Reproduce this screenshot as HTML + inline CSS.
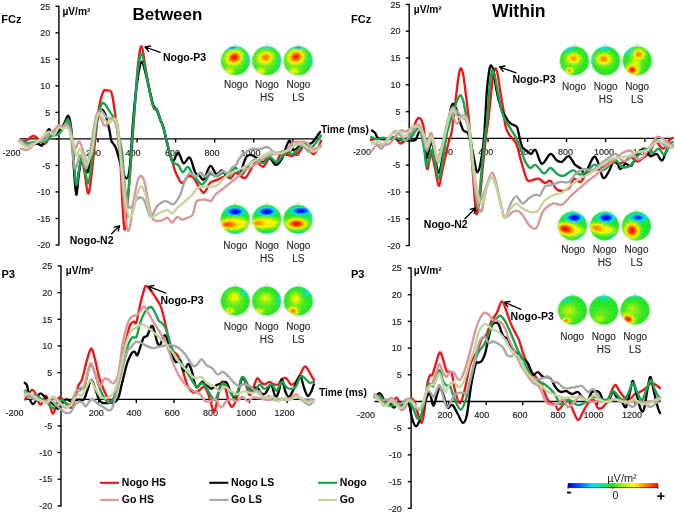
<!DOCTYPE html>
<html><head><meta charset="utf-8"><title>ERP</title>
<style>
html,body{margin:0;padding:0;background:#fff;}
body{width:675px;height:515px;overflow:hidden;font-family:"Liberation Sans",sans-serif;}
svg{display:block;font-family:"Liberation Sans",sans-serif;will-change:transform;filter:blur(0.3px);-webkit-font-smoothing:antialiased;}
.tk{font-size:9px;fill:#1c1c1c;stroke:#1c1c1c;stroke-width:0.15px;}
.tl{font-size:10px;fill:#262626;stroke:#262626;stroke-width:0.12px;}
.ttl{font-size:17px;font-weight:bold;fill:#000;}
.b11{font-size:11px;font-weight:bold;fill:#000;}
.b10{font-size:10.2px;font-weight:bold;fill:#000;}
.b105{font-size:10.5px;font-weight:bold;fill:#000;}
.r11{font-size:11px;fill:#222;}
.r105{font-size:10.5px;fill:#222;}
</style></head><body>
<svg width="675" height="515" viewBox="0 0 675 515">
<defs><filter id="bl" x="-20%" y="-20%" width="140%" height="140%"><feGaussianBlur stdDeviation="0.7"/></filter>
<clipPath id="c1"><circle cx="235.5" cy="60.7" r="14.6"/></clipPath>
<radialGradient id="g1"><stop offset="0.00" stop-color="rgb(250,250,0)" stop-opacity="0.39"/><stop offset="0.08" stop-color="rgb(250,250,0)" stop-opacity="0.38"/><stop offset="0.17" stop-color="rgb(250,250,0)" stop-opacity="0.35"/><stop offset="0.25" stop-color="rgb(250,250,0)" stop-opacity="0.31"/><stop offset="0.33" stop-color="rgb(250,250,0)" stop-opacity="0.25"/><stop offset="0.42" stop-color="rgb(250,250,0)" stop-opacity="0.20"/><stop offset="0.50" stop-color="rgb(250,250,0)" stop-opacity="0.15"/><stop offset="0.58" stop-color="rgb(250,250,0)" stop-opacity="0.10"/><stop offset="0.67" stop-color="rgb(250,250,0)" stop-opacity="0.07"/><stop offset="0.75" stop-color="rgb(250,250,0)" stop-opacity="0.04"/><stop offset="0.83" stop-color="rgb(250,250,0)" stop-opacity="0.02"/><stop offset="0.92" stop-color="rgb(250,250,0)" stop-opacity="0.01"/><stop offset="1.00" stop-color="rgb(250,250,0)" stop-opacity="0.00"/></radialGradient>
<radialGradient id="g2"><stop offset="0.00" stop-color="rgb(0,108,255)" stop-opacity="1.00"/><stop offset="0.08" stop-color="rgb(0,116,255)" stop-opacity="1.00"/><stop offset="0.17" stop-color="rgb(0,137,255)" stop-opacity="1.00"/><stop offset="0.25" stop-color="rgb(0,169,255)" stop-opacity="1.00"/><stop offset="0.33" stop-color="rgb(0,209,255)" stop-opacity="1.00"/><stop offset="0.42" stop-color="rgb(0,225,255)" stop-opacity="0.85"/><stop offset="0.50" stop-color="rgb(0,225,255)" stop-opacity="0.63"/><stop offset="0.58" stop-color="rgb(0,225,255)" stop-opacity="0.44"/><stop offset="0.67" stop-color="rgb(0,225,255)" stop-opacity="0.29"/><stop offset="0.75" stop-color="rgb(0,225,255)" stop-opacity="0.18"/><stop offset="0.83" stop-color="rgb(0,225,255)" stop-opacity="0.11"/><stop offset="0.92" stop-color="rgb(0,225,255)" stop-opacity="0.06"/><stop offset="1.00" stop-color="rgb(0,225,255)" stop-opacity="0.00"/></radialGradient>
<radialGradient id="g3"><stop offset="0.00" stop-color="rgb(242,18,0)" stop-opacity="1.00"/><stop offset="0.08" stop-color="rgb(244,26,0)" stop-opacity="1.00"/><stop offset="0.17" stop-color="rgb(250,50,0)" stop-opacity="1.00"/><stop offset="0.25" stop-color="rgb(255,92,0)" stop-opacity="1.00"/><stop offset="0.33" stop-color="rgb(255,151,0)" stop-opacity="1.00"/><stop offset="0.42" stop-color="rgb(253,200,0)" stop-opacity="1.00"/><stop offset="0.50" stop-color="rgb(250,248,0)" stop-opacity="1.00"/><stop offset="0.58" stop-color="rgb(250,250,0)" stop-opacity="0.71"/><stop offset="0.67" stop-color="rgb(250,250,0)" stop-opacity="0.47"/><stop offset="0.75" stop-color="rgb(250,250,0)" stop-opacity="0.29"/><stop offset="0.83" stop-color="rgb(250,250,0)" stop-opacity="0.17"/><stop offset="0.92" stop-color="rgb(250,250,0)" stop-opacity="0.10"/><stop offset="1.00" stop-color="rgb(250,250,0)" stop-opacity="0.00"/></radialGradient>
<radialGradient id="g4"><stop offset="0.00" stop-color="rgb(251,230,0)" stop-opacity="1.00"/><stop offset="0.08" stop-color="rgb(251,234,0)" stop-opacity="1.00"/><stop offset="0.17" stop-color="rgb(250,246,0)" stop-opacity="1.00"/><stop offset="0.25" stop-color="rgb(250,250,0)" stop-opacity="0.89"/><stop offset="0.33" stop-color="rgb(250,250,0)" stop-opacity="0.74"/><stop offset="0.42" stop-color="rgb(250,250,0)" stop-opacity="0.57"/><stop offset="0.50" stop-color="rgb(250,250,0)" stop-opacity="0.42"/><stop offset="0.58" stop-color="rgb(250,250,0)" stop-opacity="0.30"/><stop offset="0.67" stop-color="rgb(250,250,0)" stop-opacity="0.20"/><stop offset="0.75" stop-color="rgb(250,250,0)" stop-opacity="0.12"/><stop offset="0.83" stop-color="rgb(250,250,0)" stop-opacity="0.07"/><stop offset="0.92" stop-color="rgb(250,250,0)" stop-opacity="0.04"/><stop offset="1.00" stop-color="rgb(250,250,0)" stop-opacity="0.00"/></radialGradient>
<radialGradient id="g5"><stop offset="0.00" stop-color="rgb(0,225,255)" stop-opacity="0.41"/><stop offset="0.08" stop-color="rgb(0,225,255)" stop-opacity="0.40"/><stop offset="0.17" stop-color="rgb(0,225,255)" stop-opacity="0.36"/><stop offset="0.25" stop-color="rgb(0,225,255)" stop-opacity="0.32"/><stop offset="0.33" stop-color="rgb(0,225,255)" stop-opacity="0.26"/><stop offset="0.42" stop-color="rgb(0,225,255)" stop-opacity="0.20"/><stop offset="0.50" stop-color="rgb(0,225,255)" stop-opacity="0.15"/><stop offset="0.58" stop-color="rgb(0,225,255)" stop-opacity="0.10"/><stop offset="0.67" stop-color="rgb(0,225,255)" stop-opacity="0.07"/><stop offset="0.75" stop-color="rgb(0,225,255)" stop-opacity="0.04"/><stop offset="0.83" stop-color="rgb(0,225,255)" stop-opacity="0.03"/><stop offset="0.92" stop-color="rgb(0,225,255)" stop-opacity="0.01"/><stop offset="1.00" stop-color="rgb(0,225,255)" stop-opacity="0.00"/></radialGradient>
<clipPath id="c2"><circle cx="266.8" cy="60.7" r="14.6"/></clipPath>
<radialGradient id="g6"><stop offset="0.00" stop-color="rgb(250,250,0)" stop-opacity="0.39"/><stop offset="0.08" stop-color="rgb(250,250,0)" stop-opacity="0.38"/><stop offset="0.17" stop-color="rgb(250,250,0)" stop-opacity="0.35"/><stop offset="0.25" stop-color="rgb(250,250,0)" stop-opacity="0.31"/><stop offset="0.33" stop-color="rgb(250,250,0)" stop-opacity="0.25"/><stop offset="0.42" stop-color="rgb(250,250,0)" stop-opacity="0.20"/><stop offset="0.50" stop-color="rgb(250,250,0)" stop-opacity="0.15"/><stop offset="0.58" stop-color="rgb(250,250,0)" stop-opacity="0.10"/><stop offset="0.67" stop-color="rgb(250,250,0)" stop-opacity="0.07"/><stop offset="0.75" stop-color="rgb(250,250,0)" stop-opacity="0.04"/><stop offset="0.83" stop-color="rgb(250,250,0)" stop-opacity="0.02"/><stop offset="0.92" stop-color="rgb(250,250,0)" stop-opacity="0.01"/><stop offset="1.00" stop-color="rgb(250,250,0)" stop-opacity="0.00"/></radialGradient>
<radialGradient id="g7"><stop offset="0.00" stop-color="rgb(0,225,255)" stop-opacity="1.00"/><stop offset="0.08" stop-color="rgb(0,225,255)" stop-opacity="0.97"/><stop offset="0.17" stop-color="rgb(0,225,255)" stop-opacity="0.90"/><stop offset="0.25" stop-color="rgb(0,225,255)" stop-opacity="0.78"/><stop offset="0.33" stop-color="rgb(0,225,255)" stop-opacity="0.64"/><stop offset="0.42" stop-color="rgb(0,225,255)" stop-opacity="0.50"/><stop offset="0.50" stop-color="rgb(0,225,255)" stop-opacity="0.37"/><stop offset="0.58" stop-color="rgb(0,225,255)" stop-opacity="0.26"/><stop offset="0.67" stop-color="rgb(0,225,255)" stop-opacity="0.17"/><stop offset="0.75" stop-color="rgb(0,225,255)" stop-opacity="0.11"/><stop offset="0.83" stop-color="rgb(0,225,255)" stop-opacity="0.06"/><stop offset="0.92" stop-color="rgb(0,225,255)" stop-opacity="0.04"/><stop offset="1.00" stop-color="rgb(0,225,255)" stop-opacity="0.00"/></radialGradient>
<radialGradient id="g8"><stop offset="0.00" stop-color="rgb(255,118,0)" stop-opacity="1.00"/><stop offset="0.08" stop-color="rgb(255,127,0)" stop-opacity="1.00"/><stop offset="0.17" stop-color="rgb(255,151,0)" stop-opacity="1.00"/><stop offset="0.25" stop-color="rgb(254,179,0)" stop-opacity="1.00"/><stop offset="0.33" stop-color="rgb(252,214,0)" stop-opacity="1.00"/><stop offset="0.42" stop-color="rgb(250,250,0)" stop-opacity="0.99"/><stop offset="0.50" stop-color="rgb(250,250,0)" stop-opacity="0.73"/><stop offset="0.58" stop-color="rgb(250,250,0)" stop-opacity="0.51"/><stop offset="0.67" stop-color="rgb(250,250,0)" stop-opacity="0.34"/><stop offset="0.75" stop-color="rgb(250,250,0)" stop-opacity="0.21"/><stop offset="0.83" stop-color="rgb(250,250,0)" stop-opacity="0.12"/><stop offset="0.92" stop-color="rgb(250,250,0)" stop-opacity="0.07"/><stop offset="1.00" stop-color="rgb(250,250,0)" stop-opacity="0.00"/></radialGradient>
<radialGradient id="g9"><stop offset="0.00" stop-color="rgb(251,230,0)" stop-opacity="1.00"/><stop offset="0.08" stop-color="rgb(251,234,0)" stop-opacity="1.00"/><stop offset="0.17" stop-color="rgb(250,246,0)" stop-opacity="1.00"/><stop offset="0.25" stop-color="rgb(250,250,0)" stop-opacity="0.89"/><stop offset="0.33" stop-color="rgb(250,250,0)" stop-opacity="0.74"/><stop offset="0.42" stop-color="rgb(250,250,0)" stop-opacity="0.57"/><stop offset="0.50" stop-color="rgb(250,250,0)" stop-opacity="0.42"/><stop offset="0.58" stop-color="rgb(250,250,0)" stop-opacity="0.30"/><stop offset="0.67" stop-color="rgb(250,250,0)" stop-opacity="0.20"/><stop offset="0.75" stop-color="rgb(250,250,0)" stop-opacity="0.12"/><stop offset="0.83" stop-color="rgb(250,250,0)" stop-opacity="0.07"/><stop offset="0.92" stop-color="rgb(250,250,0)" stop-opacity="0.04"/><stop offset="1.00" stop-color="rgb(250,250,0)" stop-opacity="0.00"/></radialGradient>
<radialGradient id="g10"><stop offset="0.00" stop-color="rgb(0,225,255)" stop-opacity="0.41"/><stop offset="0.08" stop-color="rgb(0,225,255)" stop-opacity="0.40"/><stop offset="0.17" stop-color="rgb(0,225,255)" stop-opacity="0.36"/><stop offset="0.25" stop-color="rgb(0,225,255)" stop-opacity="0.32"/><stop offset="0.33" stop-color="rgb(0,225,255)" stop-opacity="0.26"/><stop offset="0.42" stop-color="rgb(0,225,255)" stop-opacity="0.20"/><stop offset="0.50" stop-color="rgb(0,225,255)" stop-opacity="0.15"/><stop offset="0.58" stop-color="rgb(0,225,255)" stop-opacity="0.10"/><stop offset="0.67" stop-color="rgb(0,225,255)" stop-opacity="0.07"/><stop offset="0.75" stop-color="rgb(0,225,255)" stop-opacity="0.04"/><stop offset="0.83" stop-color="rgb(0,225,255)" stop-opacity="0.03"/><stop offset="0.92" stop-color="rgb(0,225,255)" stop-opacity="0.01"/><stop offset="1.00" stop-color="rgb(0,225,255)" stop-opacity="0.00"/></radialGradient>
<clipPath id="c3"><circle cx="298.2" cy="60.7" r="14.6"/></clipPath>
<radialGradient id="g11"><stop offset="0.00" stop-color="rgb(250,250,0)" stop-opacity="0.39"/><stop offset="0.08" stop-color="rgb(250,250,0)" stop-opacity="0.38"/><stop offset="0.17" stop-color="rgb(250,250,0)" stop-opacity="0.35"/><stop offset="0.25" stop-color="rgb(250,250,0)" stop-opacity="0.31"/><stop offset="0.33" stop-color="rgb(250,250,0)" stop-opacity="0.25"/><stop offset="0.42" stop-color="rgb(250,250,0)" stop-opacity="0.20"/><stop offset="0.50" stop-color="rgb(250,250,0)" stop-opacity="0.15"/><stop offset="0.58" stop-color="rgb(250,250,0)" stop-opacity="0.10"/><stop offset="0.67" stop-color="rgb(250,250,0)" stop-opacity="0.07"/><stop offset="0.75" stop-color="rgb(250,250,0)" stop-opacity="0.04"/><stop offset="0.83" stop-color="rgb(250,250,0)" stop-opacity="0.02"/><stop offset="0.92" stop-color="rgb(250,250,0)" stop-opacity="0.01"/><stop offset="1.00" stop-color="rgb(250,250,0)" stop-opacity="0.00"/></radialGradient>
<radialGradient id="g12"><stop offset="0.00" stop-color="rgb(0,108,255)" stop-opacity="1.00"/><stop offset="0.08" stop-color="rgb(0,116,255)" stop-opacity="1.00"/><stop offset="0.17" stop-color="rgb(0,137,255)" stop-opacity="1.00"/><stop offset="0.25" stop-color="rgb(0,169,255)" stop-opacity="1.00"/><stop offset="0.33" stop-color="rgb(0,209,255)" stop-opacity="1.00"/><stop offset="0.42" stop-color="rgb(0,225,255)" stop-opacity="0.85"/><stop offset="0.50" stop-color="rgb(0,225,255)" stop-opacity="0.63"/><stop offset="0.58" stop-color="rgb(0,225,255)" stop-opacity="0.44"/><stop offset="0.67" stop-color="rgb(0,225,255)" stop-opacity="0.29"/><stop offset="0.75" stop-color="rgb(0,225,255)" stop-opacity="0.18"/><stop offset="0.83" stop-color="rgb(0,225,255)" stop-opacity="0.11"/><stop offset="0.92" stop-color="rgb(0,225,255)" stop-opacity="0.06"/><stop offset="1.00" stop-color="rgb(0,225,255)" stop-opacity="0.00"/></radialGradient>
<radialGradient id="g13"><stop offset="0.00" stop-color="rgb(245,30,0)" stop-opacity="1.00"/><stop offset="0.08" stop-color="rgb(247,38,0)" stop-opacity="1.00"/><stop offset="0.17" stop-color="rgb(253,61,0)" stop-opacity="1.00"/><stop offset="0.25" stop-color="rgb(255,105,0)" stop-opacity="1.00"/><stop offset="0.33" stop-color="rgb(255,160,0)" stop-opacity="1.00"/><stop offset="0.42" stop-color="rgb(252,207,0)" stop-opacity="1.00"/><stop offset="0.50" stop-color="rgb(250,250,0)" stop-opacity="0.98"/><stop offset="0.58" stop-color="rgb(250,250,0)" stop-opacity="0.68"/><stop offset="0.67" stop-color="rgb(250,250,0)" stop-opacity="0.45"/><stop offset="0.75" stop-color="rgb(250,250,0)" stop-opacity="0.28"/><stop offset="0.83" stop-color="rgb(250,250,0)" stop-opacity="0.17"/><stop offset="0.92" stop-color="rgb(250,250,0)" stop-opacity="0.09"/><stop offset="1.00" stop-color="rgb(250,250,0)" stop-opacity="0.00"/></radialGradient>
<radialGradient id="g14"><stop offset="0.00" stop-color="rgb(251,230,0)" stop-opacity="1.00"/><stop offset="0.08" stop-color="rgb(251,234,0)" stop-opacity="1.00"/><stop offset="0.17" stop-color="rgb(250,246,0)" stop-opacity="1.00"/><stop offset="0.25" stop-color="rgb(250,250,0)" stop-opacity="0.89"/><stop offset="0.33" stop-color="rgb(250,250,0)" stop-opacity="0.74"/><stop offset="0.42" stop-color="rgb(250,250,0)" stop-opacity="0.57"/><stop offset="0.50" stop-color="rgb(250,250,0)" stop-opacity="0.42"/><stop offset="0.58" stop-color="rgb(250,250,0)" stop-opacity="0.30"/><stop offset="0.67" stop-color="rgb(250,250,0)" stop-opacity="0.20"/><stop offset="0.75" stop-color="rgb(250,250,0)" stop-opacity="0.12"/><stop offset="0.83" stop-color="rgb(250,250,0)" stop-opacity="0.07"/><stop offset="0.92" stop-color="rgb(250,250,0)" stop-opacity="0.04"/><stop offset="1.00" stop-color="rgb(250,250,0)" stop-opacity="0.00"/></radialGradient>
<radialGradient id="g15"><stop offset="0.00" stop-color="rgb(0,225,255)" stop-opacity="0.41"/><stop offset="0.08" stop-color="rgb(0,225,255)" stop-opacity="0.40"/><stop offset="0.17" stop-color="rgb(0,225,255)" stop-opacity="0.36"/><stop offset="0.25" stop-color="rgb(0,225,255)" stop-opacity="0.32"/><stop offset="0.33" stop-color="rgb(0,225,255)" stop-opacity="0.26"/><stop offset="0.42" stop-color="rgb(0,225,255)" stop-opacity="0.20"/><stop offset="0.50" stop-color="rgb(0,225,255)" stop-opacity="0.15"/><stop offset="0.58" stop-color="rgb(0,225,255)" stop-opacity="0.10"/><stop offset="0.67" stop-color="rgb(0,225,255)" stop-opacity="0.07"/><stop offset="0.75" stop-color="rgb(0,225,255)" stop-opacity="0.04"/><stop offset="0.83" stop-color="rgb(0,225,255)" stop-opacity="0.03"/><stop offset="0.92" stop-color="rgb(0,225,255)" stop-opacity="0.01"/><stop offset="1.00" stop-color="rgb(0,225,255)" stop-opacity="0.00"/></radialGradient>
<clipPath id="c4"><circle cx="235.2" cy="219.4" r="14.6"/></clipPath>
<radialGradient id="g16"><stop offset="0.00" stop-color="rgb(0,5,228)" stop-opacity="1.00"/><stop offset="0.08" stop-color="rgb(0,8,230)" stop-opacity="1.00"/><stop offset="0.17" stop-color="rgb(0,18,236)" stop-opacity="1.00"/><stop offset="0.25" stop-color="rgb(0,33,245)" stop-opacity="1.00"/><stop offset="0.33" stop-color="rgb(0,56,255)" stop-opacity="1.00"/><stop offset="0.42" stop-color="rgb(0,126,255)" stop-opacity="1.00"/><stop offset="0.50" stop-color="rgb(0,195,255)" stop-opacity="1.00"/><stop offset="0.58" stop-color="rgb(0,225,255)" stop-opacity="0.82"/><stop offset="0.67" stop-color="rgb(0,225,255)" stop-opacity="0.54"/><stop offset="0.75" stop-color="rgb(0,225,255)" stop-opacity="0.34"/><stop offset="0.83" stop-color="rgb(0,225,255)" stop-opacity="0.20"/><stop offset="0.92" stop-color="rgb(0,225,255)" stop-opacity="0.11"/><stop offset="1.00" stop-color="rgb(0,225,255)" stop-opacity="0.00"/></radialGradient>
<radialGradient id="g17"><stop offset="0.00" stop-color="rgb(255,150,0)" stop-opacity="1.00"/><stop offset="0.08" stop-color="rgb(255,156,0)" stop-opacity="1.00"/><stop offset="0.17" stop-color="rgb(254,173,0)" stop-opacity="1.00"/><stop offset="0.25" stop-color="rgb(253,199,0)" stop-opacity="1.00"/><stop offset="0.33" stop-color="rgb(251,231,0)" stop-opacity="1.00"/><stop offset="0.42" stop-color="rgb(250,250,0)" stop-opacity="0.89"/><stop offset="0.50" stop-color="rgb(250,250,0)" stop-opacity="0.66"/><stop offset="0.58" stop-color="rgb(250,250,0)" stop-opacity="0.46"/><stop offset="0.67" stop-color="rgb(250,250,0)" stop-opacity="0.30"/><stop offset="0.75" stop-color="rgb(250,250,0)" stop-opacity="0.19"/><stop offset="0.83" stop-color="rgb(250,250,0)" stop-opacity="0.11"/><stop offset="0.92" stop-color="rgb(250,250,0)" stop-opacity="0.06"/><stop offset="1.00" stop-color="rgb(250,250,0)" stop-opacity="0.00"/></radialGradient>
<radialGradient id="g18" fx="0.3" fy="0.55"><stop offset="0.00" stop-color="rgb(254,66,0)" stop-opacity="1.00"/><stop offset="0.08" stop-color="rgb(255,74,0)" stop-opacity="1.00"/><stop offset="0.17" stop-color="rgb(255,102,0)" stop-opacity="1.00"/><stop offset="0.25" stop-color="rgb(255,145,0)" stop-opacity="1.00"/><stop offset="0.33" stop-color="rgb(253,185,0)" stop-opacity="1.00"/><stop offset="0.42" stop-color="rgb(251,228,0)" stop-opacity="1.00"/><stop offset="0.50" stop-color="rgb(250,250,0)" stop-opacity="0.86"/><stop offset="0.58" stop-color="rgb(250,250,0)" stop-opacity="0.60"/><stop offset="0.67" stop-color="rgb(250,250,0)" stop-opacity="0.40"/><stop offset="0.75" stop-color="rgb(250,250,0)" stop-opacity="0.25"/><stop offset="0.83" stop-color="rgb(250,250,0)" stop-opacity="0.15"/><stop offset="0.92" stop-color="rgb(250,250,0)" stop-opacity="0.08"/><stop offset="1.00" stop-color="rgb(250,250,0)" stop-opacity="0.00"/></radialGradient>
<radialGradient id="g19"><stop offset="0.00" stop-color="rgb(0,225,255)" stop-opacity="0.69"/><stop offset="0.08" stop-color="rgb(0,225,255)" stop-opacity="0.67"/><stop offset="0.17" stop-color="rgb(0,225,255)" stop-opacity="0.62"/><stop offset="0.25" stop-color="rgb(0,225,255)" stop-opacity="0.54"/><stop offset="0.33" stop-color="rgb(0,225,255)" stop-opacity="0.44"/><stop offset="0.42" stop-color="rgb(0,225,255)" stop-opacity="0.34"/><stop offset="0.50" stop-color="rgb(0,225,255)" stop-opacity="0.25"/><stop offset="0.58" stop-color="rgb(0,225,255)" stop-opacity="0.18"/><stop offset="0.67" stop-color="rgb(0,225,255)" stop-opacity="0.12"/><stop offset="0.75" stop-color="rgb(0,225,255)" stop-opacity="0.07"/><stop offset="0.83" stop-color="rgb(0,225,255)" stop-opacity="0.04"/><stop offset="0.92" stop-color="rgb(0,225,255)" stop-opacity="0.02"/><stop offset="1.00" stop-color="rgb(0,225,255)" stop-opacity="0.00"/></radialGradient>
<clipPath id="c5"><circle cx="266.8" cy="219.4" r="14.6"/></clipPath>
<radialGradient id="g20"><stop offset="0.00" stop-color="rgb(0,5,228)" stop-opacity="1.00"/><stop offset="0.08" stop-color="rgb(0,8,230)" stop-opacity="1.00"/><stop offset="0.17" stop-color="rgb(0,18,236)" stop-opacity="1.00"/><stop offset="0.25" stop-color="rgb(0,33,245)" stop-opacity="1.00"/><stop offset="0.33" stop-color="rgb(0,56,255)" stop-opacity="1.00"/><stop offset="0.42" stop-color="rgb(0,126,255)" stop-opacity="1.00"/><stop offset="0.50" stop-color="rgb(0,195,255)" stop-opacity="1.00"/><stop offset="0.58" stop-color="rgb(0,225,255)" stop-opacity="0.82"/><stop offset="0.67" stop-color="rgb(0,225,255)" stop-opacity="0.54"/><stop offset="0.75" stop-color="rgb(0,225,255)" stop-opacity="0.34"/><stop offset="0.83" stop-color="rgb(0,225,255)" stop-opacity="0.20"/><stop offset="0.92" stop-color="rgb(0,225,255)" stop-opacity="0.11"/><stop offset="1.00" stop-color="rgb(0,225,255)" stop-opacity="0.00"/></radialGradient>
<radialGradient id="g21"><stop offset="0.00" stop-color="rgb(253,198,0)" stop-opacity="1.00"/><stop offset="0.08" stop-color="rgb(252,203,0)" stop-opacity="1.00"/><stop offset="0.17" stop-color="rgb(252,217,0)" stop-opacity="1.00"/><stop offset="0.25" stop-color="rgb(251,238,0)" stop-opacity="1.00"/><stop offset="0.33" stop-color="rgb(250,250,0)" stop-opacity="0.89"/><stop offset="0.42" stop-color="rgb(250,250,0)" stop-opacity="0.70"/><stop offset="0.50" stop-color="rgb(250,250,0)" stop-opacity="0.51"/><stop offset="0.58" stop-color="rgb(250,250,0)" stop-opacity="0.36"/><stop offset="0.67" stop-color="rgb(250,250,0)" stop-opacity="0.24"/><stop offset="0.75" stop-color="rgb(250,250,0)" stop-opacity="0.15"/><stop offset="0.83" stop-color="rgb(250,250,0)" stop-opacity="0.09"/><stop offset="0.92" stop-color="rgb(250,250,0)" stop-opacity="0.05"/><stop offset="1.00" stop-color="rgb(250,250,0)" stop-opacity="0.00"/></radialGradient>
<radialGradient id="g22" fx="0.25" fy="0.5"><stop offset="0.00" stop-color="rgb(255,139,0)" stop-opacity="1.00"/><stop offset="0.08" stop-color="rgb(255,147,0)" stop-opacity="1.00"/><stop offset="0.17" stop-color="rgb(254,165,0)" stop-opacity="1.00"/><stop offset="0.25" stop-color="rgb(253,192,0)" stop-opacity="1.00"/><stop offset="0.33" stop-color="rgb(251,225,0)" stop-opacity="1.00"/><stop offset="0.42" stop-color="rgb(250,250,0)" stop-opacity="0.92"/><stop offset="0.50" stop-color="rgb(250,250,0)" stop-opacity="0.68"/><stop offset="0.58" stop-color="rgb(250,250,0)" stop-opacity="0.48"/><stop offset="0.67" stop-color="rgb(250,250,0)" stop-opacity="0.31"/><stop offset="0.75" stop-color="rgb(250,250,0)" stop-opacity="0.20"/><stop offset="0.83" stop-color="rgb(250,250,0)" stop-opacity="0.12"/><stop offset="0.92" stop-color="rgb(250,250,0)" stop-opacity="0.06"/><stop offset="1.00" stop-color="rgb(250,250,0)" stop-opacity="0.00"/></radialGradient>
<radialGradient id="g23"><stop offset="0.00" stop-color="rgb(0,225,255)" stop-opacity="0.69"/><stop offset="0.08" stop-color="rgb(0,225,255)" stop-opacity="0.67"/><stop offset="0.17" stop-color="rgb(0,225,255)" stop-opacity="0.62"/><stop offset="0.25" stop-color="rgb(0,225,255)" stop-opacity="0.54"/><stop offset="0.33" stop-color="rgb(0,225,255)" stop-opacity="0.44"/><stop offset="0.42" stop-color="rgb(0,225,255)" stop-opacity="0.34"/><stop offset="0.50" stop-color="rgb(0,225,255)" stop-opacity="0.25"/><stop offset="0.58" stop-color="rgb(0,225,255)" stop-opacity="0.18"/><stop offset="0.67" stop-color="rgb(0,225,255)" stop-opacity="0.12"/><stop offset="0.75" stop-color="rgb(0,225,255)" stop-opacity="0.07"/><stop offset="0.83" stop-color="rgb(0,225,255)" stop-opacity="0.04"/><stop offset="0.92" stop-color="rgb(0,225,255)" stop-opacity="0.02"/><stop offset="1.00" stop-color="rgb(0,225,255)" stop-opacity="0.00"/></radialGradient>
<clipPath id="c6"><circle cx="298.0" cy="219.4" r="14.6"/></clipPath>
<radialGradient id="g24"><stop offset="0.00" stop-color="rgb(0,20,237)" stop-opacity="1.00"/><stop offset="0.08" stop-color="rgb(0,23,239)" stop-opacity="1.00"/><stop offset="0.17" stop-color="rgb(0,32,244)" stop-opacity="1.00"/><stop offset="0.25" stop-color="rgb(0,46,252)" stop-opacity="1.00"/><stop offset="0.33" stop-color="rgb(0,93,255)" stop-opacity="1.00"/><stop offset="0.42" stop-color="rgb(0,157,255)" stop-opacity="1.00"/><stop offset="0.50" stop-color="rgb(0,220,255)" stop-opacity="1.00"/><stop offset="0.58" stop-color="rgb(0,225,255)" stop-opacity="0.72"/><stop offset="0.67" stop-color="rgb(0,225,255)" stop-opacity="0.47"/><stop offset="0.75" stop-color="rgb(0,225,255)" stop-opacity="0.30"/><stop offset="0.83" stop-color="rgb(0,225,255)" stop-opacity="0.18"/><stop offset="0.92" stop-color="rgb(0,225,255)" stop-opacity="0.10"/><stop offset="1.00" stop-color="rgb(0,225,255)" stop-opacity="0.00"/></radialGradient>
<radialGradient id="g25"><stop offset="0.00" stop-color="rgb(0,225,255)" stop-opacity="0.69"/><stop offset="0.08" stop-color="rgb(0,225,255)" stop-opacity="0.67"/><stop offset="0.17" stop-color="rgb(0,225,255)" stop-opacity="0.62"/><stop offset="0.25" stop-color="rgb(0,225,255)" stop-opacity="0.54"/><stop offset="0.33" stop-color="rgb(0,225,255)" stop-opacity="0.44"/><stop offset="0.42" stop-color="rgb(0,225,255)" stop-opacity="0.34"/><stop offset="0.50" stop-color="rgb(0,225,255)" stop-opacity="0.25"/><stop offset="0.58" stop-color="rgb(0,225,255)" stop-opacity="0.18"/><stop offset="0.67" stop-color="rgb(0,225,255)" stop-opacity="0.12"/><stop offset="0.75" stop-color="rgb(0,225,255)" stop-opacity="0.07"/><stop offset="0.83" stop-color="rgb(0,225,255)" stop-opacity="0.04"/><stop offset="0.92" stop-color="rgb(0,225,255)" stop-opacity="0.02"/><stop offset="1.00" stop-color="rgb(0,225,255)" stop-opacity="0.00"/></radialGradient>
<radialGradient id="g26"><stop offset="0.00" stop-color="rgb(240,10,0)" stop-opacity="1.00"/><stop offset="0.08" stop-color="rgb(242,18,0)" stop-opacity="1.00"/><stop offset="0.17" stop-color="rgb(248,43,0)" stop-opacity="1.00"/><stop offset="0.25" stop-color="rgb(255,83,0)" stop-opacity="1.00"/><stop offset="0.33" stop-color="rgb(255,144,0)" stop-opacity="1.00"/><stop offset="0.42" stop-color="rgb(253,195,0)" stop-opacity="1.00"/><stop offset="0.50" stop-color="rgb(250,244,0)" stop-opacity="1.00"/><stop offset="0.58" stop-color="rgb(250,250,0)" stop-opacity="0.73"/><stop offset="0.67" stop-color="rgb(250,250,0)" stop-opacity="0.48"/><stop offset="0.75" stop-color="rgb(250,250,0)" stop-opacity="0.30"/><stop offset="0.83" stop-color="rgb(250,250,0)" stop-opacity="0.18"/><stop offset="0.92" stop-color="rgb(250,250,0)" stop-opacity="0.10"/><stop offset="1.00" stop-color="rgb(250,250,0)" stop-opacity="0.00"/></radialGradient>
<radialGradient id="g27"><stop offset="0.00" stop-color="rgb(0,225,255)" stop-opacity="0.69"/><stop offset="0.08" stop-color="rgb(0,225,255)" stop-opacity="0.67"/><stop offset="0.17" stop-color="rgb(0,225,255)" stop-opacity="0.62"/><stop offset="0.25" stop-color="rgb(0,225,255)" stop-opacity="0.54"/><stop offset="0.33" stop-color="rgb(0,225,255)" stop-opacity="0.44"/><stop offset="0.42" stop-color="rgb(0,225,255)" stop-opacity="0.34"/><stop offset="0.50" stop-color="rgb(0,225,255)" stop-opacity="0.25"/><stop offset="0.58" stop-color="rgb(0,225,255)" stop-opacity="0.18"/><stop offset="0.67" stop-color="rgb(0,225,255)" stop-opacity="0.12"/><stop offset="0.75" stop-color="rgb(0,225,255)" stop-opacity="0.07"/><stop offset="0.83" stop-color="rgb(0,225,255)" stop-opacity="0.04"/><stop offset="0.92" stop-color="rgb(0,225,255)" stop-opacity="0.02"/><stop offset="1.00" stop-color="rgb(0,225,255)" stop-opacity="0.00"/></radialGradient>
<clipPath id="c7"><circle cx="574.4" cy="60.8" r="14.6"/></clipPath>
<radialGradient id="g28"><stop offset="0.00" stop-color="rgb(250,250,0)" stop-opacity="0.35"/><stop offset="0.08" stop-color="rgb(250,250,0)" stop-opacity="0.34"/><stop offset="0.17" stop-color="rgb(250,250,0)" stop-opacity="0.31"/><stop offset="0.25" stop-color="rgb(250,250,0)" stop-opacity="0.27"/><stop offset="0.33" stop-color="rgb(250,250,0)" stop-opacity="0.22"/><stop offset="0.42" stop-color="rgb(250,250,0)" stop-opacity="0.17"/><stop offset="0.50" stop-color="rgb(250,250,0)" stop-opacity="0.13"/><stop offset="0.58" stop-color="rgb(250,250,0)" stop-opacity="0.09"/><stop offset="0.67" stop-color="rgb(250,250,0)" stop-opacity="0.06"/><stop offset="0.75" stop-color="rgb(250,250,0)" stop-opacity="0.04"/><stop offset="0.83" stop-color="rgb(250,250,0)" stop-opacity="0.02"/><stop offset="0.92" stop-color="rgb(250,250,0)" stop-opacity="0.01"/><stop offset="1.00" stop-color="rgb(250,250,0)" stop-opacity="0.00"/></radialGradient>
<radialGradient id="g29"><stop offset="0.00" stop-color="rgb(0,225,255)" stop-opacity="0.84"/><stop offset="0.08" stop-color="rgb(0,225,255)" stop-opacity="0.82"/><stop offset="0.17" stop-color="rgb(0,225,255)" stop-opacity="0.75"/><stop offset="0.25" stop-color="rgb(0,225,255)" stop-opacity="0.66"/><stop offset="0.33" stop-color="rgb(0,225,255)" stop-opacity="0.54"/><stop offset="0.42" stop-color="rgb(0,225,255)" stop-opacity="0.42"/><stop offset="0.50" stop-color="rgb(0,225,255)" stop-opacity="0.31"/><stop offset="0.58" stop-color="rgb(0,225,255)" stop-opacity="0.22"/><stop offset="0.67" stop-color="rgb(0,225,255)" stop-opacity="0.14"/><stop offset="0.75" stop-color="rgb(0,225,255)" stop-opacity="0.09"/><stop offset="0.83" stop-color="rgb(0,225,255)" stop-opacity="0.05"/><stop offset="0.92" stop-color="rgb(0,225,255)" stop-opacity="0.03"/><stop offset="1.00" stop-color="rgb(0,225,255)" stop-opacity="0.00"/></radialGradient>
<radialGradient id="g30"><stop offset="0.00" stop-color="rgb(255,150,0)" stop-opacity="1.00"/><stop offset="0.08" stop-color="rgb(255,156,0)" stop-opacity="1.00"/><stop offset="0.17" stop-color="rgb(254,173,0)" stop-opacity="1.00"/><stop offset="0.25" stop-color="rgb(253,199,0)" stop-opacity="1.00"/><stop offset="0.33" stop-color="rgb(251,231,0)" stop-opacity="1.00"/><stop offset="0.42" stop-color="rgb(250,250,0)" stop-opacity="0.89"/><stop offset="0.50" stop-color="rgb(250,250,0)" stop-opacity="0.66"/><stop offset="0.58" stop-color="rgb(250,250,0)" stop-opacity="0.46"/><stop offset="0.67" stop-color="rgb(250,250,0)" stop-opacity="0.30"/><stop offset="0.75" stop-color="rgb(250,250,0)" stop-opacity="0.19"/><stop offset="0.83" stop-color="rgb(250,250,0)" stop-opacity="0.11"/><stop offset="0.92" stop-color="rgb(250,250,0)" stop-opacity="0.06"/><stop offset="1.00" stop-color="rgb(250,250,0)" stop-opacity="0.00"/></radialGradient>
<radialGradient id="g31"><stop offset="0.00" stop-color="rgb(255,150,0)" stop-opacity="1.00"/><stop offset="0.08" stop-color="rgb(255,156,0)" stop-opacity="1.00"/><stop offset="0.17" stop-color="rgb(254,173,0)" stop-opacity="1.00"/><stop offset="0.25" stop-color="rgb(253,199,0)" stop-opacity="1.00"/><stop offset="0.33" stop-color="rgb(251,231,0)" stop-opacity="1.00"/><stop offset="0.42" stop-color="rgb(250,250,0)" stop-opacity="0.89"/><stop offset="0.50" stop-color="rgb(250,250,0)" stop-opacity="0.66"/><stop offset="0.58" stop-color="rgb(250,250,0)" stop-opacity="0.46"/><stop offset="0.67" stop-color="rgb(250,250,0)" stop-opacity="0.30"/><stop offset="0.75" stop-color="rgb(250,250,0)" stop-opacity="0.19"/><stop offset="0.83" stop-color="rgb(250,250,0)" stop-opacity="0.11"/><stop offset="0.92" stop-color="rgb(250,250,0)" stop-opacity="0.06"/><stop offset="1.00" stop-color="rgb(250,250,0)" stop-opacity="0.00"/></radialGradient>
<clipPath id="c8"><circle cx="605.7" cy="60.8" r="14.6"/></clipPath>
<radialGradient id="g32"><stop offset="0.00" stop-color="rgb(250,250,0)" stop-opacity="0.35"/><stop offset="0.08" stop-color="rgb(250,250,0)" stop-opacity="0.34"/><stop offset="0.17" stop-color="rgb(250,250,0)" stop-opacity="0.31"/><stop offset="0.25" stop-color="rgb(250,250,0)" stop-opacity="0.27"/><stop offset="0.33" stop-color="rgb(250,250,0)" stop-opacity="0.22"/><stop offset="0.42" stop-color="rgb(250,250,0)" stop-opacity="0.17"/><stop offset="0.50" stop-color="rgb(250,250,0)" stop-opacity="0.13"/><stop offset="0.58" stop-color="rgb(250,250,0)" stop-opacity="0.09"/><stop offset="0.67" stop-color="rgb(250,250,0)" stop-opacity="0.06"/><stop offset="0.75" stop-color="rgb(250,250,0)" stop-opacity="0.04"/><stop offset="0.83" stop-color="rgb(250,250,0)" stop-opacity="0.02"/><stop offset="0.92" stop-color="rgb(250,250,0)" stop-opacity="0.01"/><stop offset="1.00" stop-color="rgb(250,250,0)" stop-opacity="0.00"/></radialGradient>
<radialGradient id="g33"><stop offset="0.00" stop-color="rgb(0,225,255)" stop-opacity="1.00"/><stop offset="0.08" stop-color="rgb(0,225,255)" stop-opacity="0.97"/><stop offset="0.17" stop-color="rgb(0,225,255)" stop-opacity="0.90"/><stop offset="0.25" stop-color="rgb(0,225,255)" stop-opacity="0.78"/><stop offset="0.33" stop-color="rgb(0,225,255)" stop-opacity="0.64"/><stop offset="0.42" stop-color="rgb(0,225,255)" stop-opacity="0.50"/><stop offset="0.50" stop-color="rgb(0,225,255)" stop-opacity="0.37"/><stop offset="0.58" stop-color="rgb(0,225,255)" stop-opacity="0.26"/><stop offset="0.67" stop-color="rgb(0,225,255)" stop-opacity="0.17"/><stop offset="0.75" stop-color="rgb(0,225,255)" stop-opacity="0.11"/><stop offset="0.83" stop-color="rgb(0,225,255)" stop-opacity="0.06"/><stop offset="0.92" stop-color="rgb(0,225,255)" stop-opacity="0.04"/><stop offset="1.00" stop-color="rgb(0,225,255)" stop-opacity="0.00"/></radialGradient>
<radialGradient id="g34"><stop offset="0.00" stop-color="rgb(0,225,255)" stop-opacity="0.54"/><stop offset="0.08" stop-color="rgb(0,225,255)" stop-opacity="0.53"/><stop offset="0.17" stop-color="rgb(0,225,255)" stop-opacity="0.49"/><stop offset="0.25" stop-color="rgb(0,225,255)" stop-opacity="0.42"/><stop offset="0.33" stop-color="rgb(0,225,255)" stop-opacity="0.35"/><stop offset="0.42" stop-color="rgb(0,225,255)" stop-opacity="0.27"/><stop offset="0.50" stop-color="rgb(0,225,255)" stop-opacity="0.20"/><stop offset="0.58" stop-color="rgb(0,225,255)" stop-opacity="0.14"/><stop offset="0.67" stop-color="rgb(0,225,255)" stop-opacity="0.09"/><stop offset="0.75" stop-color="rgb(0,225,255)" stop-opacity="0.06"/><stop offset="0.83" stop-color="rgb(0,225,255)" stop-opacity="0.03"/><stop offset="0.92" stop-color="rgb(0,225,255)" stop-opacity="0.02"/><stop offset="1.00" stop-color="rgb(0,225,255)" stop-opacity="0.00"/></radialGradient>
<radialGradient id="g35"><stop offset="0.00" stop-color="rgb(255,123,0)" stop-opacity="1.00"/><stop offset="0.08" stop-color="rgb(255,132,0)" stop-opacity="1.00"/><stop offset="0.17" stop-color="rgb(255,154,0)" stop-opacity="1.00"/><stop offset="0.25" stop-color="rgb(253,182,0)" stop-opacity="1.00"/><stop offset="0.33" stop-color="rgb(252,217,0)" stop-opacity="1.00"/><stop offset="0.42" stop-color="rgb(250,250,0)" stop-opacity="0.97"/><stop offset="0.50" stop-color="rgb(250,250,0)" stop-opacity="0.72"/><stop offset="0.58" stop-color="rgb(250,250,0)" stop-opacity="0.50"/><stop offset="0.67" stop-color="rgb(250,250,0)" stop-opacity="0.33"/><stop offset="0.75" stop-color="rgb(250,250,0)" stop-opacity="0.21"/><stop offset="0.83" stop-color="rgb(250,250,0)" stop-opacity="0.12"/><stop offset="0.92" stop-color="rgb(250,250,0)" stop-opacity="0.07"/><stop offset="1.00" stop-color="rgb(250,250,0)" stop-opacity="0.00"/></radialGradient>
<clipPath id="c9"><circle cx="637.2" cy="60.8" r="14.6"/></clipPath>
<radialGradient id="g36"><stop offset="0.00" stop-color="rgb(250,250,0)" stop-opacity="0.39"/><stop offset="0.08" stop-color="rgb(250,250,0)" stop-opacity="0.38"/><stop offset="0.17" stop-color="rgb(250,250,0)" stop-opacity="0.35"/><stop offset="0.25" stop-color="rgb(250,250,0)" stop-opacity="0.31"/><stop offset="0.33" stop-color="rgb(250,250,0)" stop-opacity="0.25"/><stop offset="0.42" stop-color="rgb(250,250,0)" stop-opacity="0.20"/><stop offset="0.50" stop-color="rgb(250,250,0)" stop-opacity="0.15"/><stop offset="0.58" stop-color="rgb(250,250,0)" stop-opacity="0.10"/><stop offset="0.67" stop-color="rgb(250,250,0)" stop-opacity="0.07"/><stop offset="0.75" stop-color="rgb(250,250,0)" stop-opacity="0.04"/><stop offset="0.83" stop-color="rgb(250,250,0)" stop-opacity="0.02"/><stop offset="0.92" stop-color="rgb(250,250,0)" stop-opacity="0.01"/><stop offset="1.00" stop-color="rgb(250,250,0)" stop-opacity="0.00"/></radialGradient>
<radialGradient id="g37"><stop offset="0.00" stop-color="rgb(0,225,255)" stop-opacity="0.84"/><stop offset="0.08" stop-color="rgb(0,225,255)" stop-opacity="0.82"/><stop offset="0.17" stop-color="rgb(0,225,255)" stop-opacity="0.75"/><stop offset="0.25" stop-color="rgb(0,225,255)" stop-opacity="0.66"/><stop offset="0.33" stop-color="rgb(0,225,255)" stop-opacity="0.54"/><stop offset="0.42" stop-color="rgb(0,225,255)" stop-opacity="0.42"/><stop offset="0.50" stop-color="rgb(0,225,255)" stop-opacity="0.31"/><stop offset="0.58" stop-color="rgb(0,225,255)" stop-opacity="0.22"/><stop offset="0.67" stop-color="rgb(0,225,255)" stop-opacity="0.14"/><stop offset="0.75" stop-color="rgb(0,225,255)" stop-opacity="0.09"/><stop offset="0.83" stop-color="rgb(0,225,255)" stop-opacity="0.05"/><stop offset="0.92" stop-color="rgb(0,225,255)" stop-opacity="0.03"/><stop offset="1.00" stop-color="rgb(0,225,255)" stop-opacity="0.00"/></radialGradient>
<radialGradient id="g38"><stop offset="0.00" stop-color="rgb(255,118,0)" stop-opacity="1.00"/><stop offset="0.08" stop-color="rgb(255,127,0)" stop-opacity="1.00"/><stop offset="0.17" stop-color="rgb(255,151,0)" stop-opacity="1.00"/><stop offset="0.25" stop-color="rgb(254,179,0)" stop-opacity="1.00"/><stop offset="0.33" stop-color="rgb(252,214,0)" stop-opacity="1.00"/><stop offset="0.42" stop-color="rgb(250,250,0)" stop-opacity="0.99"/><stop offset="0.50" stop-color="rgb(250,250,0)" stop-opacity="0.73"/><stop offset="0.58" stop-color="rgb(250,250,0)" stop-opacity="0.51"/><stop offset="0.67" stop-color="rgb(250,250,0)" stop-opacity="0.34"/><stop offset="0.75" stop-color="rgb(250,250,0)" stop-opacity="0.21"/><stop offset="0.83" stop-color="rgb(250,250,0)" stop-opacity="0.12"/><stop offset="0.92" stop-color="rgb(250,250,0)" stop-opacity="0.07"/><stop offset="1.00" stop-color="rgb(250,250,0)" stop-opacity="0.00"/></radialGradient>
<radialGradient id="g39"><stop offset="0.00" stop-color="rgb(250,250,0)" stop-opacity="0.86"/><stop offset="0.08" stop-color="rgb(250,250,0)" stop-opacity="0.83"/><stop offset="0.17" stop-color="rgb(250,250,0)" stop-opacity="0.77"/><stop offset="0.25" stop-color="rgb(250,250,0)" stop-opacity="0.67"/><stop offset="0.33" stop-color="rgb(250,250,0)" stop-opacity="0.55"/><stop offset="0.42" stop-color="rgb(250,250,0)" stop-opacity="0.43"/><stop offset="0.50" stop-color="rgb(250,250,0)" stop-opacity="0.32"/><stop offset="0.58" stop-color="rgb(250,250,0)" stop-opacity="0.22"/><stop offset="0.67" stop-color="rgb(250,250,0)" stop-opacity="0.15"/><stop offset="0.75" stop-color="rgb(250,250,0)" stop-opacity="0.09"/><stop offset="0.83" stop-color="rgb(250,250,0)" stop-opacity="0.05"/><stop offset="0.92" stop-color="rgb(250,250,0)" stop-opacity="0.03"/><stop offset="1.00" stop-color="rgb(250,250,0)" stop-opacity="0.00"/></radialGradient>
<radialGradient id="g40"><stop offset="0.00" stop-color="rgb(243,22,0)" stop-opacity="1.00"/><stop offset="0.08" stop-color="rgb(245,30,0)" stop-opacity="1.00"/><stop offset="0.17" stop-color="rgb(251,54,0)" stop-opacity="1.00"/><stop offset="0.25" stop-color="rgb(255,96,0)" stop-opacity="1.00"/><stop offset="0.33" stop-color="rgb(255,154,0)" stop-opacity="1.00"/><stop offset="0.42" stop-color="rgb(252,202,0)" stop-opacity="1.00"/><stop offset="0.50" stop-color="rgb(250,250,0)" stop-opacity="1.00"/><stop offset="0.58" stop-color="rgb(250,250,0)" stop-opacity="0.70"/><stop offset="0.67" stop-color="rgb(250,250,0)" stop-opacity="0.46"/><stop offset="0.75" stop-color="rgb(250,250,0)" stop-opacity="0.29"/><stop offset="0.83" stop-color="rgb(250,250,0)" stop-opacity="0.17"/><stop offset="0.92" stop-color="rgb(250,250,0)" stop-opacity="0.10"/><stop offset="1.00" stop-color="rgb(250,250,0)" stop-opacity="0.00"/></radialGradient>
<clipPath id="c10"><circle cx="572.5" cy="226.0" r="14.6"/></clipPath>
<radialGradient id="g41"><stop offset="0.00" stop-color="rgb(0,8,230)" stop-opacity="1.00"/><stop offset="0.08" stop-color="rgb(0,12,232)" stop-opacity="1.00"/><stop offset="0.17" stop-color="rgb(0,21,238)" stop-opacity="1.00"/><stop offset="0.25" stop-color="rgb(0,36,247)" stop-opacity="1.00"/><stop offset="0.33" stop-color="rgb(0,64,255)" stop-opacity="1.00"/><stop offset="0.42" stop-color="rgb(0,133,255)" stop-opacity="1.00"/><stop offset="0.50" stop-color="rgb(0,201,255)" stop-opacity="1.00"/><stop offset="0.58" stop-color="rgb(0,225,255)" stop-opacity="0.79"/><stop offset="0.67" stop-color="rgb(0,225,255)" stop-opacity="0.52"/><stop offset="0.75" stop-color="rgb(0,225,255)" stop-opacity="0.33"/><stop offset="0.83" stop-color="rgb(0,225,255)" stop-opacity="0.19"/><stop offset="0.92" stop-color="rgb(0,225,255)" stop-opacity="0.11"/><stop offset="1.00" stop-color="rgb(0,225,255)" stop-opacity="0.00"/></radialGradient>
<radialGradient id="g42"><stop offset="0.00" stop-color="rgb(252,206,0)" stop-opacity="1.00"/><stop offset="0.08" stop-color="rgb(252,211,0)" stop-opacity="1.00"/><stop offset="0.17" stop-color="rgb(251,224,0)" stop-opacity="1.00"/><stop offset="0.25" stop-color="rgb(250,245,0)" stop-opacity="1.00"/><stop offset="0.33" stop-color="rgb(250,250,0)" stop-opacity="0.85"/><stop offset="0.42" stop-color="rgb(250,250,0)" stop-opacity="0.67"/><stop offset="0.50" stop-color="rgb(250,250,0)" stop-opacity="0.49"/><stop offset="0.58" stop-color="rgb(250,250,0)" stop-opacity="0.34"/><stop offset="0.67" stop-color="rgb(250,250,0)" stop-opacity="0.23"/><stop offset="0.75" stop-color="rgb(250,250,0)" stop-opacity="0.14"/><stop offset="0.83" stop-color="rgb(250,250,0)" stop-opacity="0.08"/><stop offset="0.92" stop-color="rgb(250,250,0)" stop-opacity="0.05"/><stop offset="1.00" stop-color="rgb(250,250,0)" stop-opacity="0.00"/></radialGradient>
<radialGradient id="g43" fx="0.32" fy="0.5"><stop offset="0.00" stop-color="rgb(240,10,0)" stop-opacity="1.00"/><stop offset="0.08" stop-color="rgb(242,18,0)" stop-opacity="1.00"/><stop offset="0.17" stop-color="rgb(248,43,0)" stop-opacity="1.00"/><stop offset="0.25" stop-color="rgb(255,83,0)" stop-opacity="1.00"/><stop offset="0.33" stop-color="rgb(255,144,0)" stop-opacity="1.00"/><stop offset="0.42" stop-color="rgb(253,195,0)" stop-opacity="1.00"/><stop offset="0.50" stop-color="rgb(250,244,0)" stop-opacity="1.00"/><stop offset="0.58" stop-color="rgb(250,250,0)" stop-opacity="0.73"/><stop offset="0.67" stop-color="rgb(250,250,0)" stop-opacity="0.48"/><stop offset="0.75" stop-color="rgb(250,250,0)" stop-opacity="0.30"/><stop offset="0.83" stop-color="rgb(250,250,0)" stop-opacity="0.18"/><stop offset="0.92" stop-color="rgb(250,250,0)" stop-opacity="0.10"/><stop offset="1.00" stop-color="rgb(250,250,0)" stop-opacity="0.00"/></radialGradient>
<radialGradient id="g44"><stop offset="0.00" stop-color="rgb(0,225,255)" stop-opacity="0.54"/><stop offset="0.08" stop-color="rgb(0,225,255)" stop-opacity="0.53"/><stop offset="0.17" stop-color="rgb(0,225,255)" stop-opacity="0.49"/><stop offset="0.25" stop-color="rgb(0,225,255)" stop-opacity="0.42"/><stop offset="0.33" stop-color="rgb(0,225,255)" stop-opacity="0.35"/><stop offset="0.42" stop-color="rgb(0,225,255)" stop-opacity="0.27"/><stop offset="0.50" stop-color="rgb(0,225,255)" stop-opacity="0.20"/><stop offset="0.58" stop-color="rgb(0,225,255)" stop-opacity="0.14"/><stop offset="0.67" stop-color="rgb(0,225,255)" stop-opacity="0.09"/><stop offset="0.75" stop-color="rgb(0,225,255)" stop-opacity="0.06"/><stop offset="0.83" stop-color="rgb(0,225,255)" stop-opacity="0.03"/><stop offset="0.92" stop-color="rgb(0,225,255)" stop-opacity="0.02"/><stop offset="1.00" stop-color="rgb(0,225,255)" stop-opacity="0.00"/></radialGradient>
<clipPath id="c11"><circle cx="604.6" cy="226.0" r="14.6"/></clipPath>
<radialGradient id="g45"><stop offset="0.00" stop-color="rgb(0,8,230)" stop-opacity="1.00"/><stop offset="0.08" stop-color="rgb(0,12,232)" stop-opacity="1.00"/><stop offset="0.17" stop-color="rgb(0,21,238)" stop-opacity="1.00"/><stop offset="0.25" stop-color="rgb(0,36,247)" stop-opacity="1.00"/><stop offset="0.33" stop-color="rgb(0,64,255)" stop-opacity="1.00"/><stop offset="0.42" stop-color="rgb(0,133,255)" stop-opacity="1.00"/><stop offset="0.50" stop-color="rgb(0,201,255)" stop-opacity="1.00"/><stop offset="0.58" stop-color="rgb(0,225,255)" stop-opacity="0.79"/><stop offset="0.67" stop-color="rgb(0,225,255)" stop-opacity="0.52"/><stop offset="0.75" stop-color="rgb(0,225,255)" stop-opacity="0.33"/><stop offset="0.83" stop-color="rgb(0,225,255)" stop-opacity="0.19"/><stop offset="0.92" stop-color="rgb(0,225,255)" stop-opacity="0.11"/><stop offset="1.00" stop-color="rgb(0,225,255)" stop-opacity="0.00"/></radialGradient>
<radialGradient id="g46"><stop offset="0.00" stop-color="rgb(251,222,0)" stop-opacity="1.00"/><stop offset="0.08" stop-color="rgb(251,226,0)" stop-opacity="1.00"/><stop offset="0.17" stop-color="rgb(251,239,0)" stop-opacity="1.00"/><stop offset="0.25" stop-color="rgb(250,250,0)" stop-opacity="0.94"/><stop offset="0.33" stop-color="rgb(250,250,0)" stop-opacity="0.78"/><stop offset="0.42" stop-color="rgb(250,250,0)" stop-opacity="0.60"/><stop offset="0.50" stop-color="rgb(250,250,0)" stop-opacity="0.45"/><stop offset="0.58" stop-color="rgb(250,250,0)" stop-opacity="0.31"/><stop offset="0.67" stop-color="rgb(250,250,0)" stop-opacity="0.21"/><stop offset="0.75" stop-color="rgb(250,250,0)" stop-opacity="0.13"/><stop offset="0.83" stop-color="rgb(250,250,0)" stop-opacity="0.08"/><stop offset="0.92" stop-color="rgb(250,250,0)" stop-opacity="0.04"/><stop offset="1.00" stop-color="rgb(250,250,0)" stop-opacity="0.00"/></radialGradient>
<radialGradient id="g47" fx="0.3" fy="0.5"><stop offset="0.00" stop-color="rgb(255,129,0)" stop-opacity="1.00"/><stop offset="0.08" stop-color="rgb(255,137,0)" stop-opacity="1.00"/><stop offset="0.17" stop-color="rgb(255,158,0)" stop-opacity="1.00"/><stop offset="0.25" stop-color="rgb(253,186,0)" stop-opacity="1.00"/><stop offset="0.33" stop-color="rgb(252,219,0)" stop-opacity="1.00"/><stop offset="0.42" stop-color="rgb(250,250,0)" stop-opacity="0.96"/><stop offset="0.50" stop-color="rgb(250,250,0)" stop-opacity="0.71"/><stop offset="0.58" stop-color="rgb(250,250,0)" stop-opacity="0.49"/><stop offset="0.67" stop-color="rgb(250,250,0)" stop-opacity="0.33"/><stop offset="0.75" stop-color="rgb(250,250,0)" stop-opacity="0.20"/><stop offset="0.83" stop-color="rgb(250,250,0)" stop-opacity="0.12"/><stop offset="0.92" stop-color="rgb(250,250,0)" stop-opacity="0.07"/><stop offset="1.00" stop-color="rgb(250,250,0)" stop-opacity="0.00"/></radialGradient>
<radialGradient id="g48"><stop offset="0.00" stop-color="rgb(0,225,255)" stop-opacity="0.54"/><stop offset="0.08" stop-color="rgb(0,225,255)" stop-opacity="0.53"/><stop offset="0.17" stop-color="rgb(0,225,255)" stop-opacity="0.49"/><stop offset="0.25" stop-color="rgb(0,225,255)" stop-opacity="0.42"/><stop offset="0.33" stop-color="rgb(0,225,255)" stop-opacity="0.35"/><stop offset="0.42" stop-color="rgb(0,225,255)" stop-opacity="0.27"/><stop offset="0.50" stop-color="rgb(0,225,255)" stop-opacity="0.20"/><stop offset="0.58" stop-color="rgb(0,225,255)" stop-opacity="0.14"/><stop offset="0.67" stop-color="rgb(0,225,255)" stop-opacity="0.09"/><stop offset="0.75" stop-color="rgb(0,225,255)" stop-opacity="0.06"/><stop offset="0.83" stop-color="rgb(0,225,255)" stop-opacity="0.03"/><stop offset="0.92" stop-color="rgb(0,225,255)" stop-opacity="0.02"/><stop offset="1.00" stop-color="rgb(0,225,255)" stop-opacity="0.00"/></radialGradient>
<clipPath id="c12"><circle cx="636.5" cy="226.0" r="14.6"/></clipPath>
<radialGradient id="g49"><stop offset="0.00" stop-color="rgb(0,47,253)" stop-opacity="1.00"/><stop offset="0.08" stop-color="rgb(0,49,255)" stop-opacity="1.00"/><stop offset="0.17" stop-color="rgb(0,73,255)" stop-opacity="1.00"/><stop offset="0.25" stop-color="rgb(0,111,255)" stop-opacity="1.00"/><stop offset="0.33" stop-color="rgb(0,159,255)" stop-opacity="1.00"/><stop offset="0.42" stop-color="rgb(0,212,255)" stop-opacity="1.00"/><stop offset="0.50" stop-color="rgb(0,225,255)" stop-opacity="0.79"/><stop offset="0.58" stop-color="rgb(0,225,255)" stop-opacity="0.55"/><stop offset="0.67" stop-color="rgb(0,225,255)" stop-opacity="0.37"/><stop offset="0.75" stop-color="rgb(0,225,255)" stop-opacity="0.23"/><stop offset="0.83" stop-color="rgb(0,225,255)" stop-opacity="0.14"/><stop offset="0.92" stop-color="rgb(0,225,255)" stop-opacity="0.08"/><stop offset="1.00" stop-color="rgb(0,225,255)" stop-opacity="0.00"/></radialGradient>
<radialGradient id="g50"><stop offset="0.00" stop-color="rgb(240,10,0)" stop-opacity="1.00"/><stop offset="0.08" stop-color="rgb(242,18,0)" stop-opacity="1.00"/><stop offset="0.17" stop-color="rgb(248,43,0)" stop-opacity="1.00"/><stop offset="0.25" stop-color="rgb(255,83,0)" stop-opacity="1.00"/><stop offset="0.33" stop-color="rgb(255,144,0)" stop-opacity="1.00"/><stop offset="0.42" stop-color="rgb(253,195,0)" stop-opacity="1.00"/><stop offset="0.50" stop-color="rgb(250,244,0)" stop-opacity="1.00"/><stop offset="0.58" stop-color="rgb(250,250,0)" stop-opacity="0.73"/><stop offset="0.67" stop-color="rgb(250,250,0)" stop-opacity="0.48"/><stop offset="0.75" stop-color="rgb(250,250,0)" stop-opacity="0.30"/><stop offset="0.83" stop-color="rgb(250,250,0)" stop-opacity="0.18"/><stop offset="0.92" stop-color="rgb(250,250,0)" stop-opacity="0.10"/><stop offset="1.00" stop-color="rgb(250,250,0)" stop-opacity="0.00"/></radialGradient>
<radialGradient id="g51"><stop offset="0.00" stop-color="rgb(0,225,255)" stop-opacity="0.28"/><stop offset="0.08" stop-color="rgb(0,225,255)" stop-opacity="0.27"/><stop offset="0.17" stop-color="rgb(0,225,255)" stop-opacity="0.25"/><stop offset="0.25" stop-color="rgb(0,225,255)" stop-opacity="0.22"/><stop offset="0.33" stop-color="rgb(0,225,255)" stop-opacity="0.18"/><stop offset="0.42" stop-color="rgb(0,225,255)" stop-opacity="0.14"/><stop offset="0.50" stop-color="rgb(0,225,255)" stop-opacity="0.10"/><stop offset="0.58" stop-color="rgb(0,225,255)" stop-opacity="0.07"/><stop offset="0.67" stop-color="rgb(0,225,255)" stop-opacity="0.05"/><stop offset="0.75" stop-color="rgb(0,225,255)" stop-opacity="0.03"/><stop offset="0.83" stop-color="rgb(0,225,255)" stop-opacity="0.02"/><stop offset="0.92" stop-color="rgb(0,225,255)" stop-opacity="0.01"/><stop offset="1.00" stop-color="rgb(0,225,255)" stop-opacity="0.00"/></radialGradient>
<clipPath id="c13"><circle cx="235.3" cy="301.0" r="14.6"/></clipPath>
<radialGradient id="g52"><stop offset="0.00" stop-color="rgb(250,250,0)" stop-opacity="0.35"/><stop offset="0.08" stop-color="rgb(250,250,0)" stop-opacity="0.34"/><stop offset="0.17" stop-color="rgb(250,250,0)" stop-opacity="0.31"/><stop offset="0.25" stop-color="rgb(250,250,0)" stop-opacity="0.27"/><stop offset="0.33" stop-color="rgb(250,250,0)" stop-opacity="0.22"/><stop offset="0.42" stop-color="rgb(250,250,0)" stop-opacity="0.17"/><stop offset="0.50" stop-color="rgb(250,250,0)" stop-opacity="0.13"/><stop offset="0.58" stop-color="rgb(250,250,0)" stop-opacity="0.09"/><stop offset="0.67" stop-color="rgb(250,250,0)" stop-opacity="0.06"/><stop offset="0.75" stop-color="rgb(250,250,0)" stop-opacity="0.04"/><stop offset="0.83" stop-color="rgb(250,250,0)" stop-opacity="0.02"/><stop offset="0.92" stop-color="rgb(250,250,0)" stop-opacity="0.01"/><stop offset="1.00" stop-color="rgb(250,250,0)" stop-opacity="0.00"/></radialGradient>
<radialGradient id="g53"><stop offset="0.00" stop-color="rgb(251,230,0)" stop-opacity="1.00"/><stop offset="0.08" stop-color="rgb(251,234,0)" stop-opacity="1.00"/><stop offset="0.17" stop-color="rgb(250,246,0)" stop-opacity="1.00"/><stop offset="0.25" stop-color="rgb(250,250,0)" stop-opacity="0.89"/><stop offset="0.33" stop-color="rgb(250,250,0)" stop-opacity="0.74"/><stop offset="0.42" stop-color="rgb(250,250,0)" stop-opacity="0.57"/><stop offset="0.50" stop-color="rgb(250,250,0)" stop-opacity="0.42"/><stop offset="0.58" stop-color="rgb(250,250,0)" stop-opacity="0.30"/><stop offset="0.67" stop-color="rgb(250,250,0)" stop-opacity="0.20"/><stop offset="0.75" stop-color="rgb(250,250,0)" stop-opacity="0.12"/><stop offset="0.83" stop-color="rgb(250,250,0)" stop-opacity="0.07"/><stop offset="0.92" stop-color="rgb(250,250,0)" stop-opacity="0.04"/><stop offset="1.00" stop-color="rgb(250,250,0)" stop-opacity="0.00"/></radialGradient>
<radialGradient id="g54"><stop offset="0.00" stop-color="rgb(253,190,0)" stop-opacity="1.00"/><stop offset="0.08" stop-color="rgb(253,195,0)" stop-opacity="1.00"/><stop offset="0.17" stop-color="rgb(252,210,0)" stop-opacity="1.00"/><stop offset="0.25" stop-color="rgb(251,232,0)" stop-opacity="1.00"/><stop offset="0.33" stop-color="rgb(250,250,0)" stop-opacity="0.93"/><stop offset="0.42" stop-color="rgb(250,250,0)" stop-opacity="0.73"/><stop offset="0.50" stop-color="rgb(250,250,0)" stop-opacity="0.54"/><stop offset="0.58" stop-color="rgb(250,250,0)" stop-opacity="0.38"/><stop offset="0.67" stop-color="rgb(250,250,0)" stop-opacity="0.25"/><stop offset="0.75" stop-color="rgb(250,250,0)" stop-opacity="0.15"/><stop offset="0.83" stop-color="rgb(250,250,0)" stop-opacity="0.09"/><stop offset="0.92" stop-color="rgb(250,250,0)" stop-opacity="0.05"/><stop offset="1.00" stop-color="rgb(250,250,0)" stop-opacity="0.00"/></radialGradient>
<radialGradient id="g55"><stop offset="0.00" stop-color="rgb(0,225,255)" stop-opacity="0.69"/><stop offset="0.08" stop-color="rgb(0,225,255)" stop-opacity="0.67"/><stop offset="0.17" stop-color="rgb(0,225,255)" stop-opacity="0.62"/><stop offset="0.25" stop-color="rgb(0,225,255)" stop-opacity="0.54"/><stop offset="0.33" stop-color="rgb(0,225,255)" stop-opacity="0.44"/><stop offset="0.42" stop-color="rgb(0,225,255)" stop-opacity="0.34"/><stop offset="0.50" stop-color="rgb(0,225,255)" stop-opacity="0.25"/><stop offset="0.58" stop-color="rgb(0,225,255)" stop-opacity="0.18"/><stop offset="0.67" stop-color="rgb(0,225,255)" stop-opacity="0.12"/><stop offset="0.75" stop-color="rgb(0,225,255)" stop-opacity="0.07"/><stop offset="0.83" stop-color="rgb(0,225,255)" stop-opacity="0.04"/><stop offset="0.92" stop-color="rgb(0,225,255)" stop-opacity="0.02"/><stop offset="1.00" stop-color="rgb(0,225,255)" stop-opacity="0.00"/></radialGradient>
<clipPath id="c14"><circle cx="266.7" cy="301.0" r="14.6"/></clipPath>
<radialGradient id="g56"><stop offset="0.00" stop-color="rgb(250,250,0)" stop-opacity="0.35"/><stop offset="0.08" stop-color="rgb(250,250,0)" stop-opacity="0.34"/><stop offset="0.17" stop-color="rgb(250,250,0)" stop-opacity="0.31"/><stop offset="0.25" stop-color="rgb(250,250,0)" stop-opacity="0.27"/><stop offset="0.33" stop-color="rgb(250,250,0)" stop-opacity="0.22"/><stop offset="0.42" stop-color="rgb(250,250,0)" stop-opacity="0.17"/><stop offset="0.50" stop-color="rgb(250,250,0)" stop-opacity="0.13"/><stop offset="0.58" stop-color="rgb(250,250,0)" stop-opacity="0.09"/><stop offset="0.67" stop-color="rgb(250,250,0)" stop-opacity="0.06"/><stop offset="0.75" stop-color="rgb(250,250,0)" stop-opacity="0.04"/><stop offset="0.83" stop-color="rgb(250,250,0)" stop-opacity="0.02"/><stop offset="0.92" stop-color="rgb(250,250,0)" stop-opacity="0.01"/><stop offset="1.00" stop-color="rgb(250,250,0)" stop-opacity="0.00"/></radialGradient>
<radialGradient id="g57"><stop offset="0.00" stop-color="rgb(250,250,0)" stop-opacity="0.86"/><stop offset="0.08" stop-color="rgb(250,250,0)" stop-opacity="0.83"/><stop offset="0.17" stop-color="rgb(250,250,0)" stop-opacity="0.77"/><stop offset="0.25" stop-color="rgb(250,250,0)" stop-opacity="0.67"/><stop offset="0.33" stop-color="rgb(250,250,0)" stop-opacity="0.55"/><stop offset="0.42" stop-color="rgb(250,250,0)" stop-opacity="0.43"/><stop offset="0.50" stop-color="rgb(250,250,0)" stop-opacity="0.32"/><stop offset="0.58" stop-color="rgb(250,250,0)" stop-opacity="0.22"/><stop offset="0.67" stop-color="rgb(250,250,0)" stop-opacity="0.15"/><stop offset="0.75" stop-color="rgb(250,250,0)" stop-opacity="0.09"/><stop offset="0.83" stop-color="rgb(250,250,0)" stop-opacity="0.05"/><stop offset="0.92" stop-color="rgb(250,250,0)" stop-opacity="0.03"/><stop offset="1.00" stop-color="rgb(250,250,0)" stop-opacity="0.00"/></radialGradient>
<radialGradient id="g58"><stop offset="0.00" stop-color="rgb(252,206,0)" stop-opacity="1.00"/><stop offset="0.08" stop-color="rgb(252,211,0)" stop-opacity="1.00"/><stop offset="0.17" stop-color="rgb(251,224,0)" stop-opacity="1.00"/><stop offset="0.25" stop-color="rgb(250,245,0)" stop-opacity="1.00"/><stop offset="0.33" stop-color="rgb(250,250,0)" stop-opacity="0.85"/><stop offset="0.42" stop-color="rgb(250,250,0)" stop-opacity="0.67"/><stop offset="0.50" stop-color="rgb(250,250,0)" stop-opacity="0.49"/><stop offset="0.58" stop-color="rgb(250,250,0)" stop-opacity="0.34"/><stop offset="0.67" stop-color="rgb(250,250,0)" stop-opacity="0.23"/><stop offset="0.75" stop-color="rgb(250,250,0)" stop-opacity="0.14"/><stop offset="0.83" stop-color="rgb(250,250,0)" stop-opacity="0.08"/><stop offset="0.92" stop-color="rgb(250,250,0)" stop-opacity="0.05"/><stop offset="1.00" stop-color="rgb(250,250,0)" stop-opacity="0.00"/></radialGradient>
<radialGradient id="g59"><stop offset="0.00" stop-color="rgb(0,225,255)" stop-opacity="0.69"/><stop offset="0.08" stop-color="rgb(0,225,255)" stop-opacity="0.67"/><stop offset="0.17" stop-color="rgb(0,225,255)" stop-opacity="0.62"/><stop offset="0.25" stop-color="rgb(0,225,255)" stop-opacity="0.54"/><stop offset="0.33" stop-color="rgb(0,225,255)" stop-opacity="0.44"/><stop offset="0.42" stop-color="rgb(0,225,255)" stop-opacity="0.34"/><stop offset="0.50" stop-color="rgb(0,225,255)" stop-opacity="0.25"/><stop offset="0.58" stop-color="rgb(0,225,255)" stop-opacity="0.18"/><stop offset="0.67" stop-color="rgb(0,225,255)" stop-opacity="0.12"/><stop offset="0.75" stop-color="rgb(0,225,255)" stop-opacity="0.07"/><stop offset="0.83" stop-color="rgb(0,225,255)" stop-opacity="0.04"/><stop offset="0.92" stop-color="rgb(0,225,255)" stop-opacity="0.02"/><stop offset="1.00" stop-color="rgb(0,225,255)" stop-opacity="0.00"/></radialGradient>
<clipPath id="c15"><circle cx="298.3" cy="301.0" r="14.6"/></clipPath>
<radialGradient id="g60"><stop offset="0.00" stop-color="rgb(250,250,0)" stop-opacity="0.35"/><stop offset="0.08" stop-color="rgb(250,250,0)" stop-opacity="0.34"/><stop offset="0.17" stop-color="rgb(250,250,0)" stop-opacity="0.31"/><stop offset="0.25" stop-color="rgb(250,250,0)" stop-opacity="0.27"/><stop offset="0.33" stop-color="rgb(250,250,0)" stop-opacity="0.22"/><stop offset="0.42" stop-color="rgb(250,250,0)" stop-opacity="0.17"/><stop offset="0.50" stop-color="rgb(250,250,0)" stop-opacity="0.13"/><stop offset="0.58" stop-color="rgb(250,250,0)" stop-opacity="0.09"/><stop offset="0.67" stop-color="rgb(250,250,0)" stop-opacity="0.06"/><stop offset="0.75" stop-color="rgb(250,250,0)" stop-opacity="0.04"/><stop offset="0.83" stop-color="rgb(250,250,0)" stop-opacity="0.02"/><stop offset="0.92" stop-color="rgb(250,250,0)" stop-opacity="0.01"/><stop offset="1.00" stop-color="rgb(250,250,0)" stop-opacity="0.00"/></radialGradient>
<radialGradient id="g61"><stop offset="0.00" stop-color="rgb(251,230,0)" stop-opacity="1.00"/><stop offset="0.08" stop-color="rgb(251,234,0)" stop-opacity="1.00"/><stop offset="0.17" stop-color="rgb(250,246,0)" stop-opacity="1.00"/><stop offset="0.25" stop-color="rgb(250,250,0)" stop-opacity="0.89"/><stop offset="0.33" stop-color="rgb(250,250,0)" stop-opacity="0.74"/><stop offset="0.42" stop-color="rgb(250,250,0)" stop-opacity="0.57"/><stop offset="0.50" stop-color="rgb(250,250,0)" stop-opacity="0.42"/><stop offset="0.58" stop-color="rgb(250,250,0)" stop-opacity="0.30"/><stop offset="0.67" stop-color="rgb(250,250,0)" stop-opacity="0.20"/><stop offset="0.75" stop-color="rgb(250,250,0)" stop-opacity="0.12"/><stop offset="0.83" stop-color="rgb(250,250,0)" stop-opacity="0.07"/><stop offset="0.92" stop-color="rgb(250,250,0)" stop-opacity="0.04"/><stop offset="1.00" stop-color="rgb(250,250,0)" stop-opacity="0.00"/></radialGradient>
<radialGradient id="g62"><stop offset="0.00" stop-color="rgb(255,107,0)" stop-opacity="1.00"/><stop offset="0.08" stop-color="rgb(255,116,0)" stop-opacity="1.00"/><stop offset="0.17" stop-color="rgb(255,141,0)" stop-opacity="1.00"/><stop offset="0.25" stop-color="rgb(254,172,0)" stop-opacity="1.00"/><stop offset="0.33" stop-color="rgb(252,208,0)" stop-opacity="1.00"/><stop offset="0.42" stop-color="rgb(250,247,0)" stop-opacity="1.00"/><stop offset="0.50" stop-color="rgb(250,250,0)" stop-opacity="0.76"/><stop offset="0.58" stop-color="rgb(250,250,0)" stop-opacity="0.53"/><stop offset="0.67" stop-color="rgb(250,250,0)" stop-opacity="0.35"/><stop offset="0.75" stop-color="rgb(250,250,0)" stop-opacity="0.22"/><stop offset="0.83" stop-color="rgb(250,250,0)" stop-opacity="0.13"/><stop offset="0.92" stop-color="rgb(250,250,0)" stop-opacity="0.07"/><stop offset="1.00" stop-color="rgb(250,250,0)" stop-opacity="0.00"/></radialGradient>
<radialGradient id="g63"><stop offset="0.00" stop-color="rgb(0,225,255)" stop-opacity="0.75"/><stop offset="0.08" stop-color="rgb(0,225,255)" stop-opacity="0.73"/><stop offset="0.17" stop-color="rgb(0,225,255)" stop-opacity="0.67"/><stop offset="0.25" stop-color="rgb(0,225,255)" stop-opacity="0.58"/><stop offset="0.33" stop-color="rgb(0,225,255)" stop-opacity="0.48"/><stop offset="0.42" stop-color="rgb(0,225,255)" stop-opacity="0.37"/><stop offset="0.50" stop-color="rgb(0,225,255)" stop-opacity="0.28"/><stop offset="0.58" stop-color="rgb(0,225,255)" stop-opacity="0.19"/><stop offset="0.67" stop-color="rgb(0,225,255)" stop-opacity="0.13"/><stop offset="0.75" stop-color="rgb(0,225,255)" stop-opacity="0.08"/><stop offset="0.83" stop-color="rgb(0,225,255)" stop-opacity="0.05"/><stop offset="0.92" stop-color="rgb(0,225,255)" stop-opacity="0.03"/><stop offset="1.00" stop-color="rgb(0,225,255)" stop-opacity="0.00"/></radialGradient>
<clipPath id="c16"><circle cx="572.5" cy="310.2" r="14.6"/></clipPath>
<radialGradient id="g64"><stop offset="0.00" stop-color="rgb(250,250,0)" stop-opacity="0.35"/><stop offset="0.08" stop-color="rgb(250,250,0)" stop-opacity="0.34"/><stop offset="0.17" stop-color="rgb(250,250,0)" stop-opacity="0.31"/><stop offset="0.25" stop-color="rgb(250,250,0)" stop-opacity="0.27"/><stop offset="0.33" stop-color="rgb(250,250,0)" stop-opacity="0.22"/><stop offset="0.42" stop-color="rgb(250,250,0)" stop-opacity="0.17"/><stop offset="0.50" stop-color="rgb(250,250,0)" stop-opacity="0.13"/><stop offset="0.58" stop-color="rgb(250,250,0)" stop-opacity="0.09"/><stop offset="0.67" stop-color="rgb(250,250,0)" stop-opacity="0.06"/><stop offset="0.75" stop-color="rgb(250,250,0)" stop-opacity="0.04"/><stop offset="0.83" stop-color="rgb(250,250,0)" stop-opacity="0.02"/><stop offset="0.92" stop-color="rgb(250,250,0)" stop-opacity="0.01"/><stop offset="1.00" stop-color="rgb(250,250,0)" stop-opacity="0.00"/></radialGradient>
<radialGradient id="g65"><stop offset="0.00" stop-color="rgb(250,250,0)" stop-opacity="0.59"/><stop offset="0.08" stop-color="rgb(250,250,0)" stop-opacity="0.57"/><stop offset="0.17" stop-color="rgb(250,250,0)" stop-opacity="0.53"/><stop offset="0.25" stop-color="rgb(250,250,0)" stop-opacity="0.46"/><stop offset="0.33" stop-color="rgb(250,250,0)" stop-opacity="0.38"/><stop offset="0.42" stop-color="rgb(250,250,0)" stop-opacity="0.30"/><stop offset="0.50" stop-color="rgb(250,250,0)" stop-opacity="0.22"/><stop offset="0.58" stop-color="rgb(250,250,0)" stop-opacity="0.15"/><stop offset="0.67" stop-color="rgb(250,250,0)" stop-opacity="0.10"/><stop offset="0.75" stop-color="rgb(250,250,0)" stop-opacity="0.06"/><stop offset="0.83" stop-color="rgb(250,250,0)" stop-opacity="0.04"/><stop offset="0.92" stop-color="rgb(250,250,0)" stop-opacity="0.02"/><stop offset="1.00" stop-color="rgb(250,250,0)" stop-opacity="0.00"/></radialGradient>
<radialGradient id="g66"><stop offset="0.00" stop-color="rgb(255,129,0)" stop-opacity="1.00"/><stop offset="0.08" stop-color="rgb(255,137,0)" stop-opacity="1.00"/><stop offset="0.17" stop-color="rgb(255,158,0)" stop-opacity="1.00"/><stop offset="0.25" stop-color="rgb(253,186,0)" stop-opacity="1.00"/><stop offset="0.33" stop-color="rgb(252,219,0)" stop-opacity="1.00"/><stop offset="0.42" stop-color="rgb(250,250,0)" stop-opacity="0.96"/><stop offset="0.50" stop-color="rgb(250,250,0)" stop-opacity="0.71"/><stop offset="0.58" stop-color="rgb(250,250,0)" stop-opacity="0.49"/><stop offset="0.67" stop-color="rgb(250,250,0)" stop-opacity="0.33"/><stop offset="0.75" stop-color="rgb(250,250,0)" stop-opacity="0.20"/><stop offset="0.83" stop-color="rgb(250,250,0)" stop-opacity="0.12"/><stop offset="0.92" stop-color="rgb(250,250,0)" stop-opacity="0.07"/><stop offset="1.00" stop-color="rgb(250,250,0)" stop-opacity="0.00"/></radialGradient>
<radialGradient id="g67"><stop offset="0.00" stop-color="rgb(0,225,255)" stop-opacity="0.69"/><stop offset="0.08" stop-color="rgb(0,225,255)" stop-opacity="0.67"/><stop offset="0.17" stop-color="rgb(0,225,255)" stop-opacity="0.62"/><stop offset="0.25" stop-color="rgb(0,225,255)" stop-opacity="0.54"/><stop offset="0.33" stop-color="rgb(0,225,255)" stop-opacity="0.44"/><stop offset="0.42" stop-color="rgb(0,225,255)" stop-opacity="0.34"/><stop offset="0.50" stop-color="rgb(0,225,255)" stop-opacity="0.25"/><stop offset="0.58" stop-color="rgb(0,225,255)" stop-opacity="0.18"/><stop offset="0.67" stop-color="rgb(0,225,255)" stop-opacity="0.12"/><stop offset="0.75" stop-color="rgb(0,225,255)" stop-opacity="0.07"/><stop offset="0.83" stop-color="rgb(0,225,255)" stop-opacity="0.04"/><stop offset="0.92" stop-color="rgb(0,225,255)" stop-opacity="0.02"/><stop offset="1.00" stop-color="rgb(0,225,255)" stop-opacity="0.00"/></radialGradient>
<clipPath id="c17"><circle cx="603.8" cy="310.2" r="14.6"/></clipPath>
<radialGradient id="g68"><stop offset="0.00" stop-color="rgb(250,250,0)" stop-opacity="0.30"/><stop offset="0.08" stop-color="rgb(250,250,0)" stop-opacity="0.30"/><stop offset="0.17" stop-color="rgb(250,250,0)" stop-opacity="0.27"/><stop offset="0.25" stop-color="rgb(250,250,0)" stop-opacity="0.24"/><stop offset="0.33" stop-color="rgb(250,250,0)" stop-opacity="0.20"/><stop offset="0.42" stop-color="rgb(250,250,0)" stop-opacity="0.15"/><stop offset="0.50" stop-color="rgb(250,250,0)" stop-opacity="0.11"/><stop offset="0.58" stop-color="rgb(250,250,0)" stop-opacity="0.08"/><stop offset="0.67" stop-color="rgb(250,250,0)" stop-opacity="0.05"/><stop offset="0.75" stop-color="rgb(250,250,0)" stop-opacity="0.03"/><stop offset="0.83" stop-color="rgb(250,250,0)" stop-opacity="0.02"/><stop offset="0.92" stop-color="rgb(250,250,0)" stop-opacity="0.01"/><stop offset="1.00" stop-color="rgb(250,250,0)" stop-opacity="0.00"/></radialGradient>
<radialGradient id="g69"><stop offset="0.00" stop-color="rgb(250,250,0)" stop-opacity="0.59"/><stop offset="0.08" stop-color="rgb(250,250,0)" stop-opacity="0.57"/><stop offset="0.17" stop-color="rgb(250,250,0)" stop-opacity="0.53"/><stop offset="0.25" stop-color="rgb(250,250,0)" stop-opacity="0.46"/><stop offset="0.33" stop-color="rgb(250,250,0)" stop-opacity="0.38"/><stop offset="0.42" stop-color="rgb(250,250,0)" stop-opacity="0.30"/><stop offset="0.50" stop-color="rgb(250,250,0)" stop-opacity="0.22"/><stop offset="0.58" stop-color="rgb(250,250,0)" stop-opacity="0.15"/><stop offset="0.67" stop-color="rgb(250,250,0)" stop-opacity="0.10"/><stop offset="0.75" stop-color="rgb(250,250,0)" stop-opacity="0.06"/><stop offset="0.83" stop-color="rgb(250,250,0)" stop-opacity="0.04"/><stop offset="0.92" stop-color="rgb(250,250,0)" stop-opacity="0.02"/><stop offset="1.00" stop-color="rgb(250,250,0)" stop-opacity="0.00"/></radialGradient>
<radialGradient id="g70"><stop offset="0.00" stop-color="rgb(0,225,255)" stop-opacity="0.69"/><stop offset="0.08" stop-color="rgb(0,225,255)" stop-opacity="0.67"/><stop offset="0.17" stop-color="rgb(0,225,255)" stop-opacity="0.62"/><stop offset="0.25" stop-color="rgb(0,225,255)" stop-opacity="0.54"/><stop offset="0.33" stop-color="rgb(0,225,255)" stop-opacity="0.44"/><stop offset="0.42" stop-color="rgb(0,225,255)" stop-opacity="0.34"/><stop offset="0.50" stop-color="rgb(0,225,255)" stop-opacity="0.25"/><stop offset="0.58" stop-color="rgb(0,225,255)" stop-opacity="0.18"/><stop offset="0.67" stop-color="rgb(0,225,255)" stop-opacity="0.12"/><stop offset="0.75" stop-color="rgb(0,225,255)" stop-opacity="0.07"/><stop offset="0.83" stop-color="rgb(0,225,255)" stop-opacity="0.04"/><stop offset="0.92" stop-color="rgb(0,225,255)" stop-opacity="0.02"/><stop offset="1.00" stop-color="rgb(0,225,255)" stop-opacity="0.00"/></radialGradient>
<clipPath id="c18"><circle cx="635.1" cy="310.2" r="14.6"/></clipPath>
<radialGradient id="g71"><stop offset="0.00" stop-color="rgb(250,250,0)" stop-opacity="0.35"/><stop offset="0.08" stop-color="rgb(250,250,0)" stop-opacity="0.34"/><stop offset="0.17" stop-color="rgb(250,250,0)" stop-opacity="0.31"/><stop offset="0.25" stop-color="rgb(250,250,0)" stop-opacity="0.27"/><stop offset="0.33" stop-color="rgb(250,250,0)" stop-opacity="0.22"/><stop offset="0.42" stop-color="rgb(250,250,0)" stop-opacity="0.17"/><stop offset="0.50" stop-color="rgb(250,250,0)" stop-opacity="0.13"/><stop offset="0.58" stop-color="rgb(250,250,0)" stop-opacity="0.09"/><stop offset="0.67" stop-color="rgb(250,250,0)" stop-opacity="0.06"/><stop offset="0.75" stop-color="rgb(250,250,0)" stop-opacity="0.04"/><stop offset="0.83" stop-color="rgb(250,250,0)" stop-opacity="0.02"/><stop offset="0.92" stop-color="rgb(250,250,0)" stop-opacity="0.01"/><stop offset="1.00" stop-color="rgb(250,250,0)" stop-opacity="0.00"/></radialGradient>
<radialGradient id="g72"><stop offset="0.00" stop-color="rgb(250,250,0)" stop-opacity="0.47"/><stop offset="0.08" stop-color="rgb(250,250,0)" stop-opacity="0.45"/><stop offset="0.17" stop-color="rgb(250,250,0)" stop-opacity="0.42"/><stop offset="0.25" stop-color="rgb(250,250,0)" stop-opacity="0.36"/><stop offset="0.33" stop-color="rgb(250,250,0)" stop-opacity="0.30"/><stop offset="0.42" stop-color="rgb(250,250,0)" stop-opacity="0.23"/><stop offset="0.50" stop-color="rgb(250,250,0)" stop-opacity="0.17"/><stop offset="0.58" stop-color="rgb(250,250,0)" stop-opacity="0.12"/><stop offset="0.67" stop-color="rgb(250,250,0)" stop-opacity="0.08"/><stop offset="0.75" stop-color="rgb(250,250,0)" stop-opacity="0.05"/><stop offset="0.83" stop-color="rgb(250,250,0)" stop-opacity="0.03"/><stop offset="0.92" stop-color="rgb(250,250,0)" stop-opacity="0.02"/><stop offset="1.00" stop-color="rgb(250,250,0)" stop-opacity="0.00"/></radialGradient>
<radialGradient id="g73"><stop offset="0.00" stop-color="rgb(244,26,0)" stop-opacity="1.00"/><stop offset="0.08" stop-color="rgb(246,34,0)" stop-opacity="1.00"/><stop offset="0.17" stop-color="rgb(252,57,0)" stop-opacity="1.00"/><stop offset="0.25" stop-color="rgb(255,101,0)" stop-opacity="1.00"/><stop offset="0.33" stop-color="rgb(255,157,0)" stop-opacity="1.00"/><stop offset="0.42" stop-color="rgb(252,204,0)" stop-opacity="1.00"/><stop offset="0.50" stop-color="rgb(250,250,0)" stop-opacity="0.99"/><stop offset="0.58" stop-color="rgb(250,250,0)" stop-opacity="0.69"/><stop offset="0.67" stop-color="rgb(250,250,0)" stop-opacity="0.46"/><stop offset="0.75" stop-color="rgb(250,250,0)" stop-opacity="0.29"/><stop offset="0.83" stop-color="rgb(250,250,0)" stop-opacity="0.17"/><stop offset="0.92" stop-color="rgb(250,250,0)" stop-opacity="0.09"/><stop offset="1.00" stop-color="rgb(250,250,0)" stop-opacity="0.00"/></radialGradient>
<radialGradient id="g74"><stop offset="0.00" stop-color="rgb(0,225,255)" stop-opacity="0.54"/><stop offset="0.08" stop-color="rgb(0,225,255)" stop-opacity="0.53"/><stop offset="0.17" stop-color="rgb(0,225,255)" stop-opacity="0.49"/><stop offset="0.25" stop-color="rgb(0,225,255)" stop-opacity="0.42"/><stop offset="0.33" stop-color="rgb(0,225,255)" stop-opacity="0.35"/><stop offset="0.42" stop-color="rgb(0,225,255)" stop-opacity="0.27"/><stop offset="0.50" stop-color="rgb(0,225,255)" stop-opacity="0.20"/><stop offset="0.58" stop-color="rgb(0,225,255)" stop-opacity="0.14"/><stop offset="0.67" stop-color="rgb(0,225,255)" stop-opacity="0.09"/><stop offset="0.75" stop-color="rgb(0,225,255)" stop-opacity="0.06"/><stop offset="0.83" stop-color="rgb(0,225,255)" stop-opacity="0.03"/><stop offset="0.92" stop-color="rgb(0,225,255)" stop-opacity="0.02"/><stop offset="1.00" stop-color="rgb(0,225,255)" stop-opacity="0.00"/></radialGradient>
<linearGradient id="cb"><stop offset="0" stop-color="#0000c8"/><stop offset="0.1" stop-color="#0040ff"/><stop offset="0.27" stop-color="#00e0ff"/><stop offset="0.42" stop-color="#20e060"/><stop offset="0.5" stop-color="#30e020"/><stop offset="0.62" stop-color="#b0f000"/><stop offset="0.72" stop-color="#ffff00"/><stop offset="0.85" stop-color="#ff9000"/><stop offset="1" stop-color="#f01000"/></linearGradient>
</defs>
<rect width="675" height="515" fill="#fff"/>
<g stroke="#000" stroke-width="1.4" fill="none"><path d="M58.9 5.8 V245.5"/><path d="M19.5 138.9 H320.5"/><path d="M58.9 6.3 h-3.4"/><path d="M58.9 32.8 h-3.4"/><path d="M58.9 59.3 h-3.4"/><path d="M58.9 85.9 h-3.4"/><path d="M58.9 112.4 h-3.4"/><path d="M58.9 138.9 h-3.4"/><path d="M58.9 165.4 h-3.4"/><path d="M58.9 191.9 h-3.4"/><path d="M58.9 218.5 h-3.4"/><path d="M58.9 245.0 h-3.4"/><path d="M98.0 138.9 v3.6"/><path d="M137.1 138.9 v3.6"/><path d="M175.6 138.9 v3.6"/><path d="M214.7 138.9 v3.6"/><path d="M253.8 138.9 v3.6"/><path d="M292.9 138.9 v3.6"/></g><text x="50.3" y="9.5" text-anchor="end" class="tk">25</text><text x="50.3" y="36.0" text-anchor="end" class="tk">20</text><text x="50.3" y="62.5" text-anchor="end" class="tk">15</text><text x="50.3" y="89.1" text-anchor="end" class="tk">10</text><text x="50.3" y="115.6" text-anchor="end" class="tk">5</text><text x="50.3" y="168.6" text-anchor="end" class="tk">-5</text><text x="50.3" y="195.1" text-anchor="end" class="tk">-10</text><text x="50.3" y="221.7" text-anchor="end" class="tk">-15</text><text x="50.3" y="248.2" text-anchor="end" class="tk">-20</text><text x="93.5" y="156.2" text-anchor="middle" class="tk">200</text><text x="133.0" y="156.2" text-anchor="middle" class="tk">400</text><text x="172.5" y="156.2" text-anchor="middle" class="tk">600</text><text x="212.0" y="156.2" text-anchor="middle" class="tk">800</text><text x="250.5" y="156.2" text-anchor="middle" class="tk">1000</text><text x="290.0" y="156.2" text-anchor="middle" class="tk">1200</text><text x="20.5" y="156.2" text-anchor="end" class="tk">-200</text>
<g stroke="#000" stroke-width="1.4" fill="none"><path d="M409.2 3.9 V246.1"/><path d="M370.5 138.4 H673.0"/><path d="M409.2 4.4 h-3.4"/><path d="M409.2 31.2 h-3.4"/><path d="M409.2 58.0 h-3.4"/><path d="M409.2 84.8 h-3.4"/><path d="M409.2 111.6 h-3.4"/><path d="M409.2 138.4 h-3.4"/><path d="M409.2 165.2 h-3.4"/><path d="M409.2 192.0 h-3.4"/><path d="M409.2 218.8 h-3.4"/><path d="M409.2 245.6 h-3.4"/><path d="M448.6 138.4 v3.6"/><path d="M488.1 138.4 v3.6"/><path d="M527.6 138.4 v3.6"/><path d="M566.5 138.4 v3.6"/><path d="M605.6 138.4 v3.6"/><path d="M644.9 138.4 v3.6"/></g><text x="400.4" y="7.6" text-anchor="end" class="tk">25</text><text x="400.4" y="34.4" text-anchor="end" class="tk">20</text><text x="400.4" y="61.2" text-anchor="end" class="tk">15</text><text x="400.4" y="88.0" text-anchor="end" class="tk">10</text><text x="400.4" y="114.8" text-anchor="end" class="tk">5</text><text x="400.4" y="168.4" text-anchor="end" class="tk">-5</text><text x="400.4" y="195.2" text-anchor="end" class="tk">-10</text><text x="400.4" y="222.0" text-anchor="end" class="tk">-15</text><text x="400.4" y="248.8" text-anchor="end" class="tk">-20</text><text x="445.5" y="155.2" text-anchor="middle" class="tk">200</text><text x="485.8" y="155.2" text-anchor="middle" class="tk">400</text><text x="525.8" y="155.2" text-anchor="middle" class="tk">600</text><text x="565.4" y="155.2" text-anchor="middle" class="tk">800</text><text x="604.1" y="155.2" text-anchor="middle" class="tk">1000</text><text x="642.8" y="155.2" text-anchor="middle" class="tk">1200</text><text x="370.9" y="155.2" text-anchor="end" class="tk">-200</text>
<g stroke="#000" stroke-width="1.4" fill="none"><path d="M61.0 265.5 V506.4"/><path d="M24.5 399.4 H314.2"/><path d="M61.0 266.0 h-3.4"/><path d="M61.0 292.6 h-3.4"/><path d="M61.0 319.3 h-3.4"/><path d="M61.0 345.9 h-3.4"/><path d="M61.0 372.6 h-3.4"/><path d="M61.0 399.2 h-3.4"/><path d="M61.0 425.9 h-3.4"/><path d="M61.0 452.5 h-3.4"/><path d="M61.0 479.2 h-3.4"/><path d="M61.0 505.9 h-3.4"/><path d="M98.7 399.4 v3.6"/><path d="M136.3 399.4 v3.6"/><path d="M174.0 399.4 v3.6"/><path d="M211.7 399.4 v3.6"/><path d="M249.5 399.4 v3.6"/><path d="M287.2 399.4 v3.6"/></g><text x="52.3" y="269.2" text-anchor="end" class="tk">25</text><text x="52.3" y="295.8" text-anchor="end" class="tk">20</text><text x="52.3" y="322.5" text-anchor="end" class="tk">15</text><text x="52.3" y="349.1" text-anchor="end" class="tk">10</text><text x="52.3" y="375.8" text-anchor="end" class="tk">5</text><text x="52.3" y="429.1" text-anchor="end" class="tk">-5</text><text x="52.3" y="455.7" text-anchor="end" class="tk">-10</text><text x="52.3" y="482.4" text-anchor="end" class="tk">-15</text><text x="52.3" y="509.1" text-anchor="end" class="tk">-20</text><text x="96.2" y="416.2" text-anchor="middle" class="tk">200</text><text x="134.0" y="416.2" text-anchor="middle" class="tk">400</text><text x="172.2" y="416.2" text-anchor="middle" class="tk">600</text><text x="210.4" y="416.2" text-anchor="middle" class="tk">800</text><text x="246.2" y="416.2" text-anchor="middle" class="tk">1000</text><text x="284.6" y="416.2" text-anchor="middle" class="tk">1200</text><text x="23.5" y="416.2" text-anchor="end" class="tk">-200</text>
<g stroke="#000" stroke-width="1.4" fill="none"><path d="M411.1 267.5 V508.8"/><path d="M374.5 401.5 H660.5"/><path d="M411.1 268.0 h-3.4"/><path d="M411.1 294.7 h-3.4"/><path d="M411.1 321.4 h-3.4"/><path d="M411.1 348.1 h-3.4"/><path d="M411.1 374.8 h-3.4"/><path d="M411.1 401.5 h-3.4"/><path d="M411.1 428.2 h-3.4"/><path d="M411.1 454.9 h-3.4"/><path d="M411.1 481.6 h-3.4"/><path d="M411.1 508.3 h-3.4"/><path d="M448.6 401.5 v3.6"/><path d="M486.2 401.5 v3.6"/><path d="M522.7 401.5 v3.6"/><path d="M560.0 401.5 v3.6"/><path d="M597.5 401.5 v3.6"/><path d="M635.0 401.5 v3.6"/></g><text x="401.7" y="271.2" text-anchor="end" class="tk">25</text><text x="401.7" y="297.9" text-anchor="end" class="tk">20</text><text x="401.7" y="324.6" text-anchor="end" class="tk">15</text><text x="401.7" y="351.3" text-anchor="end" class="tk">10</text><text x="401.7" y="378.0" text-anchor="end" class="tk">5</text><text x="401.7" y="431.4" text-anchor="end" class="tk">-5</text><text x="401.7" y="458.1" text-anchor="end" class="tk">-10</text><text x="401.7" y="484.8" text-anchor="end" class="tk">-15</text><text x="401.7" y="511.5" text-anchor="end" class="tk">-20</text><text x="444.9" y="418.3" text-anchor="middle" class="tk">200</text><text x="481.8" y="418.3" text-anchor="middle" class="tk">400</text><text x="520.0" y="418.3" text-anchor="middle" class="tk">600</text><text x="558.0" y="418.3" text-anchor="middle" class="tk">800</text><text x="593.6" y="418.3" text-anchor="middle" class="tk">1000</text><text x="632.0" y="418.3" text-anchor="middle" class="tk">1200</text><text x="375.0" y="418.3" text-anchor="end" class="tk">-200</text>
<path d="M19.8 141.6C20.5 141.5 22.6 141.6 24.0 141.2C25.4 140.8 26.5 140.3 28.0 139.4C29.5 138.5 31.2 136.0 32.8 135.8C34.4 135.6 36.1 137.2 37.5 138.2C38.9 139.1 39.8 140.5 41.0 141.5C42.2 142.5 43.5 144.3 44.6 144.1C45.7 143.9 46.7 141.9 47.6 140.5C48.5 139.1 48.6 137.6 50.0 135.8C51.4 134.1 54.3 131.6 56.2 130.0C58.1 128.4 59.7 127.7 61.6 126.5C63.5 125.3 66.1 121.8 67.8 122.9C69.5 124.0 70.5 126.0 71.5 133.0C72.5 140.0 73.2 156.0 74.0 165.0C74.8 174.0 75.5 185.8 76.3 187.0C77.1 188.2 78.1 176.5 79.0 172.0C79.9 167.5 80.6 160.0 81.5 160.0C82.4 160.0 83.4 166.4 84.5 172.0C85.6 177.6 87.0 193.1 88.2 193.6C89.4 194.1 90.3 184.1 91.5 175.0C92.7 165.9 94.0 150.2 95.3 139.0C96.5 127.8 97.7 115.9 99.0 108.0C100.3 100.1 102.0 94.4 103.3 91.5C104.6 88.6 105.7 90.5 107.0 90.5C108.3 90.5 110.0 89.9 111.0 91.5C112.0 93.1 112.1 94.3 113.1 100.0C114.0 105.7 115.5 115.6 116.7 125.6C117.9 135.6 119.2 146.9 120.2 160.0C121.2 173.1 121.8 192.8 122.5 204.4C123.2 216.0 123.8 227.8 124.5 229.3C125.2 230.8 125.6 224.9 126.7 213.3C127.8 201.8 129.8 177.2 131.1 160.0C132.4 142.8 133.3 125.8 134.5 110.0C135.7 94.2 136.8 75.6 138.0 65.0C139.2 54.4 140.3 45.6 141.6 46.2C142.9 46.8 144.2 60.6 145.6 68.4C147.0 76.2 148.7 86.8 150.0 93.3C151.3 99.8 152.4 104.6 153.6 107.6C154.8 110.6 156.0 109.2 157.1 111.1C158.2 113.0 159.0 116.3 160.0 119.0C161.0 121.7 162.2 123.6 163.3 127.1C164.4 130.6 165.4 135.3 166.5 140.0C167.6 144.7 168.9 151.1 170.0 155.0C171.1 158.9 172.0 160.4 172.9 163.3C173.8 166.2 174.1 168.9 175.6 172.2C177.1 175.5 179.7 182.2 181.8 182.9C183.9 183.6 186.1 177.4 188.0 176.5C189.9 175.6 191.5 175.9 193.3 177.6C195.1 179.2 196.9 183.9 198.7 186.4C200.5 188.9 202.1 193.3 204.0 192.7C205.9 192.1 208.1 185.0 210.2 182.9C212.3 180.8 213.9 181.3 216.4 180.2C218.9 179.1 222.9 176.8 225.3 176.5C227.7 176.2 229.3 178.8 231.0 178.2C232.7 177.6 233.4 172.9 235.7 172.9C238.0 172.9 242.2 178.5 244.6 178.2C247.0 177.9 248.0 173.8 249.9 171.1C251.8 168.4 253.9 162.9 256.1 162.2C258.3 161.5 261.0 167.3 263.2 166.7C265.4 166.1 267.3 159.1 269.4 158.7C271.5 158.2 273.6 165.2 275.7 164.0C277.8 162.8 279.4 152.9 281.9 151.6C284.4 150.3 287.8 156.0 290.8 156.0C293.8 156.0 297.3 153.5 299.7 151.6C302.1 149.7 302.6 144.0 305.0 144.4C307.4 144.8 311.2 154.8 313.9 154.2C316.6 153.6 319.8 143.1 321.0 140.9" fill="none" stroke="#f21416" stroke-width="2.35" stroke-linejoin="round" stroke-linecap="round"/>
<path d="M19.8 141.6C21.1 141.9 25.4 143.0 27.8 143.3C30.2 143.6 32.2 143.4 34.0 143.5C35.8 143.6 37.3 143.8 38.7 144.1C40.1 144.4 41.2 146.7 42.3 145.3C43.4 143.9 44.1 138.5 45.2 135.8C46.3 133.1 47.8 129.8 48.8 129.3C49.8 128.8 50.1 132.1 51.0 133.0C51.9 133.9 52.8 135.1 54.0 135.0C55.2 134.9 56.5 134.3 58.0 132.7C59.5 131.1 61.6 128.4 63.3 125.6C65.0 122.8 67.0 115.1 68.3 115.7C69.6 116.3 70.3 120.0 71.3 129.1C72.2 138.2 73.2 159.0 74.0 170.0C74.8 181.0 75.5 194.6 76.3 194.9C77.1 195.2 78.1 178.2 79.0 172.0C79.9 165.8 80.7 159.5 81.6 158.0C82.5 156.5 83.5 160.6 84.5 163.0C85.5 165.4 86.7 173.1 87.7 172.3C88.7 171.5 89.5 163.6 90.5 158.0C91.5 152.4 92.4 145.3 93.5 139.0C94.6 132.7 95.8 124.8 97.0 120.0C98.2 115.2 99.6 111.9 100.7 110.4C101.8 108.9 102.6 110.0 103.5 111.0C104.4 112.0 105.0 113.4 106.0 116.7C107.0 120.0 108.7 126.9 109.6 130.9C110.5 134.9 110.3 137.9 111.3 140.7C112.3 143.5 114.2 143.7 115.8 147.8C117.4 152.0 119.3 160.5 121.1 165.6C122.9 170.7 124.9 178.5 126.4 178.5C127.9 178.5 128.9 175.3 130.0 165.6C131.1 155.8 131.9 134.3 133.2 120.0C134.4 105.7 136.1 89.7 137.5 80.0C138.9 70.3 140.2 62.6 141.6 61.8C143.0 61.0 144.6 69.8 146.0 75.0C147.4 80.2 149.0 88.1 150.3 93.3C151.6 98.5 152.5 103.2 153.6 106.0C154.7 108.8 156.0 107.8 157.1 110.0C158.2 112.2 159.0 116.2 160.0 119.0C161.0 121.8 162.3 123.8 163.3 127.1C164.3 130.4 165.0 134.8 166.0 139.0C167.0 143.2 168.3 148.2 169.5 152.0C170.7 155.8 171.5 161.5 172.9 161.6C174.3 161.7 176.4 152.4 178.2 152.7C180.0 153.0 181.7 162.5 183.6 163.3C185.5 164.1 187.9 156.1 189.8 157.6C191.7 159.1 193.5 169.2 195.1 172.2C196.7 175.2 198.1 174.6 199.6 175.8C201.1 177.0 202.2 180.9 204.0 179.3C205.8 177.7 208.1 166.9 210.2 166.0C212.3 165.1 214.5 173.3 216.4 174.0C218.3 174.7 220.0 170.1 221.8 170.4C223.6 170.7 224.9 176.3 227.1 175.8C229.3 175.3 232.7 168.2 234.8 167.6C237.0 167.0 238.1 173.8 240.0 172.0C241.9 170.2 244.4 159.7 246.3 156.9C248.2 154.1 249.8 154.8 251.7 155.1C253.6 155.4 256.1 157.8 258.0 159.0C259.9 160.2 261.3 162.5 263.2 162.2C265.1 161.8 267.3 156.4 269.4 156.9C271.5 157.4 273.6 164.6 275.7 164.9C277.8 165.2 279.7 162.7 281.9 158.7C284.1 154.7 287.1 142.4 289.0 140.9C290.9 139.4 291.6 148.9 293.4 149.8C295.2 150.7 297.5 147.1 299.7 146.2C301.9 145.3 304.7 145.0 306.8 144.4C308.9 143.8 309.9 144.8 312.1 142.7C314.3 140.6 318.8 133.8 320.1 132.0" fill="none" stroke="#050505" stroke-width="2.35" stroke-linejoin="round" stroke-linecap="round"/>
<path d="M19.8 141.0C21.1 141.3 25.0 142.9 27.8 143.0C30.6 143.1 33.7 141.8 36.7 141.6C39.7 141.4 43.2 142.5 45.6 141.6C48.0 140.7 48.8 137.4 50.9 136.2C53.0 135.0 55.9 135.7 58.0 134.4C60.1 133.1 61.7 130.7 63.3 128.2C64.9 125.7 66.5 118.8 67.8 119.3C69.1 119.8 70.3 123.4 71.3 131.0C72.3 138.6 73.2 156.0 74.0 165.0C74.8 174.0 75.5 184.3 76.3 185.1C77.1 185.9 78.1 174.5 79.0 170.0C79.9 165.5 80.6 158.3 81.5 158.0C82.4 157.7 83.4 163.8 84.5 168.0C85.6 172.2 87.1 183.8 88.2 183.3C89.3 182.8 90.2 172.4 91.2 165.0C92.2 157.6 93.4 147.3 94.5 139.0C95.6 130.7 96.7 121.0 98.0 115.0C99.3 109.0 101.1 104.9 102.4 103.3C103.7 101.7 104.8 104.2 106.0 105.5C107.2 106.8 108.1 108.8 109.6 111.3C111.1 113.8 113.4 116.3 114.9 120.2C116.4 124.1 117.2 129.1 118.4 134.4C119.6 139.7 121.0 143.8 122.0 152.2C123.0 160.6 123.7 176.6 124.5 185.0C125.3 193.4 126.0 202.7 126.7 202.7C127.5 202.7 128.2 193.8 129.0 185.0C129.8 176.2 130.6 162.5 131.5 150.0C132.4 137.5 133.4 123.3 134.5 110.0C135.6 96.7 136.8 79.4 138.0 70.0C139.2 60.6 140.3 53.5 141.6 53.8C142.9 54.1 144.4 65.4 145.8 72.0C147.2 78.6 148.8 87.5 150.1 93.3C151.4 99.1 152.4 104.1 153.6 107.0C154.8 109.9 156.0 108.5 157.1 110.5C158.2 112.5 159.0 116.2 160.0 119.0C161.0 121.8 162.3 123.8 163.3 127.1C164.3 130.4 165.1 134.7 166.2 139.0C167.3 143.3 168.7 149.1 169.8 153.0C170.9 156.9 171.5 160.4 172.9 162.4C174.3 164.4 176.6 163.5 178.2 165.1C179.8 166.7 181.1 171.9 182.7 172.2C184.3 172.5 186.2 166.3 188.0 166.9C189.8 167.5 191.6 173.5 193.3 175.8C195.0 178.2 196.5 179.5 198.0 181.0C199.5 182.5 200.9 184.9 202.2 184.7C203.5 184.5 204.7 181.8 206.0 180.0C207.3 178.2 208.5 174.6 210.2 174.0C211.9 173.4 214.2 176.8 216.4 176.5C218.6 176.2 221.5 172.2 223.6 172.2C225.7 172.2 227.1 177.3 229.0 176.5C230.9 175.7 232.7 167.9 234.8 167.6C237.0 167.3 239.7 175.0 241.9 174.7C244.1 174.4 245.9 168.3 248.1 165.8C250.3 163.3 252.7 160.1 255.2 159.6C257.7 159.1 260.8 163.5 263.2 163.1C265.6 162.7 267.2 157.1 269.4 156.9C271.6 156.8 274.5 162.2 276.6 162.2C278.7 162.2 280.3 158.7 281.9 156.9C283.5 155.1 284.5 152.1 286.3 151.6C288.1 151.1 290.1 155.1 292.6 154.2C295.1 153.3 299.0 147.8 301.4 146.2C303.8 144.6 305.0 144.2 306.8 144.4C308.6 144.6 309.7 148.6 312.1 147.1C314.5 145.6 319.5 137.5 321.0 135.6" fill="none" stroke="#13a54c" stroke-width="2.35" stroke-linejoin="round" stroke-linecap="round"/>
<path d="M20.7 148.7C21.2 148.8 22.8 149.3 24.0 149.5C25.2 149.7 26.5 150.5 28.0 149.8C29.5 149.1 31.2 147.0 33.0 145.5C34.8 144.0 36.9 142.4 38.7 141.0C40.5 139.6 42.2 138.3 44.0 137.0C45.8 135.7 47.7 134.5 49.4 133.4C51.1 132.3 52.5 131.9 54.1 130.5C55.7 129.1 57.4 125.6 58.8 125.1C60.2 124.6 60.9 127.4 62.4 127.4C63.9 127.4 66.4 124.5 67.7 125.1C69.0 125.7 69.2 127.1 70.4 130.9C71.6 134.7 73.4 146.0 74.9 147.8C76.4 149.6 77.8 140.7 79.3 141.6C80.8 142.5 82.5 149.4 83.8 153.1C85.1 156.8 86.0 163.5 87.0 164.0C88.0 164.5 88.9 161.7 90.0 156.0C91.1 150.3 92.3 137.2 93.5 130.0C94.7 122.8 95.9 115.0 97.1 113.1C98.3 111.2 99.5 116.3 100.7 118.4C101.9 120.5 103.0 124.7 104.2 125.6C105.4 126.5 106.3 124.7 107.8 123.8C109.3 122.9 111.6 120.2 113.1 120.2C114.5 120.2 115.5 120.2 116.5 124.0C117.5 127.8 118.2 132.3 119.3 143.3C120.4 154.3 121.9 176.9 123.0 190.0C124.1 203.1 125.1 215.2 126.0 222.0C126.9 228.8 127.6 231.3 128.4 231.1C129.2 230.9 130.0 226.8 131.0 221.0C132.0 215.2 133.3 202.8 134.5 196.0C135.7 189.2 136.9 183.3 138.0 180.0C139.1 176.7 140.1 175.7 141.2 176.0C142.3 176.3 143.4 178.0 144.5 182.0C145.6 186.0 146.9 194.7 148.0 200.0C149.1 205.3 150.1 210.7 151.0 214.0C151.9 217.3 152.3 218.4 153.3 219.6C154.3 220.8 155.5 220.9 157.0 221.0C158.5 221.1 160.4 220.9 162.2 220.4C164.0 219.9 166.0 217.4 167.6 217.8C169.2 218.2 170.4 222.8 172.0 222.6C173.6 222.4 175.7 217.4 177.3 216.9C178.9 216.4 180.2 219.4 181.8 219.6C183.4 219.8 185.3 218.6 187.1 217.8C188.9 217.1 191.1 216.9 192.4 215.1C193.7 213.3 194.1 209.4 194.8 207.0C195.6 204.6 195.2 202.2 196.9 200.9C198.6 199.7 202.5 199.5 204.9 199.5C207.3 199.5 209.5 201.6 211.1 200.9C212.7 200.2 213.2 197.0 214.7 195.3C216.2 193.7 218.5 192.2 220.0 191.0C221.5 189.8 221.5 189.8 223.6 188.2C225.7 186.5 229.7 183.2 232.4 181.1C235.1 179.0 237.9 177.2 239.6 175.5C241.3 173.8 240.8 172.6 242.8 171.1C244.8 169.6 248.7 168.5 251.7 166.7C254.7 164.9 257.7 162.3 260.6 160.4C263.6 158.5 266.4 156.3 269.4 155.1C272.3 153.9 275.6 153.9 278.3 153.3C281.0 152.7 283.0 153.4 285.4 151.6C287.8 149.8 290.2 144.3 292.6 142.7C295.0 141.1 297.3 141.8 299.7 141.8C302.1 141.8 304.4 141.5 306.8 142.7C309.2 143.9 311.5 148.5 313.9 148.9C316.3 149.3 319.8 145.9 321.0 145.3" fill="none" stroke="#da9795" stroke-width="2.35" stroke-linejoin="round" stroke-linecap="round"/>
<path d="M19.8 140.0C21.0 140.8 24.6 144.5 27.0 145.0C29.4 145.5 31.7 143.7 34.0 143.0C36.3 142.3 39.0 141.7 41.0 141.0C43.0 140.3 44.5 140.2 46.0 139.0C47.5 137.8 48.5 135.3 50.0 134.0C51.5 132.7 53.5 132.2 55.0 131.0C56.5 129.8 57.6 127.8 59.0 127.0C60.4 126.2 62.0 126.5 63.3 126.0C64.6 125.5 65.8 122.7 67.0 124.0C68.2 125.3 69.2 126.6 70.5 134.0C71.8 141.4 73.3 164.7 74.9 168.2C76.5 171.7 78.3 154.9 80.2 154.9C82.1 154.9 84.7 169.0 86.4 168.2C88.1 167.4 89.1 157.2 90.5 150.0C91.9 142.8 93.5 131.6 95.0 125.0C96.5 118.4 98.0 111.8 99.8 110.4C101.6 109.0 104.3 115.4 106.0 116.7C107.7 118.0 108.5 118.2 110.0 118.5C111.5 118.8 113.7 117.5 114.9 118.4C116.2 119.3 116.6 118.7 117.5 124.0C118.4 129.3 119.3 139.8 120.5 150.0C121.7 160.2 123.3 176.2 124.5 185.0C125.7 193.8 126.5 199.2 127.5 203.0C128.5 206.8 129.5 208.0 130.6 208.0C131.7 208.0 132.8 204.6 134.0 203.0C135.2 201.4 136.8 199.4 138.0 198.5C139.2 197.6 140.1 196.9 141.2 197.3C142.3 197.7 143.4 198.7 144.5 201.0C145.6 203.3 147.0 208.3 148.0 211.0C149.0 213.7 149.8 216.6 150.7 216.9C151.6 217.2 152.5 214.8 153.5 213.0C154.5 211.2 155.7 207.9 156.9 206.2C158.2 204.5 159.5 203.8 161.0 203.0C162.5 202.2 163.8 201.0 165.8 201.2C167.8 201.4 171.1 204.4 172.9 204.4C174.7 204.4 175.3 202.5 176.5 201.0C177.7 199.5 178.9 197.9 180.0 195.6C181.1 193.3 181.9 189.7 182.8 187.0C183.7 184.3 184.4 181.6 185.3 179.6C186.2 177.6 187.1 176.1 188.0 175.0C188.9 173.9 189.4 173.0 190.7 173.3C192.0 173.6 194.4 177.1 196.0 176.9C197.6 176.8 198.9 172.4 200.4 172.4C201.9 172.4 203.3 177.0 204.9 176.9C206.5 176.8 208.4 171.8 210.2 171.6C212.0 171.4 214.0 175.8 215.6 176.0C217.2 176.2 218.7 173.3 220.0 172.5C221.3 171.7 222.3 171.2 223.6 171.3C224.9 171.4 226.6 173.6 228.0 173.0C229.4 172.4 230.8 168.9 232.1 167.6C233.4 166.3 234.8 166.6 236.0 165.1C237.2 163.6 237.8 160.7 239.2 158.7C240.6 156.7 242.5 154.9 244.6 153.3C246.7 151.7 249.0 149.6 251.7 148.9C254.4 148.2 257.9 149.2 260.6 148.9C263.3 148.6 265.3 146.5 267.7 147.1C270.1 147.7 272.4 151.7 274.8 152.4C277.2 153.2 279.5 152.0 281.9 151.6C284.3 151.2 286.6 151.0 289.0 149.8C291.4 148.6 293.7 145.0 296.1 144.4C298.5 143.8 301.1 145.0 303.2 146.2C305.3 147.4 306.5 151.0 308.6 151.6C310.7 152.2 313.6 150.7 315.7 149.8C317.8 148.9 320.1 146.8 321.0 146.2" fill="none" stroke="#a6a6a6" stroke-width="2.35" stroke-linejoin="round" stroke-linecap="round"/>
<path d="M19.7 141.7C20.4 142.3 22.6 144.5 24.0 145.5C25.4 146.5 26.5 147.9 28.0 147.7C29.5 147.5 31.2 145.7 33.0 144.5C34.8 143.3 37.1 141.8 38.7 140.5C40.3 139.2 41.3 138.2 42.5 137.0C43.7 135.8 44.6 134.3 45.8 133.4C46.9 132.5 48.0 131.5 49.4 131.7C50.8 131.9 52.5 135.3 54.1 134.6C55.7 133.9 57.4 128.5 58.8 127.5C60.2 126.5 61.0 128.7 62.4 128.7C63.8 128.7 65.9 127.1 67.1 127.5C68.3 127.9 68.5 128.3 69.5 131.1C70.5 133.9 71.9 140.0 73.1 144.1C74.3 148.2 75.5 155.1 76.6 155.9C77.7 156.7 78.6 148.8 79.8 149.0C81.0 149.2 82.6 154.3 83.7 157.1C84.8 159.9 85.4 165.6 86.4 165.6C87.5 165.6 89.0 160.0 90.0 157.0C91.0 154.0 91.8 153.1 92.7 147.8C93.6 142.5 94.5 130.8 95.5 125.0C96.5 119.2 97.5 113.9 98.9 113.1C100.4 112.3 102.4 118.7 104.2 120.2C106.0 121.7 107.8 122.2 109.6 122.0C111.4 121.8 113.7 119.3 114.9 119.3C116.1 119.3 115.8 116.5 116.7 122.0C117.6 127.5 119.0 140.9 120.2 152.2C121.4 163.5 122.9 180.4 124.0 190.0C125.1 199.6 126.0 205.2 127.0 210.0C128.0 214.8 128.9 218.4 129.9 218.7C130.9 219.0 131.8 215.9 133.0 212.0C134.2 208.1 135.6 199.3 137.0 195.0C138.4 190.7 139.9 186.6 141.2 186.3C142.5 186.0 143.8 189.4 145.0 193.0C146.2 196.6 147.4 204.0 148.5 208.0C149.6 212.0 149.9 216.0 151.6 216.9C153.3 217.8 156.0 214.5 158.7 213.3C161.4 212.1 165.4 209.8 167.6 209.8C169.8 209.8 170.2 213.8 172.0 213.3C173.8 212.9 176.0 209.2 178.2 207.1C180.4 205.0 182.9 203.0 185.3 200.9C187.7 198.8 190.5 196.8 192.4 194.7C194.3 192.6 195.1 189.7 196.9 188.4C198.7 187.1 200.3 187.0 203.1 186.7C205.9 186.4 211.0 187.3 213.8 186.7C216.6 186.1 218.4 184.5 220.0 183.1C221.6 181.7 221.5 180.2 223.6 178.4C225.7 176.6 229.4 173.8 232.4 172.2C235.4 170.6 238.3 170.2 241.3 168.7C244.3 167.2 247.1 165.1 250.2 163.3C253.3 161.5 256.8 159.8 260.0 158.0C263.2 156.2 266.3 153.2 269.4 152.4C272.4 151.6 275.3 153.6 278.3 153.3C281.3 153.0 284.5 152.0 287.2 150.7C289.9 149.4 291.9 146.5 294.3 145.3C296.7 144.1 299.0 143.2 301.4 143.6C303.8 144.0 306.5 146.7 308.6 148.0C310.7 149.3 311.8 151.8 313.9 151.6C316.0 151.4 319.8 147.8 321.0 147.1" fill="none" stroke="#c4d6a0" stroke-width="2.35" stroke-linejoin="round" stroke-linecap="round"/>
<path d="M370.9 140.0C371.9 139.8 374.2 139.0 376.8 138.8C379.4 138.6 383.3 139.0 386.3 138.8C389.3 138.6 392.2 136.8 394.6 137.6C397.0 138.4 398.5 143.2 400.5 143.5C402.5 143.8 404.5 141.3 406.5 139.4C408.5 137.5 410.8 135.3 412.4 132.3C414.0 129.3 414.8 124.0 415.9 121.6C417.0 119.2 417.9 118.1 418.9 118.0C419.9 117.9 421.0 118.8 421.9 121.0C422.8 123.2 423.7 126.2 424.2 131.0C424.7 135.8 424.5 143.7 425.0 150.0C425.5 156.3 426.4 167.2 427.1 168.9C427.9 170.6 428.8 162.5 429.5 160.0C430.2 157.5 430.7 152.7 431.6 154.0C432.5 155.3 433.8 162.7 435.0 168.0C436.2 173.3 437.5 185.1 438.7 185.8C439.9 186.5 440.4 179.1 442.0 172.0C443.6 164.9 446.7 150.3 448.4 143.3C450.1 136.3 450.7 138.3 452.0 130.0C453.3 121.7 455.2 102.6 456.4 93.3C457.6 84.0 458.2 78.2 459.0 74.0C459.8 69.8 460.4 68.1 461.2 68.4C461.9 68.7 462.8 72.4 463.5 76.0C464.2 79.6 464.4 82.5 465.3 89.8C466.2 97.1 467.8 109.0 468.9 120.0C469.9 131.0 470.7 143.8 471.6 155.6C472.5 167.4 473.4 181.3 474.2 191.1C475.0 200.9 475.5 212.7 476.4 214.2C477.3 215.7 478.6 206.8 479.6 200.0C480.6 193.2 481.2 183.7 482.2 173.3C483.2 162.9 484.8 146.7 485.8 137.8C486.8 128.9 487.5 127.4 488.4 120.0C489.3 112.6 490.2 101.0 491.1 93.3C492.0 85.6 492.8 78.2 493.5 74.0C494.2 69.8 494.9 68.1 495.6 68.4C496.4 68.7 497.3 72.4 498.0 76.0C498.7 79.6 499.1 84.0 500.0 89.8C500.9 95.6 502.7 105.2 503.6 111.1C504.5 117.0 504.4 121.5 505.3 125.3C506.2 129.2 507.1 131.2 508.9 134.2C510.7 137.2 514.2 139.5 516.0 143.1C517.8 146.7 518.4 151.4 519.6 155.6C520.8 159.8 521.8 163.9 523.1 168.0C524.4 172.1 525.8 178.5 527.6 180.4C529.4 182.3 532.0 179.9 533.8 179.6C535.6 179.3 536.7 178.1 538.6 178.7C540.5 179.3 543.0 182.6 545.0 183.0C547.0 183.4 548.4 179.8 550.4 180.9C552.4 182.0 554.6 187.9 556.9 189.5C559.2 191.1 562.3 191.0 564.4 190.6C566.5 190.2 568.1 189.3 569.7 187.3C571.3 185.3 572.2 179.6 574.0 178.7C575.8 177.8 578.5 182.7 580.5 182.0C582.5 181.3 583.9 176.2 585.9 174.4C587.9 172.6 590.1 172.1 592.3 171.2C594.4 170.3 596.6 170.0 598.8 169.1C600.9 168.2 603.1 167.2 605.2 165.9C607.3 164.7 609.5 162.0 611.6 161.6C613.8 161.2 616.0 163.7 618.1 163.7C620.2 163.7 622.4 162.7 624.5 161.6C626.6 160.5 628.9 157.3 631.0 157.3C633.1 157.3 635.2 161.6 637.4 161.6C639.5 161.6 641.9 158.7 643.9 157.3C645.9 155.9 647.2 155.5 649.2 153.0C651.2 150.5 653.4 142.9 655.7 142.2C658.0 141.5 660.9 149.0 663.2 148.7C665.5 148.3 668.0 141.9 669.6 140.1C671.2 138.3 672.4 138.3 672.9 137.9" fill="none" stroke="#f21416" stroke-width="2.35" stroke-linejoin="round" stroke-linecap="round"/>
<path d="M372.1 130.5C372.6 130.9 374.1 131.6 375.1 132.9C376.1 134.2 376.5 137.1 378.0 138.2C379.5 139.3 381.2 139.4 384.0 139.4C386.8 139.4 392.0 138.1 394.6 138.2C397.2 138.3 397.6 139.6 399.4 140.0C401.2 140.4 403.1 140.4 405.3 140.5C407.5 140.6 410.6 140.7 412.4 140.5C414.2 140.3 414.7 140.9 415.9 139.4C417.1 137.9 418.3 131.9 419.5 131.7C420.7 131.5 422.0 134.8 423.0 138.2C424.0 141.6 424.7 149.2 425.4 152.4C426.1 155.6 426.2 159.1 427.1 157.6C428.0 156.1 429.7 145.2 430.7 143.3C431.7 141.4 432.1 142.7 433.0 146.0C433.9 149.3 435.1 158.5 436.0 163.0C436.9 167.5 437.8 173.0 438.7 173.0C439.6 173.0 440.5 167.9 441.5 163.0C442.5 158.1 443.6 151.0 444.9 143.3C446.2 135.6 448.1 123.2 449.3 116.7C450.6 110.2 451.2 105.2 452.4 104.0C453.6 102.8 455.1 106.3 456.4 109.3C457.7 112.3 458.8 118.2 460.0 121.8C461.2 125.4 462.3 128.8 463.6 130.7C464.9 132.6 466.7 130.6 468.0 133.3C469.3 136.0 470.4 141.5 471.6 146.7C472.8 151.9 474.2 160.1 475.1 164.4C476.0 168.7 476.3 172.4 477.2 172.4C478.1 172.4 479.3 170.2 480.4 164.4C481.5 158.6 482.9 149.7 484.0 137.8C485.1 126.0 485.9 104.3 486.7 93.3C487.5 82.3 488.3 76.7 489.0 72.0C489.7 67.3 490.3 65.2 491.1 65.4C491.9 65.6 493.1 68.9 494.0 73.0C494.9 77.1 495.2 84.0 496.4 89.8C497.5 95.6 499.4 103.2 500.9 107.6C502.4 112.0 504.0 114.0 505.3 116.4C506.6 118.8 507.7 120.5 508.9 121.8C510.1 123.1 511.1 123.6 512.4 124.5C513.7 125.4 515.7 124.9 516.9 127.1C518.1 129.3 518.7 134.5 519.6 137.8C520.5 141.1 521.0 144.5 522.2 146.7C523.4 148.9 525.2 149.9 526.7 151.1C528.2 152.3 529.6 154.0 531.1 153.8C532.6 153.6 533.8 148.3 535.6 150.0C537.4 151.7 539.3 163.0 541.8 163.7C544.3 164.4 547.9 154.5 550.4 154.0C552.9 153.5 554.9 159.2 556.9 160.5C558.9 161.8 560.2 162.3 562.2 161.6C564.2 160.9 566.6 155.7 568.7 156.2C570.9 156.7 573.0 162.7 575.1 164.8C577.2 167.0 580.0 167.5 581.6 169.1C583.2 170.7 582.8 176.4 584.8 174.4C586.8 172.4 591.2 159.4 593.4 157.3C595.5 155.2 596.1 158.2 597.7 161.6C599.3 165.0 601.2 175.9 603.0 177.7C604.8 179.5 606.4 175.4 608.4 172.3C610.4 169.2 612.9 159.9 614.9 159.4C616.9 158.9 618.4 168.4 620.2 169.1C622.0 169.8 623.8 164.2 625.6 163.7C627.4 163.2 629.0 167.3 631.0 165.9C633.0 164.5 635.2 158.0 637.4 155.1C639.5 152.2 641.8 148.5 643.9 148.7C646.0 148.9 648.1 155.3 650.3 156.2C652.4 157.1 654.8 153.3 656.8 154.0C658.8 154.7 660.3 161.4 662.1 160.5C663.9 159.6 665.7 151.0 667.5 148.7C669.3 146.4 672.0 146.9 672.9 146.5" fill="none" stroke="#050505" stroke-width="2.35" stroke-linejoin="round" stroke-linecap="round"/>
<path d="M371.5 137.0C372.4 137.4 374.9 139.3 376.8 139.4C378.7 139.5 380.8 137.6 382.8 137.6C384.8 137.6 386.7 139.5 388.7 139.4C390.7 139.3 392.8 137.0 394.6 137.0C396.4 137.0 397.6 138.8 399.4 139.4C401.2 140.0 403.3 140.9 405.3 140.5C407.3 140.1 409.4 138.7 411.2 137.0C413.0 135.3 414.6 132.0 415.9 130.5C417.2 129.0 417.9 127.1 418.9 128.1C419.9 129.0 420.9 132.2 421.8 136.2C422.7 140.2 423.7 147.0 424.5 152.0C425.3 157.0 425.7 166.7 426.8 166.4C427.9 166.1 429.9 151.5 431.2 150.4C432.5 149.3 433.2 155.3 434.5 160.0C435.8 164.7 437.4 177.9 438.7 178.7C439.9 179.5 440.7 172.4 442.0 165.0C443.3 157.6 444.7 143.6 446.7 134.4C448.7 125.2 452.1 115.6 453.8 110.0C455.5 104.4 455.9 103.5 457.0 101.0C458.1 98.5 459.4 94.9 460.5 95.1C461.6 95.3 462.7 99.3 463.5 102.0C464.3 104.7 464.4 107.2 465.3 111.1C466.2 115.0 467.9 119.6 468.9 125.3C469.9 130.9 470.8 138.5 471.5 145.0C472.2 151.5 472.6 156.1 473.3 164.4C474.1 172.7 475.2 187.7 476.0 195.0C476.8 202.3 477.3 211.6 478.2 208.0C479.1 204.4 480.2 185.0 481.3 173.3C482.4 161.6 483.9 146.7 484.9 137.8C485.9 128.9 486.5 127.4 487.2 120.0C487.9 112.6 488.4 100.6 489.0 93.3C489.6 86.0 490.4 79.8 491.0 76.0C491.6 72.2 491.8 70.0 492.5 70.2C493.2 70.4 494.2 73.7 495.0 77.0C495.8 80.3 496.2 84.1 497.3 89.8C498.4 95.5 500.5 106.1 501.8 111.1C503.1 116.1 503.8 117.0 505.3 120.0C506.8 123.0 508.9 125.9 510.7 128.9C512.5 131.9 514.2 134.2 516.0 137.8C517.8 141.4 519.8 146.3 521.3 150.2C522.8 154.0 523.4 157.9 524.9 160.9C526.4 163.9 528.4 167.3 530.2 168.0C532.0 168.7 533.3 164.1 535.6 165.0C537.9 165.9 541.5 172.9 544.0 173.4C546.5 173.9 548.1 167.8 550.4 168.0C552.7 168.2 555.6 173.2 557.9 174.4C560.2 175.7 561.9 176.2 564.4 175.5C566.9 174.8 570.5 170.4 573.0 170.2C575.5 170.0 577.2 174.1 579.4 174.4C581.5 174.8 583.4 173.9 585.9 172.3C588.4 170.7 591.5 165.2 594.4 164.8C597.2 164.5 600.3 170.4 603.0 170.2C605.7 170.0 608.5 165.3 610.6 163.7C612.8 162.1 613.9 160.0 615.9 160.5C617.9 161.0 620.1 166.0 622.4 166.9C624.7 167.8 627.4 167.7 629.9 165.9C632.4 164.1 634.7 159.1 637.4 156.2C640.1 153.3 643.5 149.2 646.0 148.7C648.5 148.2 650.2 153.0 652.4 153.0C654.5 153.0 656.9 148.3 658.9 148.7C660.9 149.0 662.5 155.8 664.3 155.1C666.1 154.4 668.2 146.6 669.6 144.4C671.0 142.2 672.4 142.6 672.9 142.2" fill="none" stroke="#13a54c" stroke-width="2.35" stroke-linejoin="round" stroke-linecap="round"/>
<path d="M371.5 151.2C372.4 150.2 374.9 146.3 376.8 145.3C378.7 144.3 380.8 145.5 382.8 145.3C384.8 145.1 386.9 145.1 388.7 144.1C390.5 143.1 391.4 141.7 393.4 139.4C395.4 137.1 398.5 131.8 400.5 130.5C402.5 129.2 403.7 132.0 405.3 131.7C406.9 131.4 408.4 129.7 410.0 128.7C411.6 127.7 413.1 126.2 414.8 125.7C416.5 125.2 418.5 124.1 420.0 125.6C421.5 127.0 422.4 131.7 423.6 134.4C424.8 137.1 425.8 141.9 427.1 141.6C428.4 141.3 430.0 132.0 431.2 132.7C432.4 133.4 433.4 141.6 434.5 146.0C435.6 150.4 436.6 159.0 437.8 159.3C439.0 159.6 440.0 153.6 441.5 148.0C443.0 142.4 445.1 131.8 446.7 125.6C448.3 119.4 449.9 112.3 451.1 111.1C452.3 109.9 452.8 116.1 453.8 118.2C454.8 120.3 456.0 123.9 457.3 123.6C458.6 123.3 460.3 117.6 461.8 116.4C463.3 115.2 465.0 114.1 466.2 116.4C467.4 118.7 467.9 121.9 469.0 130.0C470.1 138.1 471.3 154.2 472.5 165.0C473.7 175.8 474.6 187.2 476.0 195.0C477.4 202.8 479.6 210.8 480.9 211.6C482.2 212.4 482.8 204.9 484.0 200.0C485.2 195.1 486.6 186.6 488.0 182.0C489.4 177.4 491.0 172.1 492.4 172.4C493.8 172.7 495.1 178.6 496.5 184.0C497.9 189.4 499.6 199.4 501.0 205.0C502.4 210.6 503.1 216.6 504.9 217.8C506.7 219.0 509.9 213.6 512.0 212.4C514.1 211.2 515.5 210.2 517.3 210.7C519.1 211.1 520.8 212.7 522.7 215.1C524.6 217.5 526.7 222.7 528.9 224.9C531.1 227.1 533.9 230.0 536.0 228.4C538.1 226.8 539.8 218.4 541.3 215.1C542.8 211.8 543.0 210.8 545.0 208.8C547.0 206.9 550.7 204.1 553.6 203.4C556.5 202.7 559.3 205.8 562.2 204.5C565.1 203.2 567.9 198.6 570.8 195.9C573.7 193.2 576.5 190.9 579.4 188.4C582.3 185.9 585.1 183.2 588.0 180.9C590.9 178.6 593.7 176.7 596.6 174.4C599.5 172.1 602.3 169.2 605.2 166.9C608.1 164.6 610.9 162.8 613.8 160.5C616.7 158.2 619.5 154.6 622.4 153.0C625.3 151.4 628.5 149.7 631.0 150.8C633.5 151.9 635.2 158.5 637.4 159.4C639.5 160.3 641.8 158.3 643.9 156.2C646.0 154.0 648.1 149.7 650.3 146.5C652.4 143.3 654.6 138.2 656.8 136.9C658.9 135.7 661.1 137.8 663.2 139.0C665.3 140.2 668.0 143.4 669.6 144.4C671.2 145.4 672.4 144.9 672.9 145.0" fill="none" stroke="#da9795" stroke-width="2.35" stroke-linejoin="round" stroke-linecap="round"/>
<path d="M372.1 143.0C372.9 143.2 375.2 143.1 376.8 144.1C378.4 145.1 379.8 149.6 381.6 148.8C383.4 148.0 385.5 142.2 387.5 139.4C389.5 136.7 391.8 133.6 393.4 132.3C395.0 131.0 395.4 130.7 397.0 131.7C398.6 132.7 401.4 136.7 402.9 138.2C404.4 139.7 404.7 141.1 405.9 140.5C407.1 139.9 408.5 136.6 410.0 134.6C411.5 132.6 413.4 130.1 414.8 128.7C416.2 127.3 416.9 125.2 418.2 126.4C419.5 127.7 421.3 132.2 422.7 136.2C424.1 140.2 425.4 149.8 426.8 150.4C428.2 151.0 429.9 139.9 431.2 139.8C432.5 139.7 433.4 146.2 434.5 150.0C435.6 153.8 436.9 163.2 438.1 162.9C439.4 162.6 440.6 154.2 442.0 148.0C443.4 141.8 445.2 132.0 446.7 125.6C448.2 119.2 449.9 112.5 451.1 109.6C452.3 106.7 452.6 107.9 453.8 108.4C455.0 109.0 456.7 111.3 458.2 112.9C459.7 114.5 461.3 116.9 462.7 118.2C464.1 119.5 465.4 118.2 466.5 121.0C467.6 123.8 468.4 127.7 469.5 135.0C470.6 142.3 471.8 155.8 473.0 165.0C474.2 174.2 475.7 184.3 477.0 190.0C478.3 195.7 479.7 198.6 480.9 199.1C482.1 199.6 482.8 195.8 484.0 193.0C485.2 190.2 486.7 184.7 488.0 182.0C489.3 179.3 490.6 176.2 491.9 176.9C493.2 177.6 494.5 181.3 496.0 186.0C497.5 190.7 499.5 199.7 501.0 205.0C502.5 210.3 503.2 218.2 504.9 217.8C506.6 217.4 509.2 206.3 511.1 202.7C513.0 199.1 514.5 196.2 516.4 196.4C518.3 196.6 520.6 203.3 522.7 203.6C524.8 203.9 526.7 199.7 528.9 198.2C531.1 196.7 534.1 195.1 536.0 194.7C537.9 194.2 538.5 196.9 540.0 195.5C541.5 194.1 543.1 188.0 545.0 186.3C546.9 184.6 549.0 185.9 551.5 185.2C554.0 184.5 557.2 182.5 560.1 182.0C563.0 181.5 566.2 183.3 568.7 182.0C571.2 180.7 572.6 176.6 575.1 174.4C577.6 172.2 580.8 169.8 583.7 169.1C586.6 168.4 589.4 171.1 592.3 170.2C595.2 169.3 598.0 165.8 600.9 163.7C603.8 161.5 607.0 158.9 609.5 157.3C612.0 155.7 613.8 153.5 615.9 154.0C618.0 154.5 620.2 159.6 622.4 160.5C624.5 161.4 626.6 160.7 628.8 159.4C630.9 158.2 632.8 154.4 635.3 153.0C637.8 151.6 641.4 151.5 643.9 150.8C646.4 150.1 648.1 150.5 650.3 148.7C652.4 146.9 654.6 140.8 656.8 140.1C658.9 139.4 661.1 143.2 663.2 144.4C665.3 145.7 668.0 147.2 669.6 147.6C671.2 147.9 672.4 146.7 672.9 146.5" fill="none" stroke="#a6a6a6" stroke-width="2.35" stroke-linejoin="round" stroke-linecap="round"/>
<path d="M372.1 144.1C373.1 143.7 376.2 141.7 378.0 141.7C379.8 141.7 381.0 144.7 382.8 144.1C384.6 143.5 386.9 140.0 388.7 138.2C390.5 136.4 391.6 134.5 393.4 133.4C395.2 132.3 397.4 131.3 399.4 131.7C401.4 132.1 403.3 136.3 405.3 135.8C407.3 135.3 409.2 130.3 411.2 128.7C413.2 127.1 415.3 126.1 417.1 126.3C418.9 126.5 420.5 127.5 421.9 129.9C423.3 132.3 424.5 137.7 425.4 140.5C426.3 143.3 426.1 147.6 427.1 146.9C428.1 146.2 430.0 136.0 431.2 136.2C432.4 136.4 433.4 143.8 434.5 148.0C435.6 152.2 436.6 160.8 437.8 161.1C439.0 161.4 440.0 155.6 441.5 150.0C443.0 144.4 444.9 134.0 446.7 127.3C448.4 120.6 450.2 111.8 452.0 110.0C453.8 108.2 455.6 115.1 457.3 116.4C459.0 117.7 460.5 117.7 462.0 118.0C463.5 118.3 464.9 115.9 466.2 118.2C467.5 120.5 468.7 124.2 469.8 132.0C470.9 139.8 471.8 155.0 473.0 165.0C474.2 175.0 475.6 185.4 477.0 192.0C478.4 198.6 480.0 203.6 481.2 204.4C482.4 205.2 482.9 200.4 484.0 197.0C485.1 193.6 486.7 187.3 488.0 184.0C489.3 180.7 490.6 176.6 491.9 176.9C493.2 177.2 494.5 181.3 496.0 186.0C497.5 190.7 499.5 199.7 501.0 205.0C502.5 210.3 503.2 217.3 504.9 217.8C506.6 218.3 509.2 210.4 511.1 208.0C513.0 205.6 514.6 203.6 516.4 203.6C518.2 203.6 519.7 206.7 521.8 208.0C523.9 209.3 526.4 211.0 528.9 211.6C531.4 212.2 534.9 212.5 536.9 211.6C538.9 210.7 539.6 207.9 541.0 206.0C542.4 204.1 542.9 202.0 545.0 200.2C547.1 198.3 550.7 196.2 553.6 194.9C556.5 193.7 559.3 194.3 562.2 192.7C565.1 191.1 567.9 187.5 570.8 185.2C573.7 182.9 576.5 180.5 579.4 178.7C582.3 176.9 585.1 176.0 588.0 174.4C590.9 172.8 593.7 171.1 596.6 169.1C599.5 167.1 602.4 164.4 605.2 162.6C608.1 160.8 610.8 159.2 613.7 158.3C616.6 157.4 619.5 157.8 622.4 157.3C625.3 156.8 628.5 156.0 631.0 155.1C633.5 154.2 634.9 152.6 637.4 151.9C639.9 151.2 643.3 152.1 646.0 150.8C648.7 149.6 651.4 146.0 653.5 144.4C655.6 142.8 656.9 141.4 658.9 141.2C660.9 141.0 663.0 142.2 665.3 143.3C667.6 144.4 671.6 146.9 672.9 147.6" fill="none" stroke="#c4d6a0" stroke-width="2.35" stroke-linejoin="round" stroke-linecap="round"/>
<path d="M25.3 399.4C25.8 398.6 27.2 396.2 28.3 394.6C29.4 393.0 30.7 390.3 31.8 389.9C32.9 389.5 33.8 390.5 34.8 392.3C35.8 394.1 36.8 398.4 37.8 400.5C38.8 402.6 39.7 404.9 40.7 404.7C41.7 404.5 42.8 400.9 43.7 399.4C44.6 397.9 45.1 395.0 46.1 395.8C47.1 396.6 48.5 401.1 49.6 404.1C50.7 407.1 51.6 413.0 52.6 413.6C53.6 414.2 54.6 410.1 55.5 407.7C56.4 405.3 57.1 401.2 57.9 399.4C58.7 397.6 59.4 396.8 60.3 397.0C61.2 397.2 62.0 399.1 63.2 400.5C64.4 401.9 66.1 404.1 67.4 405.3C68.7 406.5 69.8 408.5 71.0 407.7C72.2 406.9 73.3 404.1 74.5 400.5C75.7 396.9 76.9 389.7 78.1 386.3C79.3 382.9 80.5 383.2 81.6 380.4C82.7 377.6 83.8 372.8 84.6 369.7C85.4 366.6 85.4 365.5 86.4 362.0C87.5 358.5 89.6 349.6 90.9 348.7C92.2 347.8 93.1 352.1 94.4 356.7C95.7 361.3 97.4 370.9 98.9 376.2C100.4 381.5 101.8 385.1 103.3 388.7C104.8 392.3 106.3 395.5 107.8 397.6C109.3 399.7 110.7 402.6 112.2 401.1C113.7 399.6 115.2 395.2 116.7 388.7C118.2 382.2 119.6 370.5 121.3 362.0C123.0 353.5 125.2 343.8 126.7 337.6C128.2 331.5 129.0 327.8 130.2 325.1C131.4 322.4 132.8 322.1 133.8 321.6C134.8 321.2 135.4 325.1 136.4 322.4C137.4 319.7 138.8 310.8 140.0 305.6C141.2 300.4 142.6 294.6 143.6 291.3C144.6 288.0 144.9 286.3 145.9 286.0C146.9 285.7 148.3 287.8 149.8 289.6C151.3 291.4 153.3 294.0 155.1 296.7C156.9 299.4 158.9 302.1 160.4 305.6C161.9 309.2 162.8 313.1 164.0 318.0C165.2 322.9 166.6 330.2 167.8 335.0C169.0 339.8 170.2 344.3 171.1 347.0C172.0 349.7 171.9 349.7 173.1 351.3C174.3 352.9 176.8 353.4 178.4 356.7C180.0 360.0 181.4 366.2 182.9 370.9C184.4 375.6 185.7 381.6 187.3 385.1C188.9 388.7 190.9 391.2 192.7 392.2C194.5 393.2 196.2 392.2 198.0 391.3C199.8 390.4 201.8 387.0 203.3 386.9C204.8 386.8 205.7 388.0 206.9 390.4C208.1 392.8 209.2 397.5 210.4 401.1C211.7 404.7 213.1 413.0 214.4 411.8C215.7 410.6 217.1 399.0 218.4 394.0C219.7 389.0 220.8 382.5 222.0 381.6C223.2 380.7 224.4 385.1 225.6 388.7C226.8 392.2 227.9 399.9 229.1 402.9C230.3 405.8 231.4 407.4 232.7 406.4C234.0 405.4 235.6 401.7 237.1 397.0C238.6 392.3 240.3 380.6 241.6 378.0C242.9 375.4 243.8 378.8 245.1 381.6C246.4 384.5 248.1 394.4 249.6 395.1C251.1 395.8 252.7 388.8 254.0 386.0C255.3 383.2 256.0 378.8 257.2 378.2C258.4 377.6 260.1 381.7 261.4 382.7C262.7 383.7 263.7 384.5 265.0 384.4C266.3 384.2 267.9 381.8 269.4 381.8C270.9 381.8 272.4 384.0 273.9 384.4C275.4 384.8 277.0 385.3 278.3 384.4C279.6 383.5 280.6 380.1 281.9 379.1C283.2 378.1 284.8 377.3 286.3 378.2C287.8 379.1 289.3 383.6 290.8 384.4C292.3 385.1 293.7 384.2 295.2 382.7C296.7 381.2 298.4 378.0 299.7 375.6C301.0 373.2 302.2 369.9 303.2 368.4C304.2 366.9 304.9 366.1 305.9 366.7C306.9 367.3 308.1 369.8 309.4 372.0C310.7 374.2 313.1 378.7 313.9 380.0" fill="none" stroke="#f21416" stroke-width="2.35" stroke-linejoin="round" stroke-linecap="round"/>
<path d="M24.7 382.8C25.1 383.3 26.3 383.1 27.1 385.7C27.9 388.3 28.5 395.1 29.5 398.2C30.5 401.3 31.9 403.7 33.0 404.1C34.1 404.5 35.2 401.9 36.0 400.5C36.8 399.1 37.0 397.0 37.8 395.8C38.6 394.6 39.7 393.4 40.7 393.4C41.7 393.4 42.6 394.9 43.7 395.8C44.8 396.7 46.3 398.0 47.3 398.8C48.3 399.6 48.5 399.5 49.6 400.5C50.7 401.5 52.6 403.6 54.0 405.0C55.4 406.4 56.8 408.8 57.9 408.8C59.0 408.9 59.8 406.7 60.9 405.3C62.0 403.9 63.3 401.5 64.4 400.5C65.5 399.5 66.3 399.2 67.4 399.4C68.5 399.6 69.7 401.6 71.0 401.7C72.3 401.8 73.5 400.4 75.0 400.0C76.5 399.6 78.5 399.7 80.0 399.6C81.5 399.5 82.7 401.2 84.0 399.4C85.3 397.6 86.6 392.3 87.8 389.0C89.0 385.7 90.0 379.9 91.2 379.8C92.5 379.8 94.0 385.4 95.3 388.7C96.6 391.9 97.7 396.9 98.9 399.3C100.1 401.7 100.6 402.3 102.4 402.9C104.2 403.5 107.5 403.0 109.6 402.9C111.7 402.8 113.4 402.9 114.9 402.0C116.4 401.1 117.2 400.7 118.4 397.6C119.6 394.5 120.7 388.6 122.0 383.3C123.3 378.0 125.3 369.5 126.4 365.6C127.5 361.7 127.5 362.1 128.4 360.0C129.3 357.9 130.9 354.1 132.0 352.7C133.1 351.3 133.8 351.4 134.7 351.8C135.6 352.2 136.4 355.9 137.3 355.3C138.2 354.7 138.9 351.1 140.0 348.2C141.1 345.2 142.4 339.7 143.6 337.6C144.8 335.5 145.8 337.7 147.1 335.8C148.4 333.9 150.4 326.9 151.6 326.0C152.8 325.1 153.3 327.9 154.2 330.4C155.1 332.9 156.0 338.4 156.9 341.1C157.8 343.8 158.8 346.6 159.6 346.4C160.4 346.2 161.1 341.9 162.0 340.0C162.9 338.1 164.1 335.0 165.1 335.3C166.1 335.6 167.0 339.0 168.0 342.0C169.0 345.0 170.0 349.8 171.3 353.1C172.6 356.4 174.3 360.8 175.8 362.0C177.3 363.2 178.9 358.7 180.2 360.2C181.5 361.7 182.5 370.3 183.8 370.9C185.1 371.5 186.9 363.8 188.2 363.8C189.5 363.8 190.5 367.0 191.8 370.9C193.1 374.8 194.4 385.1 196.2 386.9C198.0 388.7 200.6 381.9 202.4 381.6C204.2 381.3 205.4 383.9 206.9 385.1C208.4 386.3 209.7 388.7 211.3 388.7C212.9 388.7 215.1 386.0 216.7 385.1C218.3 384.2 219.5 383.8 221.1 383.3C222.7 382.9 224.9 381.2 226.4 382.4C227.9 383.6 228.7 387.9 230.0 390.4C231.3 392.9 232.9 397.9 234.4 397.6C235.9 397.3 237.6 392.0 238.9 388.7C240.2 385.4 241.1 378.9 242.4 378.0C243.7 377.1 245.4 381.1 246.9 383.3C248.4 385.5 249.7 390.4 251.3 391.0C252.9 391.6 255.1 386.8 256.7 387.1C258.3 387.4 259.8 391.9 261.1 393.0C262.4 394.1 263.6 394.5 264.7 394.0C265.8 393.5 266.6 391.4 267.7 389.8C268.8 388.2 269.9 383.2 271.2 384.4C272.5 385.6 274.4 396.0 275.7 396.9C277.0 397.8 278.2 392.8 279.2 389.8C280.2 386.8 280.9 378.8 281.9 379.1C282.9 379.4 284.2 388.6 285.4 391.6C286.6 394.6 287.7 397.2 289.0 396.9C290.3 396.6 291.9 392.8 293.4 389.8C294.9 386.8 296.7 381.3 297.9 379.1C299.1 376.9 299.6 374.9 300.6 376.4C301.6 377.9 302.9 384.7 304.1 388.0C305.3 391.3 306.5 395.4 307.7 396.0C308.9 396.6 310.2 393.5 311.2 391.6C312.2 389.7 313.4 385.6 313.9 384.4" fill="none" stroke="#050505" stroke-width="2.35" stroke-linejoin="round" stroke-linecap="round"/>
<path d="M25.3 390.5C25.8 391.0 27.2 392.4 28.3 393.4C29.4 394.4 30.4 396.1 32.0 396.5C33.6 396.9 36.3 395.4 37.8 395.8C39.3 396.2 39.8 398.2 41.0 399.0C42.2 399.8 43.5 399.4 44.9 400.5C46.3 401.6 48.2 404.0 49.6 405.3C51.0 406.6 52.2 408.2 53.2 408.2C54.2 408.2 54.5 406.6 55.5 405.3C56.5 404.0 57.9 401.3 59.1 400.5C60.4 399.7 61.6 399.9 63.0 400.5C64.4 401.1 66.1 403.5 67.4 404.1C68.7 404.7 69.8 405.5 71.0 404.1C72.2 402.7 73.3 398.1 74.5 395.8C75.7 393.5 76.9 391.8 78.1 390.5C79.3 389.2 80.5 388.8 81.6 388.1C82.7 387.4 83.6 389.4 84.7 386.5C85.8 383.6 87.1 374.5 88.2 370.9C89.3 367.3 90.0 364.1 91.2 364.7C92.4 365.3 93.9 370.4 95.3 374.4C96.7 378.4 98.3 384.8 99.8 388.7C101.3 392.6 102.6 395.2 104.2 397.6C105.8 400.0 108.0 402.9 109.6 402.9C111.2 402.9 112.5 400.9 114.0 397.6C115.5 394.3 116.8 389.2 118.4 383.3C120.0 377.4 122.1 368.4 123.8 362.0C125.5 355.6 127.0 348.8 128.4 344.7C129.8 340.6 130.7 338.9 132.0 337.6C133.3 336.3 135.1 339.1 136.4 336.7C137.7 334.3 138.7 327.3 140.0 323.3C141.3 319.3 143.1 315.2 144.4 312.7C145.7 310.2 146.8 309.1 148.0 308.2C149.2 307.3 150.4 306.6 151.6 307.3C152.8 308.1 153.9 310.5 155.1 312.7C156.3 314.9 157.5 318.9 158.7 320.7C159.9 322.5 161.0 322.0 162.2 323.3C163.4 324.6 164.8 326.4 165.8 328.7C166.9 331.0 167.7 334.4 168.5 337.0C169.3 339.6 169.3 341.2 170.4 344.2C171.5 347.2 173.4 352.1 174.9 354.9C176.4 357.7 178.0 359.3 179.3 361.1C180.6 362.9 181.6 363.7 182.9 365.6C184.2 367.5 185.7 370.0 187.3 372.7C188.9 375.4 191.1 379.2 192.7 381.6C194.3 384.0 195.5 386.6 197.1 386.9C198.7 387.2 200.6 382.7 202.4 383.3C204.2 383.9 206.2 388.0 207.8 390.4C209.4 392.8 210.9 396.1 212.2 397.6C213.5 399.1 214.5 401.1 215.8 399.3C217.1 397.5 218.9 389.6 220.2 386.9C221.5 384.2 222.5 383.0 223.8 383.3C225.1 383.6 226.7 386.6 228.2 388.7C229.7 390.8 231.2 394.9 232.7 395.8C234.2 396.7 235.6 397.0 237.1 394.0C238.6 391.0 240.3 380.4 241.6 378.0C242.9 375.6 243.8 377.7 245.1 379.8C246.4 381.9 248.0 388.6 249.6 390.4C251.2 392.2 253.2 391.4 254.9 390.4C256.6 389.4 258.2 384.6 259.7 384.4C261.2 384.1 262.6 388.6 264.1 388.9C265.6 389.2 267.3 386.9 268.6 386.2C269.9 385.4 270.8 383.6 272.1 384.4C273.4 385.1 275.0 391.1 276.6 390.7C278.2 390.3 280.3 382.4 281.9 381.8C283.5 381.2 284.7 385.9 286.3 387.1C287.9 388.3 290.1 389.0 291.7 388.9C293.3 388.8 294.6 388.3 296.1 386.2C297.6 384.1 299.1 377.7 300.6 376.4C302.1 375.1 303.5 377.1 305.0 378.2C306.5 379.2 307.9 382.1 309.4 382.7C310.9 383.3 313.1 381.9 313.9 381.8" fill="none" stroke="#13a54c" stroke-width="2.35" stroke-linejoin="round" stroke-linecap="round"/>
<path d="M24.7 391.7C25.5 392.8 28.1 397.7 29.5 398.2C30.9 398.7 31.6 394.6 33.0 394.6C34.4 394.6 36.0 397.0 37.8 398.2C39.6 399.4 41.9 401.5 43.7 401.7C45.5 401.9 47.0 400.0 48.4 399.4C49.8 398.8 50.6 398.0 52.0 398.2C53.4 398.4 55.1 399.3 56.7 400.5C58.3 401.7 59.9 404.1 61.5 405.3C63.1 406.5 64.6 407.9 66.2 407.7C67.8 407.5 69.6 406.3 71.0 404.1C72.4 401.9 73.5 397.0 74.5 394.6C75.5 392.2 75.9 390.6 76.9 389.9C77.9 389.2 79.2 391.1 80.4 390.5C81.6 389.9 82.8 389.0 84.0 386.3C85.2 383.6 86.3 378.4 87.5 374.5C88.7 370.6 89.6 362.9 90.9 362.9C92.2 362.9 93.8 370.4 95.3 374.4C96.8 378.4 98.3 386.1 99.8 386.9C101.3 387.6 102.7 380.1 104.2 378.9C105.7 377.7 107.2 379.1 108.7 379.8C110.2 380.5 111.6 383.9 113.1 383.3C114.6 382.7 116.4 380.1 117.6 376.2C118.8 372.3 119.6 365.9 120.5 360.0C121.4 354.1 121.8 347.5 123.1 341.1C124.4 334.7 126.8 325.8 128.4 321.6C130.0 317.5 131.3 317.4 132.9 316.2C134.5 315.0 136.4 316.0 138.2 314.4C140.0 312.8 142.0 306.7 143.6 306.4C145.2 306.1 146.4 310.2 148.0 312.7C149.6 315.2 151.5 318.7 153.3 321.6C155.1 324.6 157.2 328.0 158.7 330.4C160.1 332.8 161.1 334.6 162.0 336.0C162.9 337.4 162.9 336.0 164.2 338.9C165.5 341.8 168.0 348.7 169.6 353.1C171.2 357.6 172.4 361.8 174.0 365.6C175.6 369.5 177.4 372.9 179.3 376.2C181.2 379.4 183.4 382.7 185.6 385.1C187.8 387.5 190.3 388.9 192.7 390.4C195.1 391.9 197.7 392.2 199.8 394.0C201.9 395.8 203.3 399.9 205.1 401.1C206.9 402.3 208.6 401.4 210.4 401.1C212.2 400.8 214.0 398.3 215.8 399.3C217.6 400.3 219.3 407.0 221.1 407.3C222.9 407.6 224.6 402.4 226.4 401.1C228.2 399.8 230.0 399.3 231.8 399.3C233.6 399.3 235.3 401.5 237.1 401.1C238.9 400.7 240.6 396.7 242.4 396.7C244.2 396.7 246.0 401.0 247.8 401.1C249.6 401.2 251.0 398.1 253.1 397.6C255.2 397.2 257.8 398.0 260.2 398.4C262.6 398.8 264.6 400.1 267.3 400.2C270.0 400.2 273.9 398.8 276.6 398.7C279.3 398.6 281.3 399.8 283.7 399.6C286.1 399.5 288.7 398.7 290.8 397.8C292.9 396.9 294.3 394.1 296.1 394.2C297.9 394.3 299.6 397.7 301.4 398.7C303.2 399.7 304.7 400.2 306.8 400.4C308.9 400.5 312.7 399.7 313.9 399.6" fill="none" stroke="#da9795" stroke-width="2.35" stroke-linejoin="round" stroke-linecap="round"/>
<path d="M24.7 392.0C25.5 392.8 27.7 395.8 29.5 397.0C31.3 398.2 33.4 398.8 35.4 399.4C37.4 400.0 39.5 399.9 41.3 400.5C43.1 401.1 44.5 402.9 46.1 402.9C47.7 402.9 49.2 400.3 50.8 400.5C52.4 400.7 53.7 402.5 55.5 404.1C57.3 405.7 59.7 408.5 61.5 410.0C63.3 411.5 64.6 412.7 66.2 413.0C67.8 413.3 69.6 413.1 71.0 411.8C72.4 410.5 73.1 407.0 74.5 405.3C75.9 403.6 77.8 402.1 79.2 401.7C80.6 401.3 81.7 402.1 82.8 402.9C83.9 403.7 84.6 406.9 85.8 406.5C87.0 406.1 88.6 401.6 89.9 400.5C91.2 399.4 92.1 399.3 93.5 399.9C94.9 400.5 96.7 403.0 98.2 404.1C99.7 405.2 100.8 405.4 102.4 406.4C104.0 407.4 106.2 409.7 107.8 410.0C109.4 410.3 110.7 411.2 112.2 408.2C113.7 405.2 115.1 398.7 116.7 392.2C118.3 385.7 120.2 375.9 122.0 369.1C123.8 362.3 125.9 354.8 127.3 351.3C128.7 347.8 128.8 349.8 130.2 348.2C131.6 346.6 133.8 342.9 135.6 342.0C137.4 341.1 139.1 342.3 140.9 342.9C142.7 343.5 144.1 344.7 146.2 345.6C148.3 346.5 150.9 348.1 153.3 348.2C155.7 348.3 158.0 346.9 160.4 346.4C162.8 345.9 165.8 345.2 167.6 345.0C169.4 344.8 169.5 344.6 171.3 345.1C173.1 345.6 176.0 346.2 178.4 347.8C180.8 349.4 183.2 351.9 185.6 354.9C188.0 357.9 190.8 364.0 192.7 365.6C194.6 367.2 195.6 365.8 197.1 364.7C198.6 363.6 200.0 359.1 201.6 359.3C203.2 359.5 205.1 364.1 206.9 365.6C208.7 367.1 210.4 366.7 212.2 368.2C214.0 369.7 215.8 373.8 217.6 374.4C219.4 375.0 221.1 371.5 222.9 371.8C224.7 372.1 226.4 374.4 228.2 376.2C230.0 378.0 231.8 380.8 233.6 382.4C235.4 384.0 237.1 385.7 238.9 386.0C240.7 386.3 242.4 384.2 244.2 384.2C246.0 384.2 247.8 385.0 249.6 386.0C251.4 387.0 253.1 389.4 254.9 390.4C256.7 391.4 258.8 390.6 260.2 392.0C261.6 393.4 261.7 398.0 263.2 398.7C264.7 399.4 267.3 395.7 269.4 396.0C271.5 396.3 273.6 399.9 275.7 400.4C277.8 400.8 279.7 398.8 281.9 398.7C284.1 398.6 286.6 399.9 289.0 399.6C291.4 399.3 294.0 396.9 296.1 396.9C298.2 396.9 299.8 398.6 301.4 399.6C303.0 400.6 304.6 402.2 305.9 403.1C307.2 404.0 308.1 405.2 309.4 404.9C310.7 404.6 313.1 401.9 313.9 401.3" fill="none" stroke="#a6a6a6" stroke-width="2.35" stroke-linejoin="round" stroke-linecap="round"/>
<path d="M24.7 395.8C25.3 395.4 26.9 393.4 28.3 393.4C29.7 393.4 31.4 394.8 33.0 395.8C34.6 396.8 36.2 398.5 37.8 399.4C39.4 400.3 40.9 400.5 42.5 401.1C44.1 401.7 46.1 403.2 47.3 402.9C48.5 402.6 48.6 400.5 49.6 399.4C50.6 398.3 52.0 396.4 53.2 396.4C54.4 396.4 55.3 398.1 56.7 399.4C58.1 400.7 59.9 402.9 61.5 404.1C63.1 405.3 64.6 406.3 66.2 406.5C67.8 406.7 69.6 406.5 71.0 405.3C72.4 404.1 73.3 401.2 74.5 399.4C75.7 397.6 76.9 395.2 78.1 394.6C79.3 394.0 80.4 396.6 81.6 395.8C82.8 395.0 84.0 392.1 85.2 389.9C86.4 387.7 87.7 384.4 88.7 382.8C89.7 381.2 90.0 379.6 91.1 380.6C92.2 381.6 93.8 386.2 95.3 388.7C96.8 391.2 98.3 394.2 99.8 395.8C101.3 397.4 102.6 398.2 104.2 398.4C105.8 398.5 107.8 398.0 109.6 396.7C111.4 395.4 113.1 394.7 114.9 390.4C116.7 386.1 118.7 377.3 120.2 370.9C121.7 364.5 122.9 357.0 124.0 352.0C125.1 347.0 125.5 344.6 126.7 341.1C127.9 337.7 129.3 333.7 131.1 331.3C132.9 328.9 135.5 328.1 137.3 326.9C139.1 325.7 140.2 324.2 141.8 324.2C143.4 324.2 145.2 325.6 147.1 326.9C149.0 328.2 151.1 330.3 153.3 332.2C155.5 334.1 158.3 336.4 160.4 338.4C162.5 340.4 163.9 341.8 166.0 344.2C168.1 346.6 170.7 349.8 173.1 353.1C175.5 356.4 177.8 360.8 180.2 363.8C182.6 366.8 184.9 368.5 187.3 370.9C189.7 373.3 192.0 377.0 194.4 378.0C196.8 379.0 199.5 376.2 201.6 377.1C203.7 378.0 204.8 381.8 206.9 383.3C209.0 384.8 211.9 384.7 214.0 386.0C216.1 387.3 217.5 391.2 219.3 391.3C221.1 391.4 222.9 387.0 224.7 386.9C226.5 386.8 227.9 389.2 230.0 390.4C232.1 391.6 234.7 393.9 237.1 394.0C239.5 394.1 241.8 391.4 244.2 391.3C246.6 391.2 249.2 392.9 251.3 393.1C253.4 393.3 255.2 391.8 257.0 392.4C258.8 393.0 260.5 396.0 262.3 396.9C264.1 397.8 265.9 397.8 267.7 397.8C269.5 397.8 271.2 396.3 273.0 396.9C274.8 397.5 276.5 401.1 278.3 401.3C280.1 401.5 281.9 398.0 283.7 397.8C285.5 397.6 286.9 400.5 289.0 400.4C291.1 400.2 294.0 397.3 296.1 396.9C298.2 396.5 299.6 396.9 301.4 397.8C303.2 398.7 304.7 401.6 306.8 402.2C308.9 402.8 312.7 401.4 313.9 401.3" fill="none" stroke="#c4d6a0" stroke-width="2.35" stroke-linejoin="round" stroke-linecap="round"/>
<path d="M374.7 396.9C375.7 397.2 379.0 397.8 380.9 398.7C382.8 399.6 384.2 401.1 386.0 402.0C387.8 402.9 389.8 404.7 391.6 404.0C393.4 403.3 395.1 396.9 396.9 397.8C398.7 398.7 400.4 408.4 402.2 409.3C404.0 410.2 406.1 404.9 407.6 403.1C409.1 401.3 409.9 398.9 411.1 398.7C412.3 398.5 413.5 399.5 414.7 402.2C415.9 404.9 417.0 411.3 418.2 414.7C419.4 418.1 420.8 423.3 421.8 422.7C422.8 422.1 423.5 417.2 424.4 411.1C425.3 405.0 426.2 392.1 427.1 386.2C428.0 380.3 428.9 377.5 429.8 375.6C430.7 373.7 431.4 376.8 432.4 374.7C433.4 372.6 434.8 366.8 436.0 363.1C437.2 359.4 438.7 353.0 439.9 352.4C441.1 351.8 442.0 356.5 443.1 359.6C444.2 362.7 445.3 368.9 446.7 371.1C448.1 373.4 450.2 369.8 451.6 373.1C453.0 376.4 453.7 385.9 455.1 390.9C456.5 395.9 458.3 403.6 459.9 403.3C461.5 403.0 463.3 395.0 464.9 389.1C466.5 383.2 468.0 373.0 469.3 367.8C470.6 362.6 471.6 360.8 472.9 358.0C474.2 355.2 475.8 354.3 477.3 351.1C478.8 347.9 480.3 341.4 481.8 338.7C483.3 336.0 484.6 338.1 486.2 335.1C487.8 332.1 489.8 324.6 491.6 320.9C493.4 317.2 495.2 316.2 496.9 312.9C498.6 309.6 500.3 301.4 501.9 301.3C503.5 301.2 505.2 308.1 506.7 312.0C508.2 315.9 509.6 320.8 511.1 324.4C512.6 327.9 514.3 330.6 515.6 333.3C516.9 336.0 517.8 336.8 519.1 340.4C520.4 344.0 522.3 351.0 523.6 354.7C524.9 358.4 525.8 359.6 527.1 362.4C528.4 365.2 530.0 368.6 531.6 371.3C533.2 374.0 535.1 376.0 536.9 378.4C538.7 380.8 540.6 382.3 542.2 385.6C543.8 388.9 545.2 395.1 546.7 398.0C548.2 400.9 549.6 402.1 551.1 403.3C552.6 404.5 554.5 404.0 555.6 405.1C556.8 406.2 556.9 409.9 558.0 410.0C559.1 410.1 560.5 408.0 562.0 406.0C563.5 404.0 565.3 397.7 567.0 398.0C568.7 398.3 570.2 404.3 572.0 408.0C573.8 411.7 576.2 419.3 578.0 420.0C579.8 420.7 581.2 415.0 583.0 412.0C584.8 409.0 587.2 404.0 589.0 402.0C590.8 400.0 592.5 399.0 594.0 400.0C595.5 401.0 596.7 406.7 598.0 408.0C599.3 409.3 600.5 409.0 602.0 408.0C603.5 407.0 605.3 405.0 607.0 402.0C608.7 399.0 610.6 392.8 612.0 390.0C613.4 387.2 614.3 384.7 615.6 385.0C616.9 385.3 618.4 389.8 620.0 392.0C621.6 394.2 623.3 396.8 625.0 398.0C626.7 399.2 628.3 399.7 630.0 399.0C631.7 398.3 633.3 395.2 635.0 394.0C636.7 392.8 638.2 393.0 640.0 392.0C641.8 391.0 644.2 389.5 646.0 388.0C647.8 386.5 649.3 383.5 651.0 383.0C652.7 382.5 654.5 384.2 656.0 385.0C657.5 385.8 659.3 387.5 660.0 388.0" fill="none" stroke="#f21416" stroke-width="2.35" stroke-linejoin="round" stroke-linecap="round"/>
<path d="M374.7 396.9C375.6 396.3 378.4 392.7 380.0 393.3C381.6 393.9 382.8 398.6 384.4 400.4C386.0 402.2 388.2 402.8 389.8 404.0C391.4 405.2 392.7 407.9 394.2 407.6C395.7 407.3 397.1 402.5 398.7 402.2C400.3 401.9 402.4 405.8 404.0 405.8C405.6 405.8 407.1 400.1 408.4 402.2C409.7 404.3 410.8 414.2 412.0 418.2C413.2 422.2 414.4 425.6 415.6 426.2C416.8 426.8 417.9 424.3 419.1 421.8C420.3 419.3 421.5 415.0 422.7 411.1C423.9 407.2 425.0 401.7 426.2 398.7C427.4 395.7 428.6 392.1 429.8 393.3C431.0 394.5 432.1 405.5 433.3 405.8C434.5 406.1 435.8 398.2 436.9 395.1C438.0 392.0 438.7 386.8 439.9 387.1C441.1 387.4 442.7 393.5 444.0 396.9C445.3 400.3 446.2 406.2 447.6 407.6C449.0 409.0 450.7 404.0 452.4 405.1C454.1 406.2 456.1 411.0 457.8 414.0C459.5 417.0 461.3 422.6 462.8 422.9C464.3 423.2 465.3 422.0 466.7 415.8C468.1 409.6 469.6 394.2 471.1 385.6C472.6 377.0 474.4 368.0 475.6 364.2C476.8 360.4 477.2 363.2 478.2 362.7C479.2 362.1 480.6 362.5 481.8 360.9C483.0 359.3 484.3 356.3 485.3 352.9C486.3 349.5 486.9 344.8 488.0 340.4C489.1 335.9 490.4 329.1 491.6 326.2C492.8 323.2 493.9 323.0 495.1 322.7C496.3 322.4 497.7 322.9 498.7 324.4C499.7 325.9 500.4 329.5 501.3 331.6C502.2 333.7 502.9 335.7 504.0 336.9C505.1 338.1 506.4 337.2 507.6 338.7C508.8 340.2 509.6 343.4 511.1 345.8C512.6 348.2 514.6 350.8 516.4 352.9C518.2 355.0 519.9 356.5 521.8 358.2C523.7 359.9 526.2 360.5 528.0 363.3C529.8 366.1 530.8 373.4 532.4 374.9C534.0 376.4 536.0 371.9 537.8 372.2C539.6 372.5 541.1 375.7 543.1 376.7C545.1 377.7 547.9 376.1 550.0 378.0C552.1 379.9 554.2 385.7 556.0 388.0C557.8 390.3 559.3 391.5 561.0 392.0C562.7 392.5 564.2 390.7 566.0 391.0C567.8 391.3 570.0 393.8 572.0 394.0C574.0 394.2 576.2 391.3 578.0 392.0C579.8 392.7 581.3 396.7 583.0 398.0C584.7 399.3 586.5 401.0 588.0 400.0C589.5 399.0 590.2 393.3 592.0 392.0C593.8 390.7 597.2 390.7 599.0 392.0C600.8 393.3 601.5 398.3 603.0 400.0C604.5 401.7 606.3 403.3 608.0 402.0C609.7 400.7 611.5 392.7 613.0 392.0C614.5 391.3 615.5 396.3 617.0 398.0C618.5 399.7 620.5 400.5 622.0 402.0C623.5 403.5 624.7 408.7 626.0 407.0C627.3 405.3 628.8 396.3 630.0 392.0C631.2 387.7 631.8 380.3 633.0 381.0C634.2 381.7 635.7 391.2 637.0 396.0C638.3 400.8 639.8 407.8 641.0 410.0C642.2 412.2 642.8 413.0 644.0 409.0C645.2 405.0 646.9 391.3 648.0 386.0C649.1 380.7 649.6 376.0 650.6 377.0C651.6 378.0 652.8 386.8 654.0 392.0C655.2 397.2 657.0 404.5 658.0 408.0C659.0 411.5 659.7 412.2 660.0 413.0" fill="none" stroke="#050505" stroke-width="2.35" stroke-linejoin="round" stroke-linecap="round"/>
<path d="M374.7 395.1C375.7 395.4 379.0 395.5 380.9 397.0C382.8 398.5 384.4 402.5 386.2 404.0C388.0 405.5 389.8 406.1 391.6 405.8C393.4 405.5 395.1 402.2 396.9 402.2C398.7 402.2 400.3 405.9 402.2 405.8C404.1 405.7 406.6 401.0 408.4 401.3C410.2 401.6 411.4 404.8 412.9 407.6C414.4 410.4 416.0 416.7 417.3 418.2C418.6 419.7 419.7 419.1 420.9 416.4C422.1 413.7 423.4 406.9 424.4 402.2C425.4 397.5 426.2 391.1 427.1 388.0C428.0 384.9 428.8 383.9 429.8 383.6C430.8 383.3 432.1 387.5 433.3 386.2C434.5 384.9 435.8 378.3 436.9 375.6C437.9 372.9 438.6 369.3 439.6 370.2C440.6 371.1 441.9 378.3 443.1 380.9C444.3 383.5 445.6 384.8 446.7 385.6C447.8 386.5 448.8 383.9 450.0 386.0C451.2 388.1 452.5 394.1 454.2 398.0C455.9 401.9 458.5 409.3 460.4 409.6C462.3 409.9 464.0 405.3 465.8 399.8C467.6 394.3 469.5 383.5 471.1 376.7C472.7 369.9 474.3 363.2 475.6 358.9C476.9 354.6 477.6 353.6 479.1 351.1C480.6 348.6 482.8 347.0 484.4 344.0C486.0 341.0 487.6 336.9 488.9 333.3C490.2 329.8 491.1 325.2 492.4 322.7C493.7 320.2 495.6 319.4 496.9 318.2C498.2 317.0 498.8 315.2 500.1 315.6C501.4 316.1 503.4 318.5 504.9 320.9C506.4 323.3 507.8 326.6 509.3 329.8C510.8 333.1 512.3 336.8 513.8 340.4C515.3 343.9 516.6 347.8 518.2 351.1C519.8 354.4 522.4 357.8 523.6 360.0C524.8 362.2 524.1 361.7 525.3 364.2C526.5 366.7 528.9 372.1 530.7 374.9C532.5 377.7 534.1 379.8 536.0 381.1C537.9 382.4 540.1 381.9 542.2 382.9C544.3 383.9 546.5 385.7 548.4 387.3C550.3 388.9 552.2 390.6 553.8 392.7C555.4 394.8 556.5 397.9 558.0 400.0C559.5 402.1 561.2 405.0 563.0 405.0C564.8 405.0 567.0 400.2 569.0 400.0C571.0 399.8 573.2 403.2 575.0 404.0C576.8 404.8 578.2 405.3 580.0 405.0C581.8 404.7 584.0 403.3 586.0 402.0C588.0 400.7 590.0 397.7 592.0 397.0C594.0 396.3 596.0 397.5 598.0 398.0C600.0 398.5 602.2 400.0 604.0 400.0C605.8 400.0 607.5 399.5 609.0 398.0C610.5 396.5 611.5 391.3 613.0 391.0C614.5 390.7 616.3 394.5 618.0 396.0C619.7 397.5 621.3 400.3 623.0 400.0C624.7 399.7 626.3 396.8 628.0 394.0C629.7 391.2 631.5 383.3 633.0 383.0C634.5 382.7 635.5 389.2 637.0 392.0C638.5 394.8 640.3 400.7 642.0 400.0C643.7 399.3 645.5 391.3 647.0 388.0C648.5 384.7 649.7 379.7 651.0 380.0C652.3 380.3 653.5 386.7 655.0 390.0C656.5 393.3 659.2 398.3 660.0 400.0" fill="none" stroke="#13a54c" stroke-width="2.35" stroke-linejoin="round" stroke-linecap="round"/>
<path d="M374.7 394.2C375.4 394.8 377.4 396.1 379.0 398.0C380.6 399.9 382.4 405.8 384.4 405.8C386.3 405.8 388.8 398.4 390.7 397.8C392.6 397.2 394.1 400.1 396.0 402.2C397.9 404.3 400.1 410.5 402.2 410.2C404.3 409.9 406.6 401.9 408.4 400.4C410.2 398.9 411.3 399.8 412.9 401.3C414.5 402.8 416.6 408.6 418.2 409.3C419.8 410.1 421.4 408.8 422.7 405.8C424.0 402.9 425.0 394.9 426.2 391.6C427.4 388.3 428.6 388.0 429.8 386.2C431.0 384.4 432.1 383.6 433.3 380.9C434.5 378.2 435.8 373.0 436.9 370.2C437.9 367.4 438.6 363.6 439.6 364.0C440.6 364.4 441.9 370.7 443.1 372.9C444.3 375.1 445.7 377.0 446.7 377.0C447.7 377.0 447.8 373.9 448.9 373.1C450.0 372.3 451.5 371.0 453.3 372.2C455.1 373.4 457.7 380.6 459.6 380.2C461.5 379.8 463.1 374.5 464.9 369.6C466.7 364.8 468.4 357.7 470.2 351.1C472.0 344.5 474.0 335.3 475.6 329.8C477.2 324.3 478.5 321.0 480.0 318.2C481.5 315.4 482.9 313.5 484.4 312.9C485.9 312.3 487.4 313.5 488.9 314.7C490.4 315.9 491.4 318.8 493.3 320.0C495.2 321.2 498.5 320.5 500.4 321.8C502.3 323.1 503.4 324.9 504.9 328.0C506.4 331.1 507.7 336.5 509.3 340.4C510.9 344.2 512.9 347.2 514.7 351.1C516.5 355.0 517.9 359.6 520.0 363.6C522.1 367.6 525.0 371.8 527.1 374.9C529.2 378.0 530.6 380.2 532.4 382.0C534.2 383.8 536.4 384.3 537.8 385.6C539.2 386.9 539.6 387.3 541.0 390.0C542.4 392.7 544.2 399.5 546.0 402.0C547.8 404.5 550.0 404.7 552.0 405.0C554.0 405.3 556.2 405.0 558.0 404.0C559.8 403.0 561.3 398.5 563.0 399.0C564.7 399.5 566.2 406.5 568.0 407.0C569.8 407.5 572.0 403.8 574.0 402.0C576.0 400.2 578.0 396.3 580.0 396.0C582.0 395.7 584.0 399.0 586.0 400.0C588.0 401.0 589.7 401.8 592.0 402.0C594.3 402.2 597.3 401.0 600.0 401.0C602.7 401.0 605.3 402.3 608.0 402.0C610.7 401.7 613.3 399.0 616.0 399.0C618.7 399.0 621.3 401.7 624.0 402.0C626.7 402.3 629.3 401.0 632.0 401.0C634.7 401.0 637.3 401.8 640.0 402.0C642.7 402.2 645.5 402.3 648.0 402.0C650.5 401.7 653.0 400.8 655.0 400.0C657.0 399.2 659.2 397.5 660.0 397.0" fill="none" stroke="#da9795" stroke-width="2.35" stroke-linejoin="round" stroke-linecap="round"/>
<path d="M374.7 395.5C375.7 396.3 378.7 399.7 380.9 400.4C383.1 401.1 385.6 399.0 388.0 399.6C390.4 400.2 392.9 403.4 395.1 404.0C397.3 404.6 399.2 404.0 401.3 403.1C403.4 402.2 405.7 398.9 407.6 398.7C409.5 398.5 411.1 400.4 412.9 402.2C414.7 404.0 416.6 408.7 418.2 409.3C419.8 409.9 421.4 408.5 422.7 405.8C424.0 403.1 425.0 395.7 426.2 393.3C427.4 390.9 428.6 391.0 429.8 391.6C431.0 392.2 432.1 397.2 433.3 396.9C434.5 396.6 435.8 391.7 436.9 389.8C437.9 387.9 438.5 383.9 439.6 385.3C440.7 386.7 442.4 394.2 443.6 398.0C444.9 401.8 445.8 407.5 447.1 407.8C448.4 408.1 450.1 402.2 451.6 399.8C453.1 397.4 454.1 394.8 456.0 393.6C457.9 392.4 461.3 392.9 463.1 392.7C464.9 392.5 465.5 394.8 466.7 392.7C467.9 390.6 468.9 385.5 470.2 380.2C471.5 374.9 473.5 366.1 474.7 360.7C475.9 355.3 476.6 351.4 477.5 348.0C478.4 344.6 478.9 342.2 480.0 340.4C481.1 338.5 482.9 336.4 484.4 336.9C485.9 337.3 487.4 342.4 488.9 343.1C490.4 343.8 491.7 341.2 493.3 341.3C494.9 341.4 497.1 342.9 498.7 344.0C500.3 345.1 501.8 345.8 503.1 347.6C504.4 349.4 505.4 353.2 506.7 354.7C508.0 356.2 509.8 356.4 511.1 356.4C512.4 356.3 513.2 353.7 514.7 354.4C516.2 355.1 518.2 358.2 520.0 360.7C521.8 363.2 523.5 366.9 525.3 369.6C527.1 372.3 528.8 375.1 530.7 376.7C532.6 378.3 534.8 379.1 536.9 379.3C539.0 379.5 541.2 378.4 543.1 378.0C545.0 377.6 546.9 376.2 548.4 376.7C549.9 377.2 550.4 379.9 552.0 381.0C553.6 382.1 556.0 381.8 558.0 383.0C560.0 384.2 562.0 387.2 564.0 388.0C566.0 388.8 568.0 388.2 570.0 388.0C572.0 387.8 574.0 387.3 576.0 387.0C578.0 386.7 580.0 385.2 582.0 386.0C584.0 386.8 586.2 391.5 588.0 392.0C589.8 392.5 591.3 388.3 593.0 389.0C594.7 389.7 596.2 393.8 598.0 396.0C599.8 398.2 602.0 401.3 604.0 402.0C606.0 402.7 608.0 400.3 610.0 400.0C612.0 399.7 614.0 399.8 616.0 400.0C618.0 400.2 620.0 400.3 622.0 401.0C624.0 401.7 626.2 403.0 628.0 404.0C629.8 405.0 631.3 407.3 633.0 407.0C634.7 406.7 636.2 402.7 638.0 402.0C639.8 401.3 642.0 402.2 644.0 403.0C646.0 403.8 648.2 406.8 650.0 407.0C651.8 407.2 653.3 405.5 655.0 404.0C656.7 402.5 659.2 399.0 660.0 398.0" fill="none" stroke="#a6a6a6" stroke-width="2.35" stroke-linejoin="round" stroke-linecap="round"/>
<path d="M374.7 396.0C375.7 397.0 379.0 400.6 380.9 402.2C382.8 403.8 384.4 406.1 386.2 405.8C388.0 405.5 389.8 400.4 391.6 400.4C393.4 400.4 395.1 404.6 396.9 405.8C398.7 407.0 400.3 408.5 402.2 407.6C404.1 406.7 406.5 401.0 408.4 400.4C410.3 399.8 412.0 402.7 413.8 404.0C415.6 405.3 417.5 409.0 419.1 408.4C420.7 407.8 422.3 403.6 423.6 400.4C424.9 397.1 425.9 391.4 427.1 388.9C428.3 386.4 429.5 386.1 430.7 385.3C431.9 384.6 433.0 385.9 434.2 384.4C435.4 382.9 436.9 378.2 437.8 376.4C438.7 374.6 438.7 372.5 439.6 373.8C440.5 375.1 442.2 381.2 443.1 384.4C444.1 387.5 444.3 392.5 445.3 392.7C446.3 392.9 447.6 387.4 448.9 385.6C450.2 383.8 451.5 381.7 453.3 382.0C455.1 382.3 457.7 387.9 459.6 387.3C461.5 386.7 463.1 382.8 464.9 378.4C466.7 374.0 468.7 365.2 470.2 360.7C471.7 356.1 472.5 355.7 473.8 351.1C475.1 346.5 476.7 337.6 478.2 333.3C479.7 329.0 481.4 326.8 482.7 325.3C484.0 323.8 484.7 323.8 486.2 324.4C487.7 325.0 489.7 327.7 491.6 328.9C493.5 330.1 495.9 330.3 497.8 331.6C499.7 332.9 501.3 334.5 503.1 336.9C504.9 339.3 506.6 342.8 508.4 345.8C510.2 348.8 512.2 353.0 513.8 354.7C515.4 356.4 516.6 353.8 518.2 356.0C519.8 358.2 521.8 364.7 523.6 367.8C525.4 370.9 526.8 372.5 528.9 374.9C531.0 377.3 533.6 379.9 536.0 382.0C538.4 384.1 541.1 385.6 543.1 387.3C545.1 389.0 545.9 390.7 548.0 392.0C550.1 393.3 553.3 394.0 556.0 395.0C558.7 396.0 561.3 397.7 564.0 398.0C566.7 398.3 569.3 397.0 572.0 397.0C574.7 397.0 577.3 397.5 580.0 398.0C582.7 398.5 585.7 400.5 588.0 400.0C590.3 399.5 592.0 395.0 594.0 395.0C596.0 395.0 597.7 398.8 600.0 400.0C602.3 401.2 605.7 402.2 608.0 402.0C610.3 401.8 612.0 399.2 614.0 399.0C616.0 398.8 617.7 400.5 620.0 401.0C622.3 401.5 625.7 402.3 628.0 402.0C630.3 401.7 632.0 398.8 634.0 399.0C636.0 399.2 637.7 402.2 640.0 403.0C642.3 403.8 645.7 404.3 648.0 404.0C650.3 403.7 652.0 401.8 654.0 401.0C656.0 400.2 659.0 399.3 660.0 399.0" fill="none" stroke="#c4d6a0" stroke-width="2.35" stroke-linejoin="round" stroke-linecap="round"/>
<path d="M233.3 46.7 L235.5 43.5 L237.7 46.7" fill="none" stroke="#b8b8b8" stroke-width="0.6"/><path d="M220.3 60.2 v3.5 M250.7 60.2 v3.5" stroke="#dedede" stroke-width="0.8" fill="none"/><g clip-path="url(#c1)"><g filter="url(#bl)"><circle cx="235.5" cy="60.7" r="17.6" fill="rgb(32,230,42)"/><ellipse cx="233.5" cy="61.7" rx="20.2" ry="18.6" fill="url(#g1)"/><ellipse cx="232.5" cy="47.7" rx="12.4" ry="4.7" fill="url(#g2)"/><ellipse cx="234.3" cy="57.5" rx="14.3" ry="11.8" fill="url(#g3)" transform="rotate(-20 234.3 57.5)"/><ellipse cx="229.0" cy="71.2" rx="9.3" ry="6.2" fill="url(#g4)"/><ellipse cx="247.5" cy="58.7" rx="7.8" ry="15.5" fill="url(#g5)"/></g><g fill="#0c5a18" opacity="0.5"><circle cx="235.5" cy="50.7" r="0.45"/><circle cx="230.5" cy="52.7" r="0.45"/><circle cx="240.5" cy="52.7" r="0.45"/><circle cx="226.5" cy="56.7" r="0.45"/><circle cx="231.5" cy="56.7" r="0.45"/><circle cx="235.5" cy="55.7" r="0.45"/><circle cx="239.5" cy="56.7" r="0.45"/><circle cx="244.5" cy="56.7" r="0.45"/><circle cx="224.5" cy="60.7" r="0.45"/><circle cx="229.5" cy="60.7" r="0.45"/><circle cx="235.5" cy="60.7" r="0.45"/><circle cx="241.5" cy="60.7" r="0.45"/><circle cx="246.5" cy="60.7" r="0.45"/><circle cx="226.5" cy="65.7" r="0.45"/><circle cx="231.5" cy="65.7" r="0.45"/><circle cx="235.5" cy="65.7" r="0.45"/><circle cx="239.5" cy="65.7" r="0.45"/><circle cx="244.5" cy="65.7" r="0.45"/><circle cx="229.5" cy="69.7" r="0.45"/><circle cx="235.5" cy="70.7" r="0.45"/><circle cx="241.5" cy="69.7" r="0.45"/><circle cx="232.5" cy="72.7" r="0.45"/><circle cx="238.5" cy="72.7" r="0.45"/></g></g><circle cx="235.5" cy="60.7" r="14.6" fill="none" stroke="#9fe8a0" stroke-width="0.8" opacity="0.7"/>
<path d="M264.6 46.7 L266.8 43.5 L269.0 46.7" fill="none" stroke="#b8b8b8" stroke-width="0.6"/><path d="M251.6 60.2 v3.5 M282.0 60.2 v3.5" stroke="#dedede" stroke-width="0.8" fill="none"/><g clip-path="url(#c2)"><g filter="url(#bl)"><circle cx="266.8" cy="60.7" r="17.6" fill="rgb(32,230,42)"/><ellipse cx="264.8" cy="61.7" rx="20.2" ry="18.6" fill="url(#g6)"/><ellipse cx="267.3" cy="47.2" rx="10.8" ry="4.3" fill="url(#g7)"/><ellipse cx="265.6" cy="57.5" rx="14.0" ry="11.2" fill="url(#g8)" transform="rotate(-10 265.6 57.5)"/><ellipse cx="260.8" cy="71.2" rx="9.3" ry="6.2" fill="url(#g9)"/><ellipse cx="279.3" cy="60.7" rx="7.8" ry="15.5" fill="url(#g10)"/></g><g fill="#0c5a18" opacity="0.5"><circle cx="266.8" cy="50.7" r="0.45"/><circle cx="261.8" cy="52.7" r="0.45"/><circle cx="271.8" cy="52.7" r="0.45"/><circle cx="257.8" cy="56.7" r="0.45"/><circle cx="262.8" cy="56.7" r="0.45"/><circle cx="266.8" cy="55.7" r="0.45"/><circle cx="270.8" cy="56.7" r="0.45"/><circle cx="275.8" cy="56.7" r="0.45"/><circle cx="255.8" cy="60.7" r="0.45"/><circle cx="260.8" cy="60.7" r="0.45"/><circle cx="266.8" cy="60.7" r="0.45"/><circle cx="272.8" cy="60.7" r="0.45"/><circle cx="277.8" cy="60.7" r="0.45"/><circle cx="257.8" cy="65.7" r="0.45"/><circle cx="262.8" cy="65.7" r="0.45"/><circle cx="266.8" cy="65.7" r="0.45"/><circle cx="270.8" cy="65.7" r="0.45"/><circle cx="275.8" cy="65.7" r="0.45"/><circle cx="260.8" cy="69.7" r="0.45"/><circle cx="266.8" cy="70.7" r="0.45"/><circle cx="272.8" cy="69.7" r="0.45"/><circle cx="263.8" cy="72.7" r="0.45"/><circle cx="269.8" cy="72.7" r="0.45"/></g></g><circle cx="266.8" cy="60.7" r="14.6" fill="none" stroke="#9fe8a0" stroke-width="0.8" opacity="0.7"/>
<path d="M296.0 46.7 L298.2 43.5 L300.4 46.7" fill="none" stroke="#b8b8b8" stroke-width="0.6"/><path d="M283.0 60.2 v3.5 M313.4 60.2 v3.5" stroke="#dedede" stroke-width="0.8" fill="none"/><g clip-path="url(#c3)"><g filter="url(#bl)"><circle cx="298.2" cy="60.7" r="17.6" fill="rgb(32,230,42)"/><ellipse cx="296.2" cy="61.7" rx="20.2" ry="18.6" fill="url(#g11)"/><ellipse cx="298.2" cy="47.7" rx="12.4" ry="4.7" fill="url(#g12)"/><ellipse cx="296.0" cy="56.9" rx="14.3" ry="11.8" fill="url(#g13)" transform="rotate(-20 296.0 56.9)"/><ellipse cx="294.2" cy="71.2" rx="10.1" ry="6.2" fill="url(#g14)"/><ellipse cx="310.7" cy="59.7" rx="7.8" ry="15.5" fill="url(#g15)"/></g><g fill="#0c5a18" opacity="0.5"><circle cx="298.2" cy="50.7" r="0.45"/><circle cx="293.2" cy="52.7" r="0.45"/><circle cx="303.2" cy="52.7" r="0.45"/><circle cx="289.2" cy="56.7" r="0.45"/><circle cx="294.2" cy="56.7" r="0.45"/><circle cx="298.2" cy="55.7" r="0.45"/><circle cx="302.2" cy="56.7" r="0.45"/><circle cx="307.2" cy="56.7" r="0.45"/><circle cx="287.2" cy="60.7" r="0.45"/><circle cx="292.2" cy="60.7" r="0.45"/><circle cx="298.2" cy="60.7" r="0.45"/><circle cx="304.2" cy="60.7" r="0.45"/><circle cx="309.2" cy="60.7" r="0.45"/><circle cx="289.2" cy="65.7" r="0.45"/><circle cx="294.2" cy="65.7" r="0.45"/><circle cx="298.2" cy="65.7" r="0.45"/><circle cx="302.2" cy="65.7" r="0.45"/><circle cx="307.2" cy="65.7" r="0.45"/><circle cx="292.2" cy="69.7" r="0.45"/><circle cx="298.2" cy="70.7" r="0.45"/><circle cx="304.2" cy="69.7" r="0.45"/><circle cx="295.2" cy="72.7" r="0.45"/><circle cx="301.2" cy="72.7" r="0.45"/></g></g><circle cx="298.2" cy="60.7" r="14.6" fill="none" stroke="#9fe8a0" stroke-width="0.8" opacity="0.7"/>
<text x="236.0" y="87.8" text-anchor="middle" class="tl">Nogo</text><text x="266.9" y="87.8" text-anchor="middle" class="tl">Nogo</text><text x="266.9" y="100.8" text-anchor="middle" class="tl">HS</text><text x="298.4" y="87.8" text-anchor="middle" class="tl">Nogo</text><text x="298.4" y="100.8" text-anchor="middle" class="tl">LS</text>
<path d="M233.0 205.4 L235.2 202.2 L237.4 205.4" fill="none" stroke="#b8b8b8" stroke-width="0.6"/><path d="M220.0 218.9 v3.5 M250.4 218.9 v3.5" stroke="#dedede" stroke-width="0.8" fill="none"/><g clip-path="url(#c4)"><g filter="url(#bl)"><circle cx="235.2" cy="219.4" r="17.6" fill="rgb(32,230,42)"/><ellipse cx="235.2" cy="211.6" rx="14.0" ry="6.7" fill="url(#g16)"/><ellipse cx="236.2" cy="223.7" rx="20.9" ry="8.7" fill="url(#g17)"/><ellipse cx="234.2" cy="223.9" rx="19.4" ry="9.0" fill="url(#g18)"/><ellipse cx="235.2" cy="234.4" rx="18.6" ry="5.4" fill="url(#g19)"/></g><g fill="#0c5a18" opacity="0.5"><circle cx="235.2" cy="209.4" r="0.45"/><circle cx="230.2" cy="211.4" r="0.45"/><circle cx="240.2" cy="211.4" r="0.45"/><circle cx="226.2" cy="215.4" r="0.45"/><circle cx="231.2" cy="215.4" r="0.45"/><circle cx="235.2" cy="214.4" r="0.45"/><circle cx="239.2" cy="215.4" r="0.45"/><circle cx="244.2" cy="215.4" r="0.45"/><circle cx="224.2" cy="219.4" r="0.45"/><circle cx="229.2" cy="219.4" r="0.45"/><circle cx="235.2" cy="219.4" r="0.45"/><circle cx="241.2" cy="219.4" r="0.45"/><circle cx="246.2" cy="219.4" r="0.45"/><circle cx="226.2" cy="224.4" r="0.45"/><circle cx="231.2" cy="224.4" r="0.45"/><circle cx="235.2" cy="224.4" r="0.45"/><circle cx="239.2" cy="224.4" r="0.45"/><circle cx="244.2" cy="224.4" r="0.45"/><circle cx="229.2" cy="228.4" r="0.45"/><circle cx="235.2" cy="229.4" r="0.45"/><circle cx="241.2" cy="228.4" r="0.45"/><circle cx="232.2" cy="231.4" r="0.45"/><circle cx="238.2" cy="231.4" r="0.45"/></g></g><circle cx="235.2" cy="219.4" r="14.6" fill="none" stroke="#9fe8a0" stroke-width="0.8" opacity="0.7"/>
<path d="M264.6 205.4 L266.8 202.2 L269.0 205.4" fill="none" stroke="#b8b8b8" stroke-width="0.6"/><path d="M251.6 218.9 v3.5 M282.0 218.9 v3.5" stroke="#dedede" stroke-width="0.8" fill="none"/><g clip-path="url(#c5)"><g filter="url(#bl)"><circle cx="266.8" cy="219.4" r="17.6" fill="rgb(32,230,42)"/><ellipse cx="266.8" cy="211.6" rx="14.0" ry="6.7" fill="url(#g20)"/><ellipse cx="267.8" cy="223.2" rx="20.9" ry="8.4" fill="url(#g21)"/><ellipse cx="265.3" cy="223.2" rx="18.6" ry="8.5" fill="url(#g22)"/><ellipse cx="266.8" cy="234.4" rx="18.6" ry="5.4" fill="url(#g23)"/></g><g fill="#0c5a18" opacity="0.5"><circle cx="266.8" cy="209.4" r="0.45"/><circle cx="261.8" cy="211.4" r="0.45"/><circle cx="271.8" cy="211.4" r="0.45"/><circle cx="257.8" cy="215.4" r="0.45"/><circle cx="262.8" cy="215.4" r="0.45"/><circle cx="266.8" cy="214.4" r="0.45"/><circle cx="270.8" cy="215.4" r="0.45"/><circle cx="275.8" cy="215.4" r="0.45"/><circle cx="255.8" cy="219.4" r="0.45"/><circle cx="260.8" cy="219.4" r="0.45"/><circle cx="266.8" cy="219.4" r="0.45"/><circle cx="272.8" cy="219.4" r="0.45"/><circle cx="277.8" cy="219.4" r="0.45"/><circle cx="257.8" cy="224.4" r="0.45"/><circle cx="262.8" cy="224.4" r="0.45"/><circle cx="266.8" cy="224.4" r="0.45"/><circle cx="270.8" cy="224.4" r="0.45"/><circle cx="275.8" cy="224.4" r="0.45"/><circle cx="260.8" cy="228.4" r="0.45"/><circle cx="266.8" cy="229.4" r="0.45"/><circle cx="272.8" cy="228.4" r="0.45"/><circle cx="263.8" cy="231.4" r="0.45"/><circle cx="269.8" cy="231.4" r="0.45"/></g></g><circle cx="266.8" cy="219.4" r="14.6" fill="none" stroke="#9fe8a0" stroke-width="0.8" opacity="0.7"/>
<path d="M295.8 205.4 L298.0 202.2 L300.2 205.4" fill="none" stroke="#b8b8b8" stroke-width="0.6"/><path d="M282.8 218.9 v3.5 M313.2 218.9 v3.5" stroke="#dedede" stroke-width="0.8" fill="none"/><g clip-path="url(#c6)"><g filter="url(#bl)"><circle cx="298.0" cy="219.4" r="17.6" fill="rgb(32,230,42)"/><ellipse cx="301.0" cy="210.9" rx="16.3" ry="6.5" fill="url(#g24)"/><ellipse cx="311.0" cy="216.4" rx="6.2" ry="9.3" fill="url(#g25)"/><ellipse cx="296.5" cy="223.8" rx="17.8" ry="9.0" fill="url(#g26)"/><ellipse cx="298.0" cy="234.4" rx="18.6" ry="5.4" fill="url(#g27)"/></g><g fill="#0c5a18" opacity="0.5"><circle cx="298.0" cy="209.4" r="0.45"/><circle cx="293.0" cy="211.4" r="0.45"/><circle cx="303.0" cy="211.4" r="0.45"/><circle cx="289.0" cy="215.4" r="0.45"/><circle cx="294.0" cy="215.4" r="0.45"/><circle cx="298.0" cy="214.4" r="0.45"/><circle cx="302.0" cy="215.4" r="0.45"/><circle cx="307.0" cy="215.4" r="0.45"/><circle cx="287.0" cy="219.4" r="0.45"/><circle cx="292.0" cy="219.4" r="0.45"/><circle cx="298.0" cy="219.4" r="0.45"/><circle cx="304.0" cy="219.4" r="0.45"/><circle cx="309.0" cy="219.4" r="0.45"/><circle cx="289.0" cy="224.4" r="0.45"/><circle cx="294.0" cy="224.4" r="0.45"/><circle cx="298.0" cy="224.4" r="0.45"/><circle cx="302.0" cy="224.4" r="0.45"/><circle cx="307.0" cy="224.4" r="0.45"/><circle cx="292.0" cy="228.4" r="0.45"/><circle cx="298.0" cy="229.4" r="0.45"/><circle cx="304.0" cy="228.4" r="0.45"/><circle cx="295.0" cy="231.4" r="0.45"/><circle cx="301.0" cy="231.4" r="0.45"/></g></g><circle cx="298.0" cy="219.4" r="14.6" fill="none" stroke="#9fe8a0" stroke-width="0.8" opacity="0.7"/>
<text x="235.3" y="248.7" text-anchor="middle" class="tl">Nogo</text><text x="266.9" y="248.7" text-anchor="middle" class="tl">Nogo</text><text x="266.9" y="261.9" text-anchor="middle" class="tl">HS</text><text x="298.4" y="248.7" text-anchor="middle" class="tl">Nogo</text><text x="298.4" y="261.9" text-anchor="middle" class="tl">LS</text>
<path d="M572.2 46.8 L574.4 43.6 L576.6 46.8" fill="none" stroke="#b8b8b8" stroke-width="0.6"/><path d="M559.2 60.3 v3.5 M589.6 60.3 v3.5" stroke="#dedede" stroke-width="0.8" fill="none"/><g clip-path="url(#c7)"><g filter="url(#bl)"><circle cx="574.4" cy="60.8" r="17.6" fill="rgb(32,230,42)"/><ellipse cx="572.4" cy="62.8" rx="18.6" ry="18.6" fill="url(#g28)"/><ellipse cx="567.4" cy="48.8" rx="12.4" ry="6.2" fill="url(#g29)"/><ellipse cx="573.6" cy="58.5" rx="12.4" ry="9.3" fill="url(#g30)"/><ellipse cx="569.6" cy="70.7" rx="7.1" ry="5.6" fill="url(#g31)"/></g><g fill="#0c5a18" opacity="0.5"><circle cx="574.4" cy="50.8" r="0.45"/><circle cx="569.4" cy="52.8" r="0.45"/><circle cx="579.4" cy="52.8" r="0.45"/><circle cx="565.4" cy="56.8" r="0.45"/><circle cx="570.4" cy="56.8" r="0.45"/><circle cx="574.4" cy="55.8" r="0.45"/><circle cx="578.4" cy="56.8" r="0.45"/><circle cx="583.4" cy="56.8" r="0.45"/><circle cx="563.4" cy="60.8" r="0.45"/><circle cx="568.4" cy="60.8" r="0.45"/><circle cx="574.4" cy="60.8" r="0.45"/><circle cx="580.4" cy="60.8" r="0.45"/><circle cx="585.4" cy="60.8" r="0.45"/><circle cx="565.4" cy="65.8" r="0.45"/><circle cx="570.4" cy="65.8" r="0.45"/><circle cx="574.4" cy="65.8" r="0.45"/><circle cx="578.4" cy="65.8" r="0.45"/><circle cx="583.4" cy="65.8" r="0.45"/><circle cx="568.4" cy="69.8" r="0.45"/><circle cx="574.4" cy="70.8" r="0.45"/><circle cx="580.4" cy="69.8" r="0.45"/><circle cx="571.4" cy="72.8" r="0.45"/><circle cx="577.4" cy="72.8" r="0.45"/></g></g><circle cx="574.4" cy="60.8" r="14.6" fill="none" stroke="#9fe8a0" stroke-width="0.8" opacity="0.7"/>
<path d="M603.5 46.8 L605.7 43.6 L607.9 46.8" fill="none" stroke="#b8b8b8" stroke-width="0.6"/><path d="M590.5 60.3 v3.5 M620.9 60.3 v3.5" stroke="#dedede" stroke-width="0.8" fill="none"/><g clip-path="url(#c8)"><g filter="url(#bl)"><circle cx="605.7" cy="60.8" r="17.6" fill="rgb(32,230,42)"/><ellipse cx="604.7" cy="61.8" rx="18.6" ry="17.1" fill="url(#g32)"/><ellipse cx="603.7" cy="47.8" rx="12.4" ry="5.4" fill="url(#g33)"/><ellipse cx="592.7" cy="58.8" rx="5.4" ry="12.4" fill="url(#g34)"/><ellipse cx="603.8" cy="59.0" rx="13.3" ry="9.9" fill="url(#g35)"/></g><g fill="#0c5a18" opacity="0.5"><circle cx="605.7" cy="50.8" r="0.45"/><circle cx="600.7" cy="52.8" r="0.45"/><circle cx="610.7" cy="52.8" r="0.45"/><circle cx="596.7" cy="56.8" r="0.45"/><circle cx="601.7" cy="56.8" r="0.45"/><circle cx="605.7" cy="55.8" r="0.45"/><circle cx="609.7" cy="56.8" r="0.45"/><circle cx="614.7" cy="56.8" r="0.45"/><circle cx="594.7" cy="60.8" r="0.45"/><circle cx="599.7" cy="60.8" r="0.45"/><circle cx="605.7" cy="60.8" r="0.45"/><circle cx="611.7" cy="60.8" r="0.45"/><circle cx="616.7" cy="60.8" r="0.45"/><circle cx="596.7" cy="65.8" r="0.45"/><circle cx="601.7" cy="65.8" r="0.45"/><circle cx="605.7" cy="65.8" r="0.45"/><circle cx="609.7" cy="65.8" r="0.45"/><circle cx="614.7" cy="65.8" r="0.45"/><circle cx="599.7" cy="69.8" r="0.45"/><circle cx="605.7" cy="70.8" r="0.45"/><circle cx="611.7" cy="69.8" r="0.45"/><circle cx="602.7" cy="72.8" r="0.45"/><circle cx="608.7" cy="72.8" r="0.45"/></g></g><circle cx="605.7" cy="60.8" r="14.6" fill="none" stroke="#9fe8a0" stroke-width="0.8" opacity="0.7"/>
<path d="M635.0 46.8 L637.2 43.6 L639.4 46.8" fill="none" stroke="#b8b8b8" stroke-width="0.6"/><path d="M622.0 60.3 v3.5 M652.4 60.3 v3.5" stroke="#dedede" stroke-width="0.8" fill="none"/><g clip-path="url(#c9)"><g filter="url(#bl)"><circle cx="637.2" cy="60.8" r="17.6" fill="rgb(32,230,42)"/><ellipse cx="636.2" cy="62.8" rx="17.1" ry="20.2" fill="url(#g36)"/><ellipse cx="628.2" cy="50.8" rx="10.8" ry="7.8" fill="url(#g37)"/><ellipse cx="638.8" cy="54.4" rx="10.5" ry="9.3" fill="url(#g38)"/><ellipse cx="635.7" cy="62.8" rx="7.8" ry="7.8" fill="url(#g39)"/><ellipse cx="632.3" cy="69.9" rx="10.5" ry="9.0" fill="url(#g40)"/></g><g fill="#0c5a18" opacity="0.5"><circle cx="637.2" cy="50.8" r="0.45"/><circle cx="632.2" cy="52.8" r="0.45"/><circle cx="642.2" cy="52.8" r="0.45"/><circle cx="628.2" cy="56.8" r="0.45"/><circle cx="633.2" cy="56.8" r="0.45"/><circle cx="637.2" cy="55.8" r="0.45"/><circle cx="641.2" cy="56.8" r="0.45"/><circle cx="646.2" cy="56.8" r="0.45"/><circle cx="626.2" cy="60.8" r="0.45"/><circle cx="631.2" cy="60.8" r="0.45"/><circle cx="637.2" cy="60.8" r="0.45"/><circle cx="643.2" cy="60.8" r="0.45"/><circle cx="648.2" cy="60.8" r="0.45"/><circle cx="628.2" cy="65.8" r="0.45"/><circle cx="633.2" cy="65.8" r="0.45"/><circle cx="637.2" cy="65.8" r="0.45"/><circle cx="641.2" cy="65.8" r="0.45"/><circle cx="646.2" cy="65.8" r="0.45"/><circle cx="631.2" cy="69.8" r="0.45"/><circle cx="637.2" cy="70.8" r="0.45"/><circle cx="643.2" cy="69.8" r="0.45"/><circle cx="634.2" cy="72.8" r="0.45"/><circle cx="640.2" cy="72.8" r="0.45"/></g></g><circle cx="637.2" cy="60.8" r="14.6" fill="none" stroke="#9fe8a0" stroke-width="0.8" opacity="0.7"/>
<text x="574.0" y="89.5" text-anchor="middle" class="tl">Nogo</text><text x="605.7" y="89.5" text-anchor="middle" class="tl">Nogo</text><text x="605.7" y="102.5" text-anchor="middle" class="tl">HS</text><text x="637.2" y="89.5" text-anchor="middle" class="tl">Nogo</text><text x="637.2" y="102.5" text-anchor="middle" class="tl">LS</text>
<path d="M570.3 212.0 L572.5 208.8 L574.7 212.0" fill="none" stroke="#b8b8b8" stroke-width="0.6"/><path d="M557.3 225.5 v3.5 M587.7 225.5 v3.5" stroke="#dedede" stroke-width="0.8" fill="none"/><g clip-path="url(#c10)"><g filter="url(#bl)"><circle cx="572.5" cy="226.0" r="17.6" fill="rgb(32,230,42)"/><ellipse cx="574.4" cy="217.7" rx="13.2" ry="7.4" fill="url(#g41)"/><ellipse cx="574.5" cy="230.2" rx="16.3" ry="7.1" fill="url(#g42)" transform="rotate(8 574.5 230.2)"/><ellipse cx="570.0" cy="230.0" rx="17.8" ry="10.5" fill="url(#g43)" transform="rotate(12 570.0 230.0)"/><ellipse cx="581.5" cy="237.0" rx="10.8" ry="6.2" fill="url(#g44)"/></g><g fill="#0c5a18" opacity="0.5"><circle cx="572.5" cy="216.0" r="0.45"/><circle cx="567.5" cy="218.0" r="0.45"/><circle cx="577.5" cy="218.0" r="0.45"/><circle cx="563.5" cy="222.0" r="0.45"/><circle cx="568.5" cy="222.0" r="0.45"/><circle cx="572.5" cy="221.0" r="0.45"/><circle cx="576.5" cy="222.0" r="0.45"/><circle cx="581.5" cy="222.0" r="0.45"/><circle cx="561.5" cy="226.0" r="0.45"/><circle cx="566.5" cy="226.0" r="0.45"/><circle cx="572.5" cy="226.0" r="0.45"/><circle cx="578.5" cy="226.0" r="0.45"/><circle cx="583.5" cy="226.0" r="0.45"/><circle cx="563.5" cy="231.0" r="0.45"/><circle cx="568.5" cy="231.0" r="0.45"/><circle cx="572.5" cy="231.0" r="0.45"/><circle cx="576.5" cy="231.0" r="0.45"/><circle cx="581.5" cy="231.0" r="0.45"/><circle cx="566.5" cy="235.0" r="0.45"/><circle cx="572.5" cy="236.0" r="0.45"/><circle cx="578.5" cy="235.0" r="0.45"/><circle cx="569.5" cy="238.0" r="0.45"/><circle cx="575.5" cy="238.0" r="0.45"/></g></g><circle cx="572.5" cy="226.0" r="14.6" fill="none" stroke="#9fe8a0" stroke-width="0.8" opacity="0.7"/>
<path d="M602.4 212.0 L604.6 208.8 L606.8 212.0" fill="none" stroke="#b8b8b8" stroke-width="0.6"/><path d="M589.4 225.5 v3.5 M619.8 225.5 v3.5" stroke="#dedede" stroke-width="0.8" fill="none"/><g clip-path="url(#c11)"><g filter="url(#bl)"><circle cx="604.6" cy="226.0" r="17.6" fill="rgb(32,230,42)"/><ellipse cx="606.2" cy="217.7" rx="13.2" ry="7.4" fill="url(#g45)"/><ellipse cx="606.6" cy="229.8" rx="16.3" ry="6.8" fill="url(#g46)" transform="rotate(8 606.6 229.8)"/><ellipse cx="602.1" cy="229.3" rx="17.8" ry="9.3" fill="url(#g47)" transform="rotate(12 602.1 229.3)"/><ellipse cx="613.6" cy="237.0" rx="10.8" ry="6.2" fill="url(#g48)"/></g><g fill="#0c5a18" opacity="0.5"><circle cx="604.6" cy="216.0" r="0.45"/><circle cx="599.6" cy="218.0" r="0.45"/><circle cx="609.6" cy="218.0" r="0.45"/><circle cx="595.6" cy="222.0" r="0.45"/><circle cx="600.6" cy="222.0" r="0.45"/><circle cx="604.6" cy="221.0" r="0.45"/><circle cx="608.6" cy="222.0" r="0.45"/><circle cx="613.6" cy="222.0" r="0.45"/><circle cx="593.6" cy="226.0" r="0.45"/><circle cx="598.6" cy="226.0" r="0.45"/><circle cx="604.6" cy="226.0" r="0.45"/><circle cx="610.6" cy="226.0" r="0.45"/><circle cx="615.6" cy="226.0" r="0.45"/><circle cx="595.6" cy="231.0" r="0.45"/><circle cx="600.6" cy="231.0" r="0.45"/><circle cx="604.6" cy="231.0" r="0.45"/><circle cx="608.6" cy="231.0" r="0.45"/><circle cx="613.6" cy="231.0" r="0.45"/><circle cx="598.6" cy="235.0" r="0.45"/><circle cx="604.6" cy="236.0" r="0.45"/><circle cx="610.6" cy="235.0" r="0.45"/><circle cx="601.6" cy="238.0" r="0.45"/><circle cx="607.6" cy="238.0" r="0.45"/></g></g><circle cx="604.6" cy="226.0" r="14.6" fill="none" stroke="#9fe8a0" stroke-width="0.8" opacity="0.7"/>
<path d="M634.3 212.0 L636.5 208.8 L638.7 212.0" fill="none" stroke="#b8b8b8" stroke-width="0.6"/><path d="M621.3 225.5 v3.5 M651.7 225.5 v3.5" stroke="#dedede" stroke-width="0.8" fill="none"/><g clip-path="url(#c12)"><g filter="url(#bl)"><circle cx="636.5" cy="226.0" r="17.6" fill="rgb(32,230,42)"/><ellipse cx="638.0" cy="217.7" rx="14.0" ry="7.1" fill="url(#g49)"/><ellipse cx="632.0" cy="230.5" rx="12.4" ry="13.2" fill="url(#g50)" transform="rotate(-15 632.0 230.5)"/><ellipse cx="647.5" cy="234.0" rx="7.8" ry="9.3" fill="url(#g51)"/></g><g fill="#0c5a18" opacity="0.5"><circle cx="636.5" cy="216.0" r="0.45"/><circle cx="631.5" cy="218.0" r="0.45"/><circle cx="641.5" cy="218.0" r="0.45"/><circle cx="627.5" cy="222.0" r="0.45"/><circle cx="632.5" cy="222.0" r="0.45"/><circle cx="636.5" cy="221.0" r="0.45"/><circle cx="640.5" cy="222.0" r="0.45"/><circle cx="645.5" cy="222.0" r="0.45"/><circle cx="625.5" cy="226.0" r="0.45"/><circle cx="630.5" cy="226.0" r="0.45"/><circle cx="636.5" cy="226.0" r="0.45"/><circle cx="642.5" cy="226.0" r="0.45"/><circle cx="647.5" cy="226.0" r="0.45"/><circle cx="627.5" cy="231.0" r="0.45"/><circle cx="632.5" cy="231.0" r="0.45"/><circle cx="636.5" cy="231.0" r="0.45"/><circle cx="640.5" cy="231.0" r="0.45"/><circle cx="645.5" cy="231.0" r="0.45"/><circle cx="630.5" cy="235.0" r="0.45"/><circle cx="636.5" cy="236.0" r="0.45"/><circle cx="642.5" cy="235.0" r="0.45"/><circle cx="633.5" cy="238.0" r="0.45"/><circle cx="639.5" cy="238.0" r="0.45"/></g></g><circle cx="636.5" cy="226.0" r="14.6" fill="none" stroke="#9fe8a0" stroke-width="0.8" opacity="0.7"/>
<text x="573.2" y="252.9" text-anchor="middle" class="tl">Nogo</text><text x="604.6" y="252.9" text-anchor="middle" class="tl">Nogo</text><text x="604.6" y="266.2" text-anchor="middle" class="tl">HS</text><text x="636.5" y="252.9" text-anchor="middle" class="tl">Nogo</text><text x="636.5" y="266.2" text-anchor="middle" class="tl">LS</text>
<path d="M233.1 287.0 L235.3 283.8 L237.5 287.0" fill="none" stroke="#b8b8b8" stroke-width="0.6"/><path d="M220.1 300.5 v3.5 M250.5 300.5 v3.5" stroke="#dedede" stroke-width="0.8" fill="none"/><g clip-path="url(#c13)"><g filter="url(#bl)"><circle cx="235.3" cy="301.0" r="17.6" fill="rgb(32,230,42)"/><ellipse cx="234.3" cy="303.0" rx="20.2" ry="18.6" fill="url(#g52)"/><ellipse cx="234.4" cy="297.0" rx="11.6" ry="10.1" fill="url(#g53)"/><ellipse cx="229.6" cy="310.9" rx="7.8" ry="5.3" fill="url(#g54)"/><ellipse cx="245.3" cy="292.0" rx="9.3" ry="9.3" fill="url(#g55)"/></g><g fill="#0c5a18" opacity="0.5"><circle cx="235.3" cy="291.0" r="0.45"/><circle cx="230.3" cy="293.0" r="0.45"/><circle cx="240.3" cy="293.0" r="0.45"/><circle cx="226.3" cy="297.0" r="0.45"/><circle cx="231.3" cy="297.0" r="0.45"/><circle cx="235.3" cy="296.0" r="0.45"/><circle cx="239.3" cy="297.0" r="0.45"/><circle cx="244.3" cy="297.0" r="0.45"/><circle cx="224.3" cy="301.0" r="0.45"/><circle cx="229.3" cy="301.0" r="0.45"/><circle cx="235.3" cy="301.0" r="0.45"/><circle cx="241.3" cy="301.0" r="0.45"/><circle cx="246.3" cy="301.0" r="0.45"/><circle cx="226.3" cy="306.0" r="0.45"/><circle cx="231.3" cy="306.0" r="0.45"/><circle cx="235.3" cy="306.0" r="0.45"/><circle cx="239.3" cy="306.0" r="0.45"/><circle cx="244.3" cy="306.0" r="0.45"/><circle cx="229.3" cy="310.0" r="0.45"/><circle cx="235.3" cy="311.0" r="0.45"/><circle cx="241.3" cy="310.0" r="0.45"/><circle cx="232.3" cy="313.0" r="0.45"/><circle cx="238.3" cy="313.0" r="0.45"/></g></g><circle cx="235.3" cy="301.0" r="14.6" fill="none" stroke="#9fe8a0" stroke-width="0.8" opacity="0.7"/>
<path d="M264.5 287.0 L266.7 283.8 L268.9 287.0" fill="none" stroke="#b8b8b8" stroke-width="0.6"/><path d="M251.5 300.5 v3.5 M281.9 300.5 v3.5" stroke="#dedede" stroke-width="0.8" fill="none"/><g clip-path="url(#c14)"><g filter="url(#bl)"><circle cx="266.7" cy="301.0" r="17.6" fill="rgb(32,230,42)"/><ellipse cx="265.7" cy="303.0" rx="20.2" ry="18.6" fill="url(#g56)"/><ellipse cx="265.4" cy="297.8" rx="12.4" ry="9.3" fill="url(#g57)"/><ellipse cx="258.9" cy="311.5" rx="8.5" ry="5.3" fill="url(#g58)"/><ellipse cx="279.7" cy="298.0" rx="6.2" ry="14.0" fill="url(#g59)"/></g><g fill="#0c5a18" opacity="0.5"><circle cx="266.7" cy="291.0" r="0.45"/><circle cx="261.7" cy="293.0" r="0.45"/><circle cx="271.7" cy="293.0" r="0.45"/><circle cx="257.7" cy="297.0" r="0.45"/><circle cx="262.7" cy="297.0" r="0.45"/><circle cx="266.7" cy="296.0" r="0.45"/><circle cx="270.7" cy="297.0" r="0.45"/><circle cx="275.7" cy="297.0" r="0.45"/><circle cx="255.7" cy="301.0" r="0.45"/><circle cx="260.7" cy="301.0" r="0.45"/><circle cx="266.7" cy="301.0" r="0.45"/><circle cx="272.7" cy="301.0" r="0.45"/><circle cx="277.7" cy="301.0" r="0.45"/><circle cx="257.7" cy="306.0" r="0.45"/><circle cx="262.7" cy="306.0" r="0.45"/><circle cx="266.7" cy="306.0" r="0.45"/><circle cx="270.7" cy="306.0" r="0.45"/><circle cx="275.7" cy="306.0" r="0.45"/><circle cx="260.7" cy="310.0" r="0.45"/><circle cx="266.7" cy="311.0" r="0.45"/><circle cx="272.7" cy="310.0" r="0.45"/><circle cx="263.7" cy="313.0" r="0.45"/><circle cx="269.7" cy="313.0" r="0.45"/></g></g><circle cx="266.7" cy="301.0" r="14.6" fill="none" stroke="#9fe8a0" stroke-width="0.8" opacity="0.7"/>
<path d="M296.1 287.0 L298.3 283.8 L300.5 287.0" fill="none" stroke="#b8b8b8" stroke-width="0.6"/><path d="M283.1 300.5 v3.5 M313.5 300.5 v3.5" stroke="#dedede" stroke-width="0.8" fill="none"/><g clip-path="url(#c15)"><g filter="url(#bl)"><circle cx="298.3" cy="301.0" r="17.6" fill="rgb(32,230,42)"/><ellipse cx="296.3" cy="303.0" rx="18.6" ry="18.6" fill="url(#g60)"/><ellipse cx="295.6" cy="298.5" rx="9.3" ry="10.1" fill="url(#g61)"/><ellipse cx="293.1" cy="310.9" rx="8.7" ry="7.1" fill="url(#g62)"/><ellipse cx="308.3" cy="292.0" rx="10.8" ry="9.3" fill="url(#g63)"/></g><g fill="#0c5a18" opacity="0.5"><circle cx="298.3" cy="291.0" r="0.45"/><circle cx="293.3" cy="293.0" r="0.45"/><circle cx="303.3" cy="293.0" r="0.45"/><circle cx="289.3" cy="297.0" r="0.45"/><circle cx="294.3" cy="297.0" r="0.45"/><circle cx="298.3" cy="296.0" r="0.45"/><circle cx="302.3" cy="297.0" r="0.45"/><circle cx="307.3" cy="297.0" r="0.45"/><circle cx="287.3" cy="301.0" r="0.45"/><circle cx="292.3" cy="301.0" r="0.45"/><circle cx="298.3" cy="301.0" r="0.45"/><circle cx="304.3" cy="301.0" r="0.45"/><circle cx="309.3" cy="301.0" r="0.45"/><circle cx="289.3" cy="306.0" r="0.45"/><circle cx="294.3" cy="306.0" r="0.45"/><circle cx="298.3" cy="306.0" r="0.45"/><circle cx="302.3" cy="306.0" r="0.45"/><circle cx="307.3" cy="306.0" r="0.45"/><circle cx="292.3" cy="310.0" r="0.45"/><circle cx="298.3" cy="311.0" r="0.45"/><circle cx="304.3" cy="310.0" r="0.45"/><circle cx="295.3" cy="313.0" r="0.45"/><circle cx="301.3" cy="313.0" r="0.45"/></g></g><circle cx="298.3" cy="301.0" r="14.6" fill="none" stroke="#9fe8a0" stroke-width="0.8" opacity="0.7"/>
<text x="235.7" y="329.6" text-anchor="middle" class="tl">Nogo</text><text x="266.7" y="329.6" text-anchor="middle" class="tl">Nogo</text><text x="266.7" y="342.6" text-anchor="middle" class="tl">HS</text><text x="298.3" y="329.6" text-anchor="middle" class="tl">Nogo</text><text x="298.3" y="342.6" text-anchor="middle" class="tl">LS</text>
<path d="M570.3 296.2 L572.5 293.0 L574.7 296.2" fill="none" stroke="#b8b8b8" stroke-width="0.6"/><path d="M557.3 309.7 v3.5 M587.7 309.7 v3.5" stroke="#dedede" stroke-width="0.8" fill="none"/><g clip-path="url(#c16)"><g filter="url(#bl)"><circle cx="572.5" cy="310.2" r="17.6" fill="rgb(32,230,42)"/><ellipse cx="570.5" cy="313.2" rx="20.2" ry="17.1" fill="url(#g64)"/><ellipse cx="568.5" cy="310.2" rx="14.0" ry="10.8" fill="url(#g65)"/><ellipse cx="566.3" cy="320.7" rx="7.8" ry="5.0" fill="url(#g66)"/><ellipse cx="564.5" cy="299.2" rx="12.4" ry="6.2" fill="url(#g67)"/></g><g fill="#0c5a18" opacity="0.5"><circle cx="572.5" cy="300.2" r="0.45"/><circle cx="567.5" cy="302.2" r="0.45"/><circle cx="577.5" cy="302.2" r="0.45"/><circle cx="563.5" cy="306.2" r="0.45"/><circle cx="568.5" cy="306.2" r="0.45"/><circle cx="572.5" cy="305.2" r="0.45"/><circle cx="576.5" cy="306.2" r="0.45"/><circle cx="581.5" cy="306.2" r="0.45"/><circle cx="561.5" cy="310.2" r="0.45"/><circle cx="566.5" cy="310.2" r="0.45"/><circle cx="572.5" cy="310.2" r="0.45"/><circle cx="578.5" cy="310.2" r="0.45"/><circle cx="583.5" cy="310.2" r="0.45"/><circle cx="563.5" cy="315.2" r="0.45"/><circle cx="568.5" cy="315.2" r="0.45"/><circle cx="572.5" cy="315.2" r="0.45"/><circle cx="576.5" cy="315.2" r="0.45"/><circle cx="581.5" cy="315.2" r="0.45"/><circle cx="566.5" cy="319.2" r="0.45"/><circle cx="572.5" cy="320.2" r="0.45"/><circle cx="578.5" cy="319.2" r="0.45"/><circle cx="569.5" cy="322.2" r="0.45"/><circle cx="575.5" cy="322.2" r="0.45"/></g></g><circle cx="572.5" cy="310.2" r="14.6" fill="none" stroke="#9fe8a0" stroke-width="0.8" opacity="0.7"/>
<path d="M601.6 296.2 L603.8 293.0 L606.0 296.2" fill="none" stroke="#b8b8b8" stroke-width="0.6"/><path d="M588.6 309.7 v3.5 M619.0 309.7 v3.5" stroke="#dedede" stroke-width="0.8" fill="none"/><g clip-path="url(#c17)"><g filter="url(#bl)"><circle cx="603.8" cy="310.2" r="17.6" fill="rgb(32,230,42)"/><ellipse cx="601.8" cy="314.2" rx="20.2" ry="15.5" fill="url(#g68)"/><ellipse cx="598.8" cy="319.2" rx="10.8" ry="7.0" fill="url(#g69)"/><ellipse cx="603.8" cy="297.2" rx="14.0" ry="6.2" fill="url(#g70)"/></g><g fill="#0c5a18" opacity="0.5"><circle cx="603.8" cy="300.2" r="0.45"/><circle cx="598.8" cy="302.2" r="0.45"/><circle cx="608.8" cy="302.2" r="0.45"/><circle cx="594.8" cy="306.2" r="0.45"/><circle cx="599.8" cy="306.2" r="0.45"/><circle cx="603.8" cy="305.2" r="0.45"/><circle cx="607.8" cy="306.2" r="0.45"/><circle cx="612.8" cy="306.2" r="0.45"/><circle cx="592.8" cy="310.2" r="0.45"/><circle cx="597.8" cy="310.2" r="0.45"/><circle cx="603.8" cy="310.2" r="0.45"/><circle cx="609.8" cy="310.2" r="0.45"/><circle cx="614.8" cy="310.2" r="0.45"/><circle cx="594.8" cy="315.2" r="0.45"/><circle cx="599.8" cy="315.2" r="0.45"/><circle cx="603.8" cy="315.2" r="0.45"/><circle cx="607.8" cy="315.2" r="0.45"/><circle cx="612.8" cy="315.2" r="0.45"/><circle cx="597.8" cy="319.2" r="0.45"/><circle cx="603.8" cy="320.2" r="0.45"/><circle cx="609.8" cy="319.2" r="0.45"/><circle cx="600.8" cy="322.2" r="0.45"/><circle cx="606.8" cy="322.2" r="0.45"/></g></g><circle cx="603.8" cy="310.2" r="14.6" fill="none" stroke="#9fe8a0" stroke-width="0.8" opacity="0.7"/>
<path d="M632.9 296.2 L635.1 293.0 L637.3 296.2" fill="none" stroke="#b8b8b8" stroke-width="0.6"/><path d="M619.9 309.7 v3.5 M650.3 309.7 v3.5" stroke="#dedede" stroke-width="0.8" fill="none"/><g clip-path="url(#c18)"><g filter="url(#bl)"><circle cx="635.1" cy="310.2" r="17.6" fill="rgb(32,230,42)"/><ellipse cx="633.1" cy="313.2" rx="20.2" ry="17.1" fill="url(#g71)"/><ellipse cx="632.1" cy="308.2" rx="12.4" ry="10.8" fill="url(#g72)"/><ellipse cx="628.2" cy="319.1" rx="10.8" ry="8.1" fill="url(#g73)" transform="rotate(25 628.2 319.1)"/><ellipse cx="633.1" cy="296.2" rx="14.0" ry="5.4" fill="url(#g74)"/></g><g fill="#0c5a18" opacity="0.5"><circle cx="635.1" cy="300.2" r="0.45"/><circle cx="630.1" cy="302.2" r="0.45"/><circle cx="640.1" cy="302.2" r="0.45"/><circle cx="626.1" cy="306.2" r="0.45"/><circle cx="631.1" cy="306.2" r="0.45"/><circle cx="635.1" cy="305.2" r="0.45"/><circle cx="639.1" cy="306.2" r="0.45"/><circle cx="644.1" cy="306.2" r="0.45"/><circle cx="624.1" cy="310.2" r="0.45"/><circle cx="629.1" cy="310.2" r="0.45"/><circle cx="635.1" cy="310.2" r="0.45"/><circle cx="641.1" cy="310.2" r="0.45"/><circle cx="646.1" cy="310.2" r="0.45"/><circle cx="626.1" cy="315.2" r="0.45"/><circle cx="631.1" cy="315.2" r="0.45"/><circle cx="635.1" cy="315.2" r="0.45"/><circle cx="639.1" cy="315.2" r="0.45"/><circle cx="644.1" cy="315.2" r="0.45"/><circle cx="629.1" cy="319.2" r="0.45"/><circle cx="635.1" cy="320.2" r="0.45"/><circle cx="641.1" cy="319.2" r="0.45"/><circle cx="632.1" cy="322.2" r="0.45"/><circle cx="638.1" cy="322.2" r="0.45"/></g></g><circle cx="635.1" cy="310.2" r="14.6" fill="none" stroke="#9fe8a0" stroke-width="0.8" opacity="0.7"/>
<text x="572.2" y="339.5" text-anchor="middle" class="tl">Nogo</text><text x="603.8" y="339.5" text-anchor="middle" class="tl">Nogo</text><text x="603.8" y="352.5" text-anchor="middle" class="tl">HS</text><text x="635.1" y="339.5" text-anchor="middle" class="tl">Nogo</text><text x="635.1" y="352.5" text-anchor="middle" class="tl">LS</text>
<text x="132.5" y="19.7" class="ttl">Between</text><text x="492" y="17.1" class="ttl" style="font-size:17.6px">Within</text><text x="1.3" y="23.2" class="b11">FCz</text><text x="351" y="23.1" class="b11">FCz</text><text x="1.4" y="277.8" class="b11">P3</text><text x="351" y="277.8" class="b11">P3</text><text x="62.4" y="15.2" class="b10">µV/m²</text><text x="413.8" y="13.3" class="b10">µV/m²</text><text x="65.8" y="274.2" class="b10">µV/m²</text><text x="413.8" y="274.2" class="b10">µV/m²</text><text x="321" y="132.9" class="b10">Time (ms)</text><text x="318.9" y="395.8" class="b10">Time (ms)</text><text x="162.9" y="60.5" class="b105">Nogo-P3</text><text x="512.4" y="82.7" class="b105">Nogo-P3</text><text x="160.4" y="303.8" class="b105">Nogo-P3</text><text x="510.6" y="320" class="b105">Nogo-P3</text><text x="113.5" y="244.4" text-anchor="end" class="b105">Nogo-N2</text><text x="467.6" y="228.4" text-anchor="end" class="b105">Nogo-N2</text>
<path d="M160.2 52.4 L145.0 47.0 M148.6 51.3 L145.0 47.0 L150.5 46.0" stroke="#000" stroke-width="1.3" fill="none" stroke-linecap="round" stroke-linejoin="round"/>
<path d="M516.0 72.9 L499.6 67.0 M503.2 71.3 L499.6 67.0 L505.1 66.0" stroke="#000" stroke-width="1.3" fill="none" stroke-linecap="round" stroke-linejoin="round"/>
<path d="M165.8 293.1 L148.4 286.4 M151.9 290.8 L148.4 286.4 L153.9 285.5" stroke="#000" stroke-width="1.3" fill="none" stroke-linecap="round" stroke-linejoin="round"/>
<path d="M520.9 309.3 L504.4 302.2 M507.7 306.7 L504.4 302.2 L510.0 301.5" stroke="#000" stroke-width="1.3" fill="none" stroke-linecap="round" stroke-linejoin="round"/>
<path d="M111.6 233.8 L119.6 225.8 M114.2 227.2 L119.6 225.8 L118.2 231.2" stroke="#000" stroke-width="1.3" fill="none" stroke-linecap="round" stroke-linejoin="round"/>
<path d="M464.9 218.7 L475.6 208.0 M470.2 209.4 L475.6 208.0 L474.2 213.4" stroke="#000" stroke-width="1.3" fill="none" stroke-linecap="round" stroke-linejoin="round"/>
<path d="M100.0 482.8 h19" stroke="#f21416" stroke-width="2.1"/><text x="121.8" y="486.2" class="b105">Nogo HS</text><path d="M209.3 482.8 h19" stroke="#050505" stroke-width="2.1"/><text x="231.1" y="486.2" class="b105">Nogo LS</text><path d="M318.0 482.8 h19" stroke="#13a54c" stroke-width="2.1"/><text x="339.8" y="486.2" class="b105">Nogo</text><path d="M100.0 499.9 h19" stroke="#da9795" stroke-width="2.1"/><text x="121.8" y="503.3" class="b105">Go HS</text><path d="M209.3 499.9 h19" stroke="#a6a6a6" stroke-width="2.1"/><text x="231.1" y="503.3" class="b105">Go LS</text><path d="M318.0 499.9 h19" stroke="#c4d6a0" stroke-width="2.1"/><text x="339.8" y="503.3" class="b105">Go</text>
<rect x="567.8" y="483.1" width="90.3" height="4.6" fill="url(#cb)"/><path d="M567.8 487.6 H658.1 M568 485.5 v3.4 M612.9 487 v2 M657.9 485.5 v3.4" stroke="#223" stroke-width="0.8" fill="none"/><text x="622" y="481.6" text-anchor="middle" class="r11">µV/m²</text><text x="615.3" y="499.1" text-anchor="middle" class="r105">0</text><rect x="567" y="491.6" width="4.2" height="1.9" fill="#111"/><path d="M657.3 496.2 h7.2 M660.9 492.6 v7.2" stroke="#111" stroke-width="1.7"/>
</svg>
</body></html>
